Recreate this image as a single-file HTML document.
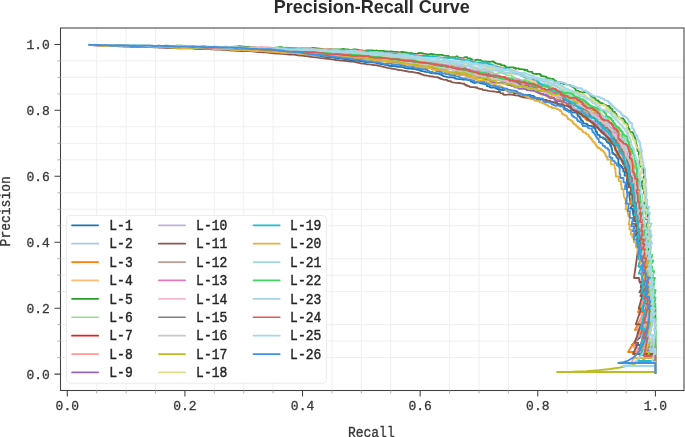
<!DOCTYPE html>
<html><head><meta charset="utf-8"><style>
html,body{margin:0;padding:0;background:#fff;width:685px;height:437px;overflow:hidden}
svg{display:block;will-change:transform}
.tl{font-family:"Liberation Mono",monospace;font-size:13px;fill:#383838;stroke:#383838;stroke-width:0.3px}
.lg{font-family:"Liberation Mono",monospace;font-size:13px;fill:#262626;stroke:#262626;stroke-width:0.38px}
.title{font-family:"Liberation Sans",sans-serif;font-size:18px;font-weight:bold;fill:#2a2a2a}
</style></head><body>
<svg width="685" height="437" viewBox="0 0 685 437">
<path d="M96.70 28.0V390.5M60.5 357.62H684.0M126.11 28.0V390.5M60.5 341.13H684.0M155.52 28.0V390.5M60.5 324.65H684.0M214.32 28.0V390.5M60.5 291.68H684.0M243.73 28.0V390.5M60.5 275.19H684.0M273.14 28.0V390.5M60.5 258.71H684.0M331.95 28.0V390.5M60.5 225.74H684.0M361.35 28.0V390.5M60.5 209.25H684.0M390.76 28.0V390.5M60.5 192.77H684.0M449.57 28.0V390.5M60.5 159.80H684.0M478.97 28.0V390.5M60.5 143.31H684.0M508.38 28.0V390.5M60.5 126.83H684.0M567.19 28.0V390.5M60.5 93.86H684.0M596.59 28.0V390.5M60.5 77.37H684.0M626.00 28.0V390.5M60.5 60.88H684.0" stroke="#efefef" stroke-width="1" fill="none"/>
<g fill="none" stroke-width="1.8" stroke-linejoin="round">
<path d="M88.6 44.9 91.2 44.9 93.8 45.0 96.4 45.1 98.9 45.1 101.5 45.2 104.1 45.3 106.5 45.3 108.9 45.4 111.3 45.4 113.9 45.5 116.3 45.6 118.8 45.8 121.1 45.8 123.5 45.9 126.0 46.1 128.0 45.9 130.2 45.9 132.8 45.8 135.2 46.0 137.6 46.1 139.9 45.8 142.3 46.0 144.5 46.1 146.7 46.2 149.4 46.3 151.8 46.2 154.1 46.3 156.7 46.4 159.3 46.5 161.4 46.6 163.6 46.8 165.9 46.7 168.1 46.9 170.5 46.9 172.9 46.9 175.0 47.1 177.3 47.1 179.7 47.1 182.1 47.2 184.5 47.3 186.7 47.2 188.8 47.5 190.8 47.4 193.1 47.4 195.3 47.4 197.8 47.2 200.4 47.2 202.8 47.0 205.4 47.1 207.3 47.4 209.9 47.4 212.1 47.6 214.5 47.9 216.6 48.0 218.8 48.1 221.2 48.1 223.3 48.3 225.8 48.4 228.1 48.4 230.4 48.3 232.5 48.5 234.8 48.5 237.1 48.5 239.3 48.8 241.3 49.0 243.7 49.2 245.9 49.3 248.2 49.4 250.2 49.6 252.2 49.9 254.8 49.9 257.0 50.0 259.4 50.0 261.9 50.0 264.1 50.2 266.4 50.1 268.6 50.2 271.1 50.4 273.2 50.6 275.1 51.0 277.4 51.4 279.5 51.6 281.9 51.7 284.4 52.1 286.8 52.3 288.8 52.5 291.0 52.5 292.8 52.9 294.9 53.1 297.1 53.3 299.2 53.1 301.2 53.5 303.4 53.6 305.2 54.0 307.4 54.3 309.6 54.5 311.9 54.8 313.9 55.3 316.0 55.4 318.1 55.5 320.0 55.9 321.9 56.3 323.8 56.7 325.9 57.0 328.1 57.3 330.3 57.4 332.5 57.4 334.4 57.9 336.9 58.0 339.0 57.9 340.8 58.4 342.7 58.8 344.5 58.8 344.5 59.5 347.0 59.7 349.0 60.0 351.3 60.0 353.4 60.6 355.7 60.7 358.1 60.9 360.4 61.0 362.6 61.3 364.3 61.8 366.3 62.0 368.6 62.1 370.8 61.9 372.9 62.3 374.9 62.6 376.8 63.1 378.9 63.5 381.0 63.5 381.0 64.2 383.2 64.4 385.2 64.9 387.2 65.2 389.3 65.8 391.4 66.0 393.8 66.0 396.0 66.4 397.7 66.9 400.0 66.9 402.3 67.1 404.1 67.1 404.1 67.8 406.0 68.2 407.9 68.5 410.1 68.6 412.4 68.8 414.5 69.0 416.3 69.5 418.1 69.9 419.8 69.9 419.8 70.7 422.1 71.0 423.9 71.5 425.9 71.9 428.1 72.2 429.7 72.2 429.7 72.8 431.9 73.0 433.9 73.3 435.6 73.7 438.0 73.6 439.5 73.6 439.5 74.4 441.3 74.4 441.3 75.1 442.8 75.1 442.8 75.9 444.8 76.3 446.7 76.8 448.6 77.3 450.9 77.2 453.0 77.5 454.7 77.5 454.7 78.3 456.8 78.9 458.9 79.1 461.0 79.2 463.1 79.6 465.3 79.4 467.4 79.9 469.3 80.4 470.9 80.4 470.9 81.5 472.5 81.5 472.5 82.5 474.3 83.0 476.4 82.7 478.3 82.3 479.8 82.3 479.8 83.1 482.1 83.6 484.1 83.8 485.9 84.4 486.8 84.4 486.8 86.0 488.6 86.4 489.9 86.4 489.9 87.4 491.9 87.7 494.2 87.5 495.7 87.5 495.7 88.4 497.2 88.4 497.2 89.1 498.7 89.1 498.7 89.8 501.0 89.8 503.2 90.0 505.1 89.6 506.8 89.6 506.8 90.6 508.2 90.6 508.2 91.7 510.5 91.9 512.8 91.6 513.7 91.6 513.7 93.1 516.0 93.2 518.0 93.5 519.6 93.5 519.6 94.3 521.6 94.6 522.8 94.6 522.8 95.8 525.0 96.0 526.7 95.3 528.5 94.8 530.4 94.8 530.4 95.6 532.4 95.9 533.8 95.9 533.8 96.9 534.9 96.9 534.9 98.2 536.5 98.2 536.5 99.0 538.5 98.8 540.1 98.8 540.1 100.0 541.4 99.1 543.1 99.1 543.1 99.9 545.2 100.1 546.6 100.1 546.6 100.9 548.0 100.9 548.0 101.7 550.0 102.3 552.1 102.1 553.8 102.7 556.0 102.6 557.1 102.6 557.1 104.2 558.4 104.2 558.4 105.3 560.6 105.5 562.3 105.5 562.3 106.1 563.8 106.1 563.8 106.9 564.5 106.9 564.5 108.6 565.9 108.6 565.9 109.5 567.6 109.5 567.6 110.1 569.7 110.6 570.8 110.6 570.8 111.9 572.6 112.4 574.8 112.7 577.0 112.9 577.3 112.9 577.3 114.9 578.1 114.9 578.1 116.4 579.6 116.4 579.6 117.4 580.3 117.4 580.3 119.0 581.1 119.0 581.1 120.5 582.3 120.5 582.3 121.5 583.2 121.5 583.2 123.2 585.0 123.7 586.6 123.7 586.6 124.5 587.8 124.5 587.8 125.6 590.1 125.8 591.8 125.8 591.8 126.4 593.2 126.4 593.2 127.3 594.3 127.3 594.3 128.6 595.4 128.6 595.4 129.8 595.8 129.8 595.8 131.7 596.9 131.7 596.9 132.9 597.3 132.9 597.3 134.7 599.2 135.2 599.8 135.2 599.8 137.0 601.7 137.4 603.1 137.4 603.1 138.5 604.8 138.5 604.8 139.2 606.0 139.2 606.0 140.6 606.9 140.6 606.9 142.0 608.1 142.0 608.1 143.1 609.6 143.1 609.6 144.0 610.2 144.0 610.2 145.8 611.2 145.8 611.2 147.1 611.6 147.1 611.6 149.1 612.2 149.1 612.2 150.7 612.2 150.7 612.2 152.9 613.2 152.9 613.2 154.1 614.8 154.1 614.8 154.9 615.9 154.9 615.9 156.0 616.5 156.0 616.5 157.7 617.8 157.7 617.8 158.8 618.4 158.8 618.4 160.4 618.3 160.4 618.3 162.8 618.7 162.8 618.7 164.8 620.1 164.8 620.1 165.8 621.4 165.8 621.4 167.0 622.4 167.0 622.4 168.4 623.3 168.4 623.3 171.4 624.6 171.4 624.6 175.7 626.9 175.7 626.9 180.5 627.1 180.5 627.1 184.3 626.9 184.3 626.9 187.8 627.1 187.8 627.1 192.4 629.3 192.4 629.3 195.5 630.6 204.1 633.2 204.1 630.2 208.6 632.3 208.6 633.3 215.0 634.4 215.0 632.0 223.8 635.2 223.8 633.8 228.3 636.1 228.3 635.2 233.8 636.7 233.8 637.6 239.2 638.8 239.2 636.2 246.7 638.1 246.7 638.0 254.2 641.0 254.2 641.0 261.0 642.9 261.0 640.9 265.7 643.5 265.7 642.7 273.1 645.6 273.1 643.4 277.8 644.5 277.8 641.3 286.2 643.8 286.2 644.1 290.7 646.8 290.7 643.9 294.9 646.5 294.9 644.5 300.0 647.2 300.0 640.9 312.0 647.2 312.0 637.6 333.4 644.1 333.4 632.0 345.0 655.4 345.0 655.4 374.1" stroke="#1f77b4"/>
<path d="M88.6 44.9 91.2 44.9 93.8 45.0 96.3 45.0 98.9 45.1 101.4 45.1 104.0 45.2 106.5 45.3 108.8 45.3 111.2 45.3 113.6 45.4 115.9 45.3 118.4 45.4 120.8 45.5 123.1 45.6 125.5 45.7 127.7 45.7 129.9 45.7 132.4 45.9 134.7 46.0 137.1 46.2 139.4 46.3 141.5 46.3 144.0 46.1 146.6 46.1 148.8 46.2 151.0 46.3 153.2 46.5 155.8 46.5 158.3 46.6 160.5 46.7 162.6 46.8 165.1 46.9 167.5 46.9 169.9 46.8 172.2 46.8 174.5 46.6 176.9 46.7 179.3 46.7 181.7 46.8 184.0 46.8 186.0 47.0 188.3 47.1 190.4 46.9 192.4 47.2 194.7 47.2 197.1 47.4 199.5 47.7 202.0 47.6 204.3 47.7 206.8 47.7 209.2 47.6 211.4 47.2 214.0 47.3 216.1 47.4 218.4 47.7 220.6 47.9 223.1 48.0 225.3 47.8 227.8 47.9 229.9 48.1 232.2 48.1 234.2 48.3 236.7 48.5 238.8 48.7 240.9 49.0 243.0 48.8 245.1 49.1 247.4 49.2 249.4 49.0 251.7 49.2 254.3 49.3 256.3 49.0 258.2 48.7 260.1 49.0 262.6 49.0 265.0 49.0 267.3 49.3 269.4 49.4 271.6 49.6 273.7 49.8 276.1 49.9 278.5 50.0 280.8 50.4 282.9 50.3 285.2 50.3 287.4 50.8 289.7 50.8 291.8 50.7 294.1 50.8 296.3 50.8 298.5 50.9 300.6 50.8 302.8 50.9 305.1 51.2 307.1 51.6 309.3 51.7 311.6 51.6 313.8 51.8 316.0 51.6 318.1 51.7 320.5 51.8 322.6 52.0 324.5 52.3 326.6 52.5 329.0 52.8 331.2 52.8 333.1 53.2 335.2 53.0 337.3 52.9 339.4 53.2 341.5 52.9 343.7 53.1 345.7 53.4 347.7 53.7 350.1 53.6 352.1 54.1 354.5 54.1 356.7 54.5 358.9 54.8 360.9 55.2 363.2 55.2 365.5 55.2 367.6 55.4 369.7 55.6 371.8 55.8 374.0 55.7 376.0 55.9 377.9 56.2 380.1 56.1 381.9 56.6 384.1 56.5 386.0 57.0 387.8 57.5 389.9 57.4 392.1 57.4 394.3 57.7 395.9 57.7 395.9 58.5 398.0 58.3 400.1 58.0 401.9 58.0 401.9 58.6 403.8 59.0 405.9 58.8 408.2 58.6 409.9 59.1 411.6 59.6 414.0 59.9 416.1 60.1 418.0 60.6 420.2 61.0 421.8 61.0 421.8 61.7 423.9 62.0 426.2 62.3 428.5 62.2 430.7 62.4 433.0 62.4 435.2 62.4 437.1 62.9 439.3 62.9 440.9 62.9 440.9 63.5 442.7 64.0 444.7 64.3 446.7 64.8 448.3 64.8 448.3 65.6 450.5 65.4 452.3 65.9 454.5 65.7 456.6 65.9 457.8 65.9 457.8 67.1 459.7 67.3 461.5 67.3 461.5 68.1 463.6 68.1 465.8 68.2 467.7 68.6 469.5 68.6 469.5 69.2 471.8 69.2 473.1 69.2 473.1 70.3 475.2 70.4 476.9 70.4 476.9 71.1 478.6 71.1 478.6 71.9 480.6 71.5 482.9 71.5 484.8 72.1 486.5 72.1 486.5 72.7 488.2 73.3 489.8 73.3 489.8 73.9 491.7 74.3 493.3 74.3 493.3 75.1 495.4 75.3 497.6 75.4 499.0 75.4 499.0 76.3 500.8 76.7 502.7 77.1 504.3 77.1 504.3 77.8 505.9 77.8 505.9 78.5 508.3 78.6 510.0 77.8 511.3 77.8 511.3 78.8 512.6 78.8 512.6 79.9 514.2 79.9 514.2 80.5 515.8 80.5 515.8 81.2 517.9 81.2 519.5 81.2 519.5 81.9 520.7 81.9 520.7 83.0 522.2 83.0 522.2 84.0 523.7 84.0 523.7 84.9 525.8 85.4 527.3 84.6 529.5 84.7 531.8 84.4 533.6 85.0 534.8 85.0 534.8 86.0 536.1 86.0 536.1 87.1 537.6 86.4 539.8 86.4 541.3 86.4 541.3 87.3 542.1 87.3 542.1 89.0 544.4 88.9 545.6 88.9 545.6 89.9 547.7 90.3 549.9 90.3 551.4 90.3 551.4 91.3 553.5 91.1 555.0 91.1 555.0 92.0 556.4 92.0 556.4 92.9 558.4 93.2 560.3 93.7 562.6 93.6 563.7 93.6 563.7 95.0 565.3 95.0 565.3 95.6 566.6 95.6 566.6 96.7 567.7 96.7 567.7 97.8 570.1 97.9 571.2 97.9 571.2 98.9 573.4 99.3 575.0 99.3 575.0 99.9 576.5 99.9 576.5 100.7 577.3 100.7 577.3 102.4 578.6 102.4 578.6 103.5 581.1 103.5 582.5 103.5 582.5 104.5 584.1 104.5 584.1 105.1 585.6 105.1 585.6 105.9 587.4 105.9 587.4 106.6 588.3 106.6 588.3 108.0 589.6 108.0 589.6 109.1 591.3 109.7 593.3 110.0 595.0 110.5 595.8 110.5 595.8 112.0 596.5 112.0 596.5 113.7 597.5 113.7 597.5 114.9 598.3 114.9 598.3 116.4 599.7 116.4 599.7 117.3 600.9 117.3 600.9 118.6 602.9 119.0 604.4 119.0 604.4 119.9 606.0 119.9 606.0 120.5 607.6 120.5 607.6 121.2 608.6 121.2 608.6 122.7 610.2 122.7 610.2 123.4 611.6 123.4 611.6 124.3 612.4 124.3 612.4 125.8 613.5 125.8 613.5 127.1 613.9 127.1 613.9 129.0 614.8 129.0 614.8 130.6 616.2 130.6 616.2 131.5 617.0 131.5 617.0 133.2 618.4 133.2 618.4 134.1 620.2 134.6 621.4 134.6 621.4 135.8 622.5 135.8 622.5 137.0 623.6 137.0 623.6 138.4 623.9 138.4 623.9 140.6 624.5 140.6 624.5 142.4 625.4 142.4 625.4 143.9 626.0 143.9 626.0 145.7 626.4 145.7 626.4 147.6 627.1 147.6 627.1 149.3 628.3 149.3 628.3 150.5 628.4 150.5 628.4 152.7 629.6 152.7 629.6 153.8 630.9 153.8 630.9 154.8 631.6 154.8 631.6 156.4 631.4 156.4 631.4 158.9 631.9 158.9 631.9 160.6 632.3 160.6 632.3 162.5 632.8 162.5 632.8 164.2 633.2 164.2 633.2 166.0 634.2 166.0 634.2 167.2 633.9 167.2 633.9 170.0 633.9 170.0 633.9 172.3 634.3 172.3 634.3 174.3 635.6 174.3 635.6 175.3 636.0 175.3 636.0 177.2 635.9 177.2 635.9 179.4 636.0 179.4 636.0 182.9 635.8 182.9 635.8 185.5 640.0 185.5 640.0 190.4 639.7 190.4 639.7 193.5 639.8 193.5 639.8 196.9 638.5 201.2 641.2 201.2 637.8 205.2 640.8 205.2 639.9 209.2 642.8 209.2 639.9 215.0 641.7 215.0 642.0 221.4 643.5 221.4 642.0 226.4 644.7 226.4 643.2 235.0 644.6 235.0 642.7 240.4 646.1 240.4 644.4 247.8 647.6 247.8 644.8 253.7 647.6 253.7 644.4 261.3 647.1 261.3 648.3 267.7 650.1 267.7 646.6 273.5 648.0 273.5 645.5 277.9 647.4 277.9 648.2 286.2 650.0 286.2 646.0 293.0 649.0 293.0 649.3 297.5 651.2 297.5 648.5 303.3 651.2 303.3 648.2 310.0 649.2 310.0 646.0 327.0 648.0 327.0 645.0 340.0 655.4 340.0 655.4 374.1" stroke="#aec7e8"/>
<path d="M88.7 45.0 91.4 45.1 94.0 45.1 96.6 45.2 99.2 45.3 101.7 45.4 104.2 45.4 106.7 45.5 109.2 45.6 111.7 45.7 114.2 45.8 116.5 45.8 119.0 45.9 121.2 45.9 123.6 46.0 125.7 45.9 128.1 46.0 130.3 46.0 132.7 46.1 135.5 46.2 137.7 46.3 140.6 46.4 142.7 46.4 144.9 46.5 147.1 46.6 149.4 46.8 151.8 46.7 154.1 46.8 156.2 46.9 158.3 47.0 160.6 46.8 163.2 46.9 165.5 46.8 168.0 46.9 170.2 47.1 172.5 47.0 174.7 46.8 177.2 47.0 179.7 47.1 181.7 47.3 184.2 47.5 186.3 47.8 188.8 48.0 191.0 48.0 193.3 48.1 195.4 48.4 197.9 48.3 200.3 48.6 202.9 48.5 205.1 48.6 207.6 48.6 210.1 48.5 212.6 48.5 215.0 48.5 217.5 48.6 219.8 48.8 221.9 49.0 224.2 48.9 226.5 48.8 228.6 49.0 231.0 49.0 233.5 49.3 235.6 49.4 237.7 49.3 239.9 49.2 242.0 49.4 244.1 49.7 246.2 50.1 248.5 50.2 250.9 50.1 253.2 50.2 255.2 50.5 257.6 50.4 260.0 50.3 262.3 50.6 264.4 50.7 266.6 50.8 268.7 50.9 271.1 50.9 273.3 51.2 275.4 51.3 277.5 51.5 279.8 51.5 282.1 51.6 284.4 51.6 286.5 51.8 288.7 51.9 290.8 52.1 293.1 52.2 295.2 52.2 297.3 51.9 299.5 52.0 301.5 52.3 303.6 52.8 305.8 52.9 308.0 53.1 309.9 53.4 311.9 53.7 314.1 53.5 316.3 53.3 318.4 52.9 320.8 53.1 323.0 53.3 324.9 53.7 327.0 53.9 329.0 54.1 331.1 54.4 333.0 54.9 335.2 54.9 337.4 54.8 339.5 54.7 341.8 55.0 343.9 54.9 346.2 55.1 348.4 55.3 350.4 55.6 352.4 55.4 354.3 55.7 356.3 56.1 358.4 56.2 360.6 56.5 362.9 56.6 364.8 57.0 366.9 57.2 369.2 57.2 371.4 57.1 373.5 57.2 375.5 57.4 377.7 57.2 379.5 57.7 381.7 57.6 383.8 58.0 386.0 58.1 387.9 58.1 387.9 58.7 389.7 58.7 389.7 59.3 391.7 59.8 393.6 59.8 393.6 60.5 395.7 60.6 397.8 60.5 400.0 60.8 402.1 60.6 404.0 61.0 406.4 61.2 408.7 61.3 410.6 61.6 412.4 61.6 412.4 62.3 414.6 62.1 416.5 62.7 418.8 62.7 420.7 63.1 422.3 63.7 424.2 64.2 425.9 64.8 427.9 65.1 429.9 65.3 431.6 65.9 433.6 66.3 435.6 66.8 437.6 67.1 439.6 67.4 441.4 67.4 441.4 68.2 443.6 68.3 445.8 68.0 448.0 68.2 450.2 68.4 451.7 68.4 451.7 69.2 453.5 69.6 455.6 69.6 457.1 69.6 457.1 70.4 459.3 70.6 461.2 71.0 462.7 71.0 462.7 72.0 464.6 72.3 466.3 72.3 466.3 73.0 468.2 73.5 469.9 73.5 469.9 74.1 471.6 73.6 473.8 73.9 475.4 73.9 475.4 75.0 476.8 75.0 476.8 75.9 478.6 75.4 480.7 75.7 482.5 75.7 482.5 76.3 483.9 76.3 483.9 77.1 485.8 77.6 487.6 77.6 487.6 78.3 489.7 78.7 491.5 79.0 493.1 79.0 493.1 80.2 495.1 79.7 497.4 79.6 499.2 80.1 501.1 80.6 502.9 80.6 502.9 81.2 504.5 81.2 504.5 81.8 505.8 81.8 505.8 82.7 507.9 82.9 508.9 82.9 508.9 84.3 510.9 83.7 513.0 83.8 514.8 83.8 514.8 84.6 516.9 84.7 518.9 84.7 518.9 85.4 520.6 85.4 520.6 86.3 522.1 86.3 522.1 87.0 523.6 87.0 523.6 88.0 525.4 88.5 527.1 88.5 527.1 89.2 529.0 89.6 530.3 89.6 530.3 90.8 532.2 90.4 534.2 90.9 536.2 90.6 537.4 90.6 537.4 91.7 538.5 91.7 538.5 93.1 540.0 93.1 540.0 93.9 541.5 93.9 541.5 94.6 543.6 94.7 545.1 94.7 545.1 95.5 546.9 95.5 546.9 96.1 548.6 96.7 551.0 96.4 552.1 96.4 552.1 97.6 553.5 97.6 553.5 98.5 555.5 99.0 557.4 99.3 559.2 99.3 559.2 100.0 560.7 100.0 560.7 100.7 561.8 100.7 561.8 102.2 563.7 102.5 565.9 102.8 566.7 102.8 566.7 104.5 567.5 104.5 567.5 106.1 568.9 106.1 568.9 107.1 571.2 107.0 572.2 107.0 572.2 108.4 573.3 108.4 573.3 109.7 574.8 109.7 574.8 110.5 576.7 110.8 578.0 110.8 578.0 111.9 579.2 111.9 579.2 113.0 580.1 113.0 580.1 114.4 581.4 114.4 581.4 115.4 582.5 115.4 582.5 116.8 584.1 116.8 584.1 117.7 585.3 117.7 585.3 118.9 586.4 118.9 586.4 120.2 588.2 120.2 588.2 120.8 590.2 121.0 591.7 121.0 591.7 121.8 592.1 121.8 592.1 123.7 594.1 124.1 594.9 124.1 594.9 125.7 596.4 125.7 596.4 126.5 597.5 126.5 597.5 127.7 598.6 127.7 598.6 129.0 599.9 129.0 599.9 129.9 600.9 129.9 600.9 131.4 602.7 132.0 604.2 132.0 604.2 132.9 604.7 132.9 604.7 134.7 606.0 134.7 606.0 135.7 606.7 135.7 606.7 137.5 608.1 137.5 608.1 138.5 608.2 138.5 608.2 140.7 609.8 140.7 609.8 141.6 611.9 141.9 612.0 141.9 612.0 144.0 613.3 144.0 613.3 144.8 614.6 144.8 614.6 145.8 615.9 145.8 615.9 146.7 615.7 146.7 615.7 148.8 616.2 148.8 616.2 150.6 616.5 150.6 616.5 152.7 617.0 152.7 617.0 154.5 618.0 154.5 618.0 155.7 618.9 155.7 618.9 157.0 620.0 157.0 620.0 158.2 621.1 158.2 621.1 159.3 621.5 159.3 621.5 161.1 622.2 161.1 622.2 162.6 623.0 162.6 623.0 164.2 623.9 164.2 623.9 165.9 625.2 165.9 625.2 167.0 624.9 167.0 624.9 168.9 625.6 168.9 625.6 170.6 626.1 170.6 626.1 172.5 627.0 172.5 627.0 174.0 627.4 174.0 627.4 175.9 627.0 175.9 627.0 178.3 628.7 178.3 628.7 182.3 629.9 182.3 629.9 186.2 631.1 186.2 631.1 190.4 630.6 190.4 630.6 193.2 631.8 193.2 631.8 196.8 630.4 204.3 633.7 204.3 636.1 210.9 637.6 210.9 634.8 218.3 636.9 218.3 634.7 226.6 637.5 226.6 635.6 232.4 638.6 232.4 636.7 239.0 639.3 239.0 636.5 243.3 638.2 243.3 639.1 251.6 640.2 251.6 638.5 259.1 641.7 259.1 640.1 267.3 641.5 267.3 641.8 271.9 643.7 271.9 641.8 276.2 644.3 276.2 640.2 283.5 642.8 283.5 644.6 291.6 646.4 291.6 642.4 295.7 643.9 295.7 642.2 300.0 643.6 300.0 637.9 312.2 644.3 312.2 634.8 329.9 642.1 329.9 628.0 352.0 655.4 352.0 655.4 374.1" stroke="#ff7f0e"/>
<path d="M88.6 44.9 91.2 45.0 93.8 45.0 96.4 45.1 98.9 45.1 101.5 45.2 104.0 45.3 106.5 45.3 108.9 45.4 111.4 45.4 113.7 45.4 116.1 45.4 118.6 45.6 120.9 45.6 123.2 45.6 125.5 45.7 127.8 45.7 130.0 45.7 132.0 46.0 134.7 46.0 137.2 45.8 139.9 45.8 142.1 45.8 144.3 46.0 146.6 46.1 148.8 46.3 151.0 46.3 153.5 46.3 156.0 46.3 158.7 46.4 160.8 46.5 163.5 46.7 165.6 46.9 167.9 46.7 170.4 46.8 172.5 47.0 174.8 46.9 177.1 46.9 179.5 47.0 181.9 47.1 184.2 47.0 186.6 47.1 188.8 47.1 191.2 47.3 193.3 47.2 195.4 47.5 197.6 47.5 200.2 47.5 202.6 47.3 205.1 47.2 207.4 47.4 209.9 47.4 212.1 47.5 214.3 47.6 216.5 47.9 219.1 48.0 221.2 48.2 223.6 48.6 225.8 48.9 228.1 48.9 230.3 48.6 232.4 48.4 235.0 48.7 237.2 48.6 239.4 48.6 241.7 48.6 243.8 48.9 246.1 49.1 248.2 49.3 250.3 49.2 252.6 49.4 254.8 49.4 257.1 49.2 259.3 49.3 261.6 49.5 263.7 49.6 266.1 49.7 268.3 49.8 270.5 50.0 272.8 50.0 275.3 50.2 277.5 50.5 279.8 50.4 282.1 50.5 284.4 50.5 286.7 50.7 289.0 50.7 291.1 50.6 293.4 50.6 295.2 51.1 297.3 50.9 299.7 50.9 301.9 51.4 304.1 51.6 306.4 51.4 308.7 51.7 310.9 51.9 312.8 52.1 315.1 52.1 317.2 52.2 319.4 52.4 321.6 52.2 323.7 52.4 325.9 52.2 328.2 52.4 330.4 52.2 332.0 52.7 334.3 52.9 336.4 53.2 338.6 53.3 340.9 53.4 343.1 53.6 345.1 53.8 347.1 53.6 349.2 54.0 351.4 54.2 353.1 54.7 355.1 54.4 357.6 54.6 359.9 54.7 361.9 55.2 364.1 55.5 366.3 55.3 368.4 55.5 370.6 55.4 372.3 56.0 374.6 55.9 376.8 56.0 378.9 56.2 380.7 56.6 382.9 56.5 384.9 56.8 386.9 57.1 388.9 57.3 391.1 57.4 392.9 57.9 395.1 58.0 397.2 58.0 397.2 58.6 399.3 58.7 401.3 59.1 403.3 59.6 405.6 59.8 407.8 59.9 409.8 59.7 411.5 60.2 413.2 60.7 415.1 61.2 417.3 61.5 419.3 61.7 421.6 61.7 423.7 61.9 425.7 61.4 427.3 62.0 429.0 62.0 429.0 62.8 431.1 63.3 432.7 63.3 432.7 64.0 434.9 64.0 436.7 64.5 439.0 64.5 441.0 64.8 442.8 64.8 442.8 65.5 445.0 65.7 446.8 65.7 446.8 66.5 448.6 67.0 450.8 67.2 453.0 67.4 455.1 67.7 457.3 68.0 459.5 67.8 461.0 67.8 461.0 68.7 462.3 68.7 462.3 69.6 464.3 70.0 466.6 70.0 468.8 70.0 470.7 69.7 472.9 69.7 472.9 70.3 475.0 70.2 476.9 70.2 476.9 71.0 478.1 71.0 478.1 72.2 480.0 72.7 481.5 72.7 481.5 73.7 483.1 74.2 485.3 74.4 487.1 74.4 487.1 75.0 488.9 74.5 490.8 75.0 492.3 75.0 492.3 76.0 494.2 76.5 496.0 75.9 498.1 76.3 499.4 76.3 499.4 77.6 501.3 76.7 502.6 76.7 502.6 77.6 504.5 77.6 504.5 78.2 505.8 78.2 505.8 79.2 507.9 79.5 510.1 79.3 512.1 79.1 514.3 79.0 515.3 79.0 515.3 80.3 517.1 80.8 518.4 80.8 518.4 82.0 520.5 82.2 522.0 82.2 522.0 83.1 523.3 83.1 523.3 84.2 525.3 84.0 527.4 84.2 529.2 84.2 529.2 84.8 530.7 84.8 530.7 85.6 532.9 85.8 535.1 85.9 537.0 86.3 538.5 86.3 538.5 86.9 539.8 86.9 539.8 87.9 541.5 87.9 541.5 88.6 543.3 88.6 543.3 89.4 544.5 89.4 544.5 90.5 545.8 90.5 545.8 91.7 547.2 91.7 547.2 92.8 549.0 93.3 551.1 93.1 553.3 93.3 554.7 93.3 554.7 94.4 556.6 93.7 558.4 93.7 558.4 94.3 559.7 94.3 559.7 95.4 560.8 95.4 560.8 96.8 563.0 97.0 564.9 97.4 566.5 97.4 566.5 98.4 567.9 98.4 567.9 99.5 568.9 99.5 568.9 100.7 570.8 101.3 571.9 101.3 571.9 102.8 573.8 103.3 575.2 103.3 575.2 104.3 577.6 104.2 578.8 104.2 578.8 105.6 579.6 105.6 579.6 107.1 580.9 107.1 580.9 108.2 581.9 108.2 581.9 109.5 583.3 109.5 583.3 110.4 585.2 110.9 587.0 110.9 587.0 111.5 588.3 111.5 588.3 112.5 589.6 112.5 589.6 113.7 591.7 113.9 593.5 113.9 593.5 114.6 594.2 114.6 594.2 116.2 595.7 116.2 595.7 117.0 596.5 117.0 596.5 118.4 597.2 118.4 597.2 120.0 598.3 120.0 598.3 121.4 598.8 121.4 598.8 123.3 600.8 123.6 602.8 124.1 604.5 124.1 604.5 124.9 605.4 124.9 605.4 126.5 606.5 126.5 606.5 127.7 607.7 127.7 607.7 129.0 608.1 129.0 608.1 131.1 609.1 131.1 609.1 132.6 610.2 132.6 610.2 133.8 611.3 133.8 611.3 135.1 612.8 135.1 612.8 135.9 613.8 135.9 613.8 137.2 615.7 137.8 616.5 137.8 616.5 139.4 617.3 139.4 617.3 140.9 618.4 140.9 618.4 142.2 619.6 142.2 619.6 143.4 620.3 143.4 620.3 145.0 620.9 145.0 620.9 146.8 621.4 146.8 621.4 148.7 621.9 148.7 621.9 150.5 622.6 150.5 622.6 152.1 623.5 152.1 623.5 153.5 624.9 153.5 624.9 154.3 625.4 154.3 625.4 156.2 626.3 156.2 626.3 157.5 626.7 157.5 626.7 159.3 626.7 159.3 626.7 161.6 627.3 161.6 627.3 163.3 627.2 163.3 627.2 165.5 628.0 165.5 628.0 167.2 629.4 167.2 629.4 168.1 630.3 168.1 630.3 169.5 631.2 169.5 631.2 171.1 632.2 171.1 632.2 172.6 632.3 172.6 632.3 174.8 632.4 174.8 632.4 177.1 632.7 177.1 632.7 179.1 631.7 179.1 631.7 182.9 632.8 182.9 632.8 187.3 633.0 187.3 633.0 190.7 634.4 190.7 634.4 193.6 635.2 193.6 635.2 198.0 635.3 206.9 638.7 206.9 635.9 211.3 639.1 211.3 636.5 219.8 637.8 219.8 640.1 227.6 641.9 227.6 639.8 232.9 642.0 232.9 638.8 237.3 641.7 237.3 639.4 246.1 641.1 246.1 641.1 255.0 644.4 255.0 642.3 261.2 644.4 261.2 643.5 268.4 644.7 268.4 644.0 273.5 646.4 273.5 645.1 279.3 647.4 279.3 644.1 284.2 647.4 284.2 644.7 290.3 646.3 290.3 646.2 294.5 648.6 294.5 645.1 300.6 647.7 300.6 648.2 305.0 649.4 305.0 645.6 317.1 649.5 317.1 644.1 332.9 647.8 332.9 640.0 352.0 655.4 352.0 655.4 374.1" stroke="#ffbb78"/>
<path d="M88.4 44.7 91.0 44.8 93.6 44.8 96.1 44.9 98.6 44.9 101.2 45.0 103.6 45.0 106.0 45.0 108.4 44.9 110.9 45.0 113.3 45.1 115.5 45.0 118.0 45.1 120.3 45.1 122.5 45.1 124.9 45.1 127.3 45.3 129.5 45.2 131.7 45.3 133.9 45.3 136.3 45.5 138.8 45.8 141.4 45.7 144.1 45.7 146.2 45.8 148.4 45.9 151.1 45.9 153.7 46.0 156.1 45.9 158.3 45.6 160.6 45.8 163.1 45.9 165.4 45.7 167.8 45.7 169.9 45.9 172.4 45.9 174.6 45.8 176.7 45.6 179.1 45.6 181.5 45.7 184.0 45.9 186.0 46.1 188.3 46.1 190.6 46.2 192.9 46.2 195.3 46.4 197.7 46.6 200.2 46.6 202.6 46.3 204.8 46.4 207.1 46.7 209.5 46.9 212.0 46.9 214.4 46.8 216.8 46.8 219.3 46.9 221.6 47.1 223.8 46.9 226.2 47.0 228.7 47.1 231.1 47.2 233.1 46.9 235.3 46.7 237.5 46.5 239.5 46.2 241.9 46.5 244.3 46.7 246.3 46.9 248.6 47.0 251.0 47.3 253.0 47.5 255.2 47.5 257.5 47.8 259.8 48.0 262.0 48.2 264.5 48.2 266.6 47.9 269.1 47.9 271.4 47.9 273.8 47.9 276.0 47.6 278.1 47.4 280.3 47.1 282.4 47.4 284.3 47.8 286.4 47.6 288.8 47.8 291.1 47.8 293.1 48.1 295.4 48.2 297.4 48.4 299.4 48.7 301.4 48.4 303.9 48.5 306.4 48.5 308.7 48.5 311.0 48.3 313.0 48.0 315.1 48.1 317.3 48.3 319.5 48.6 321.6 48.9 323.8 49.2 326.2 49.4 328.3 49.5 330.1 49.1 332.2 49.5 334.4 49.5 336.6 49.3 338.9 49.5 341.0 49.3 343.0 48.9 345.1 49.2 347.1 49.4 349.1 49.7 351.5 49.8 353.8 49.4 355.9 49.5 357.9 49.9 359.9 50.3 362.0 50.4 364.2 50.8 366.2 50.5 368.5 50.4 370.8 50.3 372.9 50.5 374.8 50.9 376.7 50.5 378.6 51.0 380.8 50.8 383.0 50.8 384.9 51.2 387.1 51.3 389.0 51.7 390.8 51.4 393.1 51.7 395.1 51.9 397.3 52.0 399.3 52.3 401.4 51.9 403.6 52.0 405.4 52.5 406.9 52.5 406.9 53.1 409.1 53.2 411.4 53.0 413.2 53.6 415.3 53.8 417.4 53.6 418.9 52.9 421.1 53.2 422.8 53.2 422.8 53.8 425.2 53.8 426.8 54.4 429.0 54.5 430.7 53.9 432.2 53.9 432.2 54.7 434.3 54.4 436.1 54.8 438.4 54.8 440.7 54.8 442.6 54.8 442.6 55.4 444.7 55.6 446.7 55.9 448.6 55.9 448.6 56.6 450.4 57.1 452.7 56.9 455.0 57.4 456.3 56.4 457.7 56.4 457.7 57.3 459.5 57.7 461.5 58.1 463.5 57.8 465.4 57.2 467.2 57.2 467.2 57.9 468.9 58.5 470.5 58.5 470.5 59.2 472.0 59.2 472.0 60.0 473.8 60.6 475.6 60.0 477.5 59.6 479.2 60.1 481.0 60.1 481.0 60.8 482.7 61.4 485.0 61.4 486.5 61.4 486.5 62.1 488.3 61.7 490.3 61.9 492.4 61.4 493.6 61.4 493.6 62.4 495.1 62.4 495.1 63.2 497.1 63.6 499.0 64.1 500.7 64.1 500.7 64.9 502.7 65.4 504.4 65.4 504.4 66.0 505.5 66.0 505.5 67.2 507.7 67.4 510.0 67.3 512.2 67.3 513.9 67.3 513.9 68.0 515.6 68.0 515.6 68.8 517.3 68.3 518.9 68.3 518.9 69.0 521.2 69.1 523.2 69.3 524.5 69.3 524.5 70.4 526.3 69.9 527.3 69.9 527.3 71.1 529.0 71.6 531.3 71.8 532.3 71.8 532.3 73.3 534.2 73.7 536.2 74.0 538.6 73.8 540.1 73.8 540.1 74.8 541.1 74.8 541.1 76.0 543.4 76.1 545.1 76.6 546.3 76.6 546.3 77.9 547.9 77.9 547.9 78.8 550.1 78.5 552.1 79.0 553.5 79.0 553.5 80.2 554.8 80.2 554.8 81.2 556.4 81.2 556.4 82.0 558.4 82.2 560.0 82.2 560.0 83.0 562.1 82.6 563.2 82.6 563.2 84.0 565.3 84.1 567.0 84.6 569.1 84.8 570.3 84.8 570.3 86.0 571.9 86.0 571.9 86.6 573.4 86.6 573.4 87.7 574.9 87.7 574.9 88.8 575.6 88.8 575.6 90.3 577.3 90.8 578.5 90.8 578.5 91.8 580.7 92.0 582.6 92.6 584.7 91.9 586.5 92.4 588.1 92.4 588.1 93.2 589.3 93.2 589.3 94.2 590.4 94.2 590.4 95.4 591.4 95.4 591.4 96.9 593.0 96.9 593.0 97.7 594.5 97.7 594.5 98.6 595.5 98.6 595.5 100.0 597.3 100.5 598.3 100.5 598.3 101.7 599.7 101.7 599.7 102.9 601.6 103.2 602.6 103.2 602.6 104.4 604.5 104.4 604.5 105.2 606.2 105.2 606.2 105.9 608.5 106.0 609.4 106.0 609.4 107.4 610.4 107.4 610.4 108.7 611.9 108.7 611.9 109.7 612.5 109.7 612.5 111.5 614.5 111.9 614.9 111.9 614.9 113.9 616.3 113.9 616.3 115.0 616.8 115.0 616.8 116.9 618.4 116.9 618.4 117.7 619.9 117.7 619.9 118.6 622.0 118.5 623.3 118.5 623.3 119.6 624.2 119.6 624.2 121.0 625.1 121.0 625.1 122.3 626.0 122.3 626.0 123.7 627.4 123.7 627.4 124.7 627.8 124.7 627.8 126.7 628.2 126.7 628.2 128.6 629.4 128.6 629.4 129.8 629.6 129.8 629.6 132.0 631.8 132.1 632.8 132.1 632.8 133.6 633.5 133.6 633.5 135.4 634.3 135.4 634.3 137.1 635.0 137.1 635.0 138.8 635.7 138.8 635.7 140.6 635.8 140.6 635.8 143.1 636.2 143.1 636.2 145.1 636.9 145.1 636.9 146.8 637.1 146.8 637.1 149.0 637.5 149.0 637.5 151.0 638.8 151.0 638.8 152.0 638.7 152.0 638.7 154.2 639.9 154.2 639.9 155.4 639.4 155.4 639.4 157.8 639.7 157.8 639.7 159.9 639.6 159.9 639.6 162.2 640.2 162.2 640.2 163.9 640.0 163.9 640.0 166.0 641.2 166.0 641.2 167.1 642.1 167.1 642.1 168.4 643.3 168.4 643.3 169.6 644.0 169.6 644.0 171.1 643.5 171.1 643.5 172.9 644.4 172.9 644.4 174.2 644.5 174.2 644.5 176.4 643.8 176.4 643.8 178.3 643.1 178.3 643.1 179.9 642.6 179.9 642.6 181.6 641.9 181.6 641.9 183.4 641.6 183.4 641.6 185.6 642.4 185.6 642.4 187.2 642.9 187.2 642.9 189.0 644.0 189.0 644.0 193.6 645.3 193.6 645.3 196.6 644.5 203.9 646.7 203.9 645.4 208.5 647.1 208.5 645.7 214.5 648.5 214.5 646.0 219.3 649.0 219.3 645.7 226.3 648.6 226.3 646.1 230.3 649.3 230.3 647.6 235.2 650.5 235.2 648.3 241.3 650.9 241.3 647.5 249.6 650.0 249.6 647.0 258.6 650.0 258.6 646.6 262.0 649.6 262.0 645.1 273.3 649.9 273.3 643.5 294.8 649.4 294.8 646.0 306.0 655.4 306.0 655.4 374.1" stroke="#2ca02c"/>
<path d="M88.5 44.8 91.1 44.9 93.7 45.0 96.3 45.0 98.8 45.0 101.2 45.0 103.7 45.0 106.1 45.1 108.5 45.0 110.8 45.0 113.3 45.1 115.6 45.1 118.2 45.2 120.4 45.2 122.4 45.5 124.7 45.5 127.1 45.6 129.3 45.6 131.8 45.8 134.2 46.0 136.9 46.0 139.5 45.9 141.7 46.0 144.3 46.0 146.7 46.3 149.3 46.2 151.9 46.3 154.1 46.4 156.3 46.6 158.8 46.5 161.3 46.6 163.5 46.7 166.0 46.8 168.5 46.8 170.5 46.5 172.7 46.2 175.0 46.2 177.3 46.2 179.9 46.4 182.2 46.4 184.5 46.4 186.9 46.6 188.9 46.8 191.2 46.8 193.5 46.9 195.6 47.2 197.8 47.3 199.8 47.5 202.5 47.6 204.8 47.8 207.1 47.6 209.4 47.7 211.8 47.6 214.2 47.6 216.4 47.8 219.0 48.0 221.3 47.8 223.6 47.7 225.9 47.6 228.3 47.6 230.4 47.8 232.6 47.6 234.9 47.7 237.0 47.8 239.1 47.7 241.4 47.7 243.6 48.1 245.8 48.2 248.0 48.1 250.3 48.3 252.9 48.3 254.9 48.7 257.4 48.6 259.6 48.7 261.5 49.0 264.1 49.1 266.5 49.2 268.8 49.1 271.2 49.1 273.4 49.3 275.5 49.4 277.7 49.3 279.6 49.7 281.5 50.1 283.8 50.1 285.8 49.7 288.0 49.6 290.1 49.8 292.2 49.7 294.5 49.9 297.1 50.0 299.3 50.1 301.6 50.4 304.0 50.4 306.3 50.6 308.7 50.6 310.9 50.8 313.0 50.9 315.4 50.9 317.7 50.9 319.7 51.3 321.8 51.5 323.8 52.0 326.0 52.0 328.3 52.0 330.5 51.8 332.6 51.6 334.8 51.5 337.1 51.6 339.1 51.8 341.3 52.0 343.4 52.3 345.6 52.5 347.6 52.9 349.8 53.0 351.8 53.4 354.2 53.3 356.5 53.3 358.7 53.4 360.8 53.6 363.2 53.7 365.3 54.0 367.1 54.0 367.1 54.7 369.2 54.8 371.1 55.2 373.3 55.1 375.5 54.9 377.7 54.8 379.6 55.2 381.6 55.5 383.9 55.8 386.0 55.5 388.2 55.5 390.3 55.9 392.3 56.1 394.4 56.2 396.5 56.0 398.7 56.1 400.1 56.1 400.1 57.0 402.1 57.4 404.2 57.5 406.2 58.0 408.4 58.2 410.1 58.2 410.1 58.8 412.3 59.1 414.5 58.8 416.3 58.4 418.6 58.5 420.5 58.8 422.8 59.0 424.9 59.3 426.8 59.8 428.5 59.8 428.5 60.4 430.6 60.7 432.2 60.7 432.2 61.3 434.5 61.4 436.7 61.3 438.9 61.2 441.2 61.0 443.0 61.5 444.6 61.5 444.6 62.2 446.4 62.2 446.4 62.8 448.6 62.8 450.2 62.8 450.2 63.5 452.4 64.0 454.4 64.3 456.6 64.3 458.6 64.9 460.6 65.4 461.9 65.4 461.9 66.5 463.9 66.2 465.8 66.5 467.4 65.8 469.3 66.3 471.1 66.9 473.0 66.9 473.0 67.5 475.0 67.9 476.4 67.9 476.4 68.9 478.1 68.9 478.1 69.5 480.0 69.9 482.0 69.5 483.6 68.5 485.6 68.9 486.8 68.9 486.8 70.2 488.7 70.6 489.8 70.6 489.8 71.9 491.5 71.9 491.5 72.7 493.3 72.7 493.3 73.3 495.3 73.6 497.2 73.3 499.1 72.9 501.3 72.6 502.9 72.6 502.9 73.6 504.9 73.6 504.9 74.2 506.3 74.2 506.3 75.1 508.0 75.7 510.2 75.4 511.6 75.4 511.6 76.3 512.9 76.3 512.9 77.2 514.2 77.2 514.2 78.2 515.8 78.2 515.8 78.9 517.9 79.4 519.7 79.4 519.7 80.1 521.5 80.1 521.5 80.7 523.3 80.0 525.2 79.3 526.2 79.3 526.2 80.6 528.0 80.6 528.0 81.4 529.5 81.4 529.5 82.2 531.8 82.1 533.3 82.1 533.3 83.1 534.8 83.1 534.8 83.8 536.4 83.8 536.4 84.4 538.5 84.9 540.1 84.9 540.1 85.7 541.3 85.7 541.3 86.8 543.4 87.0 545.7 87.1 547.5 87.7 549.3 87.2 551.5 87.5 553.2 87.5 553.2 88.4 554.7 88.4 554.7 89.3 555.4 89.3 555.4 91.0 557.4 90.7 558.6 90.7 558.6 91.7 560.1 91.7 560.1 92.3 561.7 92.3 561.7 92.9 563.4 93.5 565.2 93.0 566.8 93.0 566.8 93.6 567.6 93.6 567.6 95.1 569.6 94.9 570.6 94.9 570.6 96.2 572.6 96.5 574.5 97.0 576.1 96.3 577.1 96.3 577.1 97.6 578.5 97.6 578.5 98.7 580.3 98.7 580.3 99.5 581.5 99.5 581.5 100.8 582.5 100.8 582.5 102.2 583.8 102.2 583.8 103.4 585.4 103.4 585.4 104.1 587.0 104.1 587.0 104.7 588.6 104.7 588.6 105.3 590.0 105.3 590.0 106.4 592.0 106.8 593.9 106.8 593.9 107.4 594.9 107.4 594.9 108.6 596.1 108.6 596.1 109.9 597.5 109.9 597.5 110.9 599.2 111.4 599.9 111.4 599.9 113.1 600.7 113.1 600.7 114.7 602.2 114.7 602.2 115.5 603.8 116.1 605.8 116.7 607.2 116.7 607.2 117.7 608.6 117.7 608.6 118.7 610.3 119.2 611.6 119.2 611.6 120.4 612.8 120.4 612.8 121.6 613.4 121.6 613.4 123.3 614.4 123.3 614.4 124.8 614.6 124.8 614.6 127.1 616.3 127.6 617.8 127.6 617.8 128.5 619.1 128.5 619.1 129.5 620.5 129.5 620.5 130.5 621.4 130.5 621.4 132.1 622.2 132.1 622.2 133.8 623.9 134.3 623.8 134.3 623.8 136.4 624.9 136.4 624.9 137.8 625.4 137.8 625.4 139.7 626.1 139.7 626.1 141.5 627.6 141.5 627.6 142.3 628.4 142.3 628.4 144.0 629.6 144.0 629.6 145.1 630.4 145.1 630.4 146.7 630.6 146.7 630.6 148.9 630.0 148.9 630.0 151.3 630.9 151.3 630.9 152.7 631.0 152.7 631.0 155.0 631.3 155.0 631.3 156.9 632.4 156.9 632.4 158.2 632.8 158.2 632.8 160.0 634.2 160.0 634.2 161.0 634.7 161.0 634.7 162.7 634.7 162.7 634.7 164.9 635.0 164.9 635.0 166.8 635.4 166.8 635.4 168.9 636.2 168.9 636.2 170.3 636.5 170.3 636.5 172.3 637.5 172.3 637.5 173.8 637.0 173.8 637.0 176.1 637.7 176.1 637.7 177.8 638.0 177.8 638.0 179.8 639.2 179.8 639.2 183.2 639.8 183.2 639.8 188.1 639.5 188.1 639.5 191.6 639.3 191.6 639.3 194.3 638.7 194.3 638.7 197.6 640.9 204.3 643.0 204.3 641.9 208.8 643.3 208.8 641.3 217.3 643.5 217.3 643.1 222.4 644.7 222.4 643.5 229.7 646.3 229.7 644.8 234.0 646.0 234.0 644.3 239.8 646.4 239.8 644.8 245.5 647.8 245.5 644.7 249.9 646.8 249.9 646.2 257.6 647.3 257.6 646.9 264.6 649.3 264.6 647.7 269.5 650.2 269.5 649.0 274.6 652.0 274.6 648.4 282.4 650.0 282.4 648.7 290.1 651.8 290.1 648.2 294.7 650.9 294.7 649.1 301.0 652.2 301.0 648.8 308.9 651.8 308.9 647.9 321.5 650.7 321.5 647.0 344.0 655.4 344.0 655.4 374.1" stroke="#98df8a"/>
<path d="M88.6 44.9 91.2 45.0 93.8 45.0 96.4 45.1 98.9 45.1 101.5 45.2 103.9 45.2 106.4 45.2 108.8 45.2 111.1 45.2 113.6 45.3 116.0 45.4 118.4 45.5 120.9 45.6 123.1 45.5 125.0 45.8 127.3 45.8 129.7 45.9 131.9 45.9 134.4 46.2 136.7 46.3 139.2 46.6 141.7 46.4 143.9 46.6 146.1 46.6 148.7 46.6 151.2 46.6 153.7 46.5 156.0 46.7 158.5 46.7 160.7 46.9 163.2 47.0 165.6 46.9 167.8 46.7 170.4 46.8 173.0 47.0 175.5 47.1 177.7 47.0 180.1 47.1 182.4 47.1 184.7 47.0 187.1 47.2 189.3 47.2 191.8 47.4 194.1 47.5 196.3 47.5 198.9 47.5 200.9 47.8 203.1 47.9 205.4 48.0 207.9 48.0 210.4 48.0 213.0 48.1 215.2 48.2 217.5 48.1 220.0 48.1 222.5 48.2 225.0 48.4 227.2 48.6 229.6 48.7 231.7 48.9 234.0 48.9 236.2 48.8 238.6 48.9 241.0 49.1 243.3 49.3 245.7 49.5 248.0 49.6 250.2 49.5 252.5 49.7 254.7 49.8 257.0 50.1 258.9 49.7 261.4 49.7 263.8 49.8 266.1 50.1 268.4 50.0 270.6 50.2 272.8 50.0 275.3 50.2 277.6 50.1 279.8 50.0 282.0 50.3 283.9 50.8 285.9 51.0 288.3 51.2 290.7 51.5 292.9 51.4 295.1 51.4 297.2 51.3 299.3 51.6 301.6 51.9 303.8 52.1 305.8 52.4 307.7 52.7 309.9 52.8 312.3 52.9 314.5 53.1 316.8 53.1 319.2 53.2 321.3 53.4 323.4 53.6 325.3 54.0 327.1 53.5 329.3 53.5 331.2 53.9 333.3 54.2 335.1 54.7 337.3 54.5 339.4 54.5 341.7 54.6 343.9 54.8 346.1 55.0 348.2 54.8 350.0 55.4 352.0 55.7 354.1 55.8 356.2 56.4 358.4 56.2 360.5 56.3 362.7 56.7 365.0 56.6 367.1 56.9 369.0 57.3 371.3 57.4 373.2 57.8 375.1 58.4 377.1 58.6 379.1 58.8 381.2 59.2 383.5 59.4 385.6 59.3 387.6 59.6 389.8 59.7 391.9 59.5 393.9 59.9 396.1 60.1 398.0 60.4 400.0 60.7 402.4 60.9 404.5 61.1 406.5 61.5 408.7 61.4 410.8 61.5 412.8 62.1 414.9 62.6 416.8 63.1 418.5 63.6 420.2 63.6 420.2 64.3 421.9 63.8 424.2 63.8 426.0 64.3 428.2 64.1 430.1 64.5 432.1 64.7 434.3 64.7 435.9 64.7 435.9 65.4 438.0 65.9 440.2 65.7 441.5 65.7 441.5 66.5 442.9 66.5 442.9 67.4 444.9 67.0 446.2 67.0 446.2 67.9 448.2 67.5 450.3 67.4 452.1 67.4 452.1 68.1 454.1 67.9 456.0 68.3 457.6 68.3 457.6 69.1 459.5 69.5 461.2 68.9 463.2 69.4 464.9 69.4 464.9 70.1 466.6 70.1 466.6 70.8 468.5 71.2 470.7 71.1 472.2 71.1 472.2 71.8 473.8 71.8 473.8 72.6 476.0 72.5 478.1 72.7 480.0 73.3 482.1 73.4 484.0 73.7 486.2 73.6 488.3 73.9 489.9 73.9 489.9 74.7 491.1 74.7 491.1 75.7 493.3 75.6 494.9 75.6 494.9 76.4 496.5 76.4 496.5 77.0 498.1 77.0 498.1 77.9 500.2 78.1 502.3 78.0 503.6 76.9 505.0 76.9 505.0 77.7 506.8 78.3 507.8 78.3 507.8 79.8 509.7 80.3 511.0 80.3 511.0 81.2 512.8 81.8 514.9 82.1 517.0 82.5 519.0 82.1 520.8 82.7 523.0 82.8 524.5 82.8 524.5 83.6 525.8 83.6 525.8 84.6 527.3 84.6 527.3 85.4 528.5 85.4 528.5 86.7 530.5 86.3 532.4 86.7 534.3 87.1 536.1 87.7 537.9 88.2 540.1 88.3 541.7 88.3 541.7 89.4 542.5 89.4 542.5 90.9 544.5 90.5 546.3 91.0 548.2 91.4 550.3 91.7 552.2 92.2 554.0 92.2 554.0 92.8 555.7 92.8 555.7 93.7 557.1 93.7 557.1 94.6 557.8 94.6 557.8 96.3 559.9 96.2 561.2 96.2 561.2 97.5 563.1 97.9 565.1 97.4 566.6 97.4 566.6 98.2 568.1 98.2 568.1 99.0 569.5 99.0 569.5 100.0 570.8 100.0 570.8 101.1 572.7 101.6 574.4 101.6 574.4 102.6 576.2 102.2 577.7 102.2 577.7 103.0 579.1 103.0 579.1 104.1 580.1 104.1 580.1 105.3 581.9 105.3 581.9 105.9 582.9 105.9 582.9 107.3 583.7 107.3 583.7 108.8 585.5 108.2 587.0 108.2 587.0 109.0 588.5 109.0 588.5 109.7 589.6 109.7 589.6 111.2 590.9 111.2 590.9 112.4 591.8 112.4 591.8 113.8 592.7 113.8 592.7 115.0 594.6 114.7 595.9 114.7 595.9 115.8 597.8 115.8 597.8 116.5 599.1 116.5 599.1 117.5 599.8 117.5 599.8 119.2 600.3 119.2 600.3 121.1 601.8 121.1 601.8 121.8 603.2 121.8 603.2 122.7 604.6 122.7 604.6 123.6 605.1 123.6 605.1 125.4 606.7 125.4 606.7 126.1 607.9 126.1 607.9 127.3 608.8 127.3 608.8 128.8 609.2 128.8 609.2 130.7 611.0 130.7 611.0 131.4 611.9 131.4 611.9 132.9 613.3 132.9 613.3 133.9 615.4 134.2 616.0 134.2 616.0 136.1 618.2 136.4 619.6 136.4 619.6 137.2 618.9 137.2 618.9 139.3 619.1 139.3 619.1 141.4 619.8 141.4 619.8 143.1 621.4 143.1 621.4 143.7 621.7 143.7 621.7 145.9 622.4 145.9 622.4 147.5 623.1 147.5 623.1 149.2 624.2 149.2 624.2 150.4 624.7 150.4 624.7 152.2 625.5 152.2 625.5 153.7 627.2 154.3 627.1 154.3 627.1 156.7 629.0 157.0 629.6 157.0 629.6 158.6 629.1 158.6 629.1 160.6 628.9 160.6 628.9 162.8 629.1 162.8 629.1 164.8 629.1 164.8 629.1 167.2 630.0 167.2 630.0 168.7 630.9 168.7 630.9 170.3 631.7 170.3 631.7 172.0 632.5 172.0 632.5 173.6 633.3 173.6 633.3 175.3 633.7 175.3 633.7 177.2 633.8 177.2 633.8 179.4 635.1 179.4 635.1 182.1 635.3 182.1 635.3 184.7 635.7 184.7 635.7 189.1 634.8 189.1 634.8 192.0 635.2 192.0 635.2 195.2 636.1 202.3 637.3 202.3 636.7 207.7 639.8 207.7 639.0 212.8 641.0 212.8 638.9 219.0 642.2 219.0 639.9 226.6 642.9 226.6 638.1 231.5 640.4 231.5 639.8 236.5 641.9 236.5 640.2 245.2 642.0 245.2 641.9 252.2 644.6 252.2 642.6 258.8 643.7 258.8 641.8 265.3 644.3 265.3 641.1 269.5 643.2 269.5 643.4 278.3 646.6 278.3 645.0 285.2 646.9 285.2 642.0 293.8 643.1 293.8 646.2 300.0 648.8 300.0 643.2 314.3 648.9 314.3 641.2 334.8 646.9 334.8 642.0 355.0 655.4 355.0 655.4 374.1" stroke="#d62728"/>
<path d="M88.4 44.8 91.0 44.8 93.6 44.8 96.1 44.9 98.7 44.9 101.1 44.9 103.7 45.0 106.1 45.0 108.6 45.1 111.0 45.2 113.5 45.2 115.8 45.2 118.1 45.2 120.6 45.3 123.0 45.5 125.3 45.5 127.6 45.6 129.8 45.6 132.2 45.7 134.9 45.7 137.6 45.6 140.1 45.5 142.4 45.7 144.9 45.5 147.3 45.8 149.8 45.7 152.3 45.7 154.5 45.8 157.1 45.8 159.4 45.7 162.0 45.8 164.4 45.8 166.9 45.8 169.3 45.8 171.4 45.9 173.7 45.8 175.7 46.0 178.1 46.0 180.2 46.3 182.6 46.3 185.1 46.5 187.4 46.6 189.8 46.7 192.0 46.7 194.3 46.8 196.5 46.8 199.0 46.6 201.2 46.7 203.7 46.6 206.0 46.7 208.4 46.7 211.0 46.8 213.5 46.8 216.0 46.8 218.1 46.9 220.6 47.0 222.9 46.8 225.1 46.6 227.5 46.7 229.9 46.8 232.2 46.7 234.6 46.7 236.9 46.8 239.0 47.1 241.3 47.2 243.4 47.4 245.7 47.5 248.0 47.6 250.1 47.5 252.6 47.5 255.1 47.4 257.5 47.3 259.9 47.2 262.4 47.2 264.6 47.4 267.0 47.4 269.5 47.5 271.7 47.8 274.1 47.8 276.4 47.9 278.8 47.9 280.9 48.1 283.2 48.1 285.2 48.2 287.3 48.5 289.5 48.3 291.7 48.4 294.0 48.4 296.1 48.4 298.2 48.3 300.4 48.3 302.9 48.3 304.9 48.6 306.9 48.9 309.2 48.8 311.4 49.0 313.6 49.3 316.0 49.3 318.1 49.4 320.5 49.4 322.8 49.5 325.0 49.3 327.2 49.0 329.3 49.3 331.6 49.3 333.7 49.6 335.8 50.0 338.0 50.0 340.1 50.4 342.3 50.3 344.5 50.4 346.7 50.4 348.9 50.6 351.0 50.4 353.4 50.4 355.8 50.5 358.0 50.8 360.3 50.8 362.3 51.2 364.4 51.4 366.4 51.7 368.5 52.0 370.6 52.2 373.0 52.4 375.2 52.4 377.4 52.3 379.5 52.4 381.5 52.6 383.8 52.8 385.9 53.1 388.1 53.0 390.3 53.1 392.5 53.2 394.5 53.4 396.7 53.3 398.9 53.4 400.8 53.7 402.8 54.1 405.0 54.4 407.2 54.5 409.1 54.8 411.5 54.7 413.4 55.1 415.8 55.0 417.8 54.9 419.8 55.3 421.9 55.5 424.2 55.4 426.1 55.8 428.2 56.0 430.3 56.3 432.6 56.4 434.9 56.3 437.0 56.9 438.9 57.3 440.9 57.5 443.0 57.8 445.0 58.0 447.1 57.7 449.3 57.8 451.3 57.5 452.9 57.5 452.9 58.3 455.0 58.7 457.2 58.5 459.0 58.5 459.0 59.2 461.1 59.0 463.1 59.3 464.6 59.3 464.6 60.1 466.7 59.9 468.4 60.4 470.2 60.4 470.2 61.2 472.2 60.9 473.7 60.9 473.7 61.6 475.7 61.9 477.7 62.4 479.9 62.5 482.2 62.7 484.4 62.7 486.1 62.7 486.1 63.5 487.8 64.0 489.8 64.0 489.8 64.6 492.0 64.9 493.7 65.4 495.6 65.4 495.6 66.1 497.3 66.1 497.3 66.9 499.5 66.9 500.9 66.9 500.9 67.8 502.8 67.8 502.8 68.5 504.5 68.5 504.5 69.2 506.2 69.2 506.2 69.9 508.1 70.2 509.8 70.7 512.1 70.5 513.7 70.5 513.7 71.2 515.6 71.2 515.6 71.9 517.0 71.9 517.0 72.7 518.3 72.7 518.3 73.8 520.1 73.8 520.1 74.8 521.7 74.8 521.7 75.4 523.3 75.4 523.3 76.1 524.9 76.1 524.9 77.0 526.2 77.0 526.2 78.0 527.8 78.0 527.8 78.7 529.4 78.7 529.4 79.4 531.6 79.6 533.2 79.6 533.2 80.4 534.4 80.4 534.4 81.5 536.3 81.9 537.6 81.9 537.6 82.9 539.0 82.9 539.0 83.9 540.9 84.4 542.5 85.0 544.4 85.4 545.9 85.4 545.9 86.3 547.9 86.6 549.8 87.0 551.3 87.0 551.3 87.9 552.4 87.9 552.4 89.3 554.3 89.7 555.6 89.7 555.6 90.9 557.1 90.9 557.1 91.9 558.9 92.4 560.5 92.4 560.5 93.0 561.9 93.0 561.9 94.1 564.1 94.4 565.5 94.4 565.5 95.6 567.0 95.6 567.0 96.3 568.5 96.3 568.5 97.3 569.8 97.3 569.8 98.5 571.7 99.0 573.0 99.0 573.0 100.2 574.4 100.2 574.4 101.0 575.8 101.0 575.8 102.2 577.3 102.2 577.3 102.9 578.8 102.9 578.8 103.7 579.8 103.7 579.8 105.0 581.8 105.2 583.2 105.2 583.2 106.3 584.4 106.3 584.4 107.5 585.9 107.5 585.9 108.3 587.3 108.3 587.3 109.4 588.5 109.4 588.5 110.6 590.1 110.6 590.1 111.2 591.3 111.2 591.3 112.4 592.8 112.4 592.8 113.3 594.3 113.3 594.3 114.0 595.7 114.0 595.7 114.9 597.0 114.9 597.0 116.1 598.3 116.1 598.3 117.3 599.5 117.3 599.5 118.5 600.8 118.5 600.8 119.5 602.3 119.5 602.3 120.2 603.1 120.2 603.1 121.7 603.9 121.7 603.9 123.5 605.2 123.5 605.2 124.6 606.5 124.6 606.5 125.6 608.1 125.6 608.1 126.3 609.4 126.3 609.4 127.4 610.6 127.4 610.6 128.4 612.0 128.4 612.0 129.5 613.1 129.5 613.1 130.7 614.4 130.7 614.4 131.7 615.2 131.7 615.2 133.4 616.0 133.4 616.0 135.1 617.0 135.1 617.0 136.6 617.9 136.6 617.9 138.0 619.1 138.0 619.1 139.2 620.1 139.2 620.1 140.5 621.0 140.5 621.0 142.1 621.7 142.1 621.7 143.7 622.7 143.7 622.7 145.0 623.0 145.0 623.0 147.2 623.7 147.2 623.7 148.8 624.5 148.8 624.5 150.3 625.3 150.3 625.3 151.9 626.0 151.9 626.0 153.5 626.8 153.5 626.8 155.0 626.9 155.0 626.9 157.1 628.0 157.1 628.0 158.3 628.7 158.3 628.7 159.9 629.6 159.9 629.6 161.3 630.6 161.3 630.6 162.4 630.9 162.4 630.9 164.4 631.7 164.4 631.7 165.8 631.9 165.8 631.9 168.1 631.7 168.1 631.7 170.1 631.8 170.1 631.8 172.4 631.9 172.4 631.9 174.6 632.3 174.6 632.3 176.7 632.7 176.7 632.7 178.6 634.2 178.6 634.2 182.2 635.1 182.2 635.1 186.3 635.2 186.3 635.2 189.4 635.5 189.4 635.5 192.7 635.5 192.7 635.5 196.0 636.9 202.1 638.0 202.1 637.3 208.9 639.1 208.9 637.3 217.8 639.8 217.8 640.7 224.1 641.9 224.1 640.3 228.4 643.1 228.4 639.5 235.0 642.2 235.0 641.2 240.6 642.4 240.6 639.4 247.1 642.0 247.1 640.4 252.1 641.5 252.1 639.9 258.4 642.2 258.4 640.5 265.7 643.5 265.7 640.9 274.2 642.5 274.2 640.6 282.5 642.2 282.5 641.7 288.8 642.8 288.8 641.2 292.9 643.3 292.9 642.4 297.7 644.5 297.7 642.6 300.0 643.7 300.0 638.9 314.5 643.1 314.5 637.1 328.9 640.6 328.9 633.5 347.7 638.5 347.7 630.0 366.0 655.4 366.0 655.4 374.1" stroke="#ff9896"/>
<path d="M88.8 45.0 91.4 45.1 94.0 45.2 96.6 45.3 99.2 45.3 101.7 45.4 104.3 45.5 106.8 45.6 109.3 45.7 111.8 45.8 114.3 45.9 116.8 46.0 119.2 46.1 121.5 46.1 123.8 46.1 126.2 46.2 128.4 46.2 130.7 46.3 132.9 46.3 135.7 46.3 137.9 46.4 140.1 46.4 142.3 46.5 144.6 46.7 146.9 46.9 149.6 47.0 152.3 47.1 154.5 47.2 156.8 47.1 159.0 47.2 161.6 47.3 164.2 47.4 166.6 47.4 168.7 47.5 170.9 47.8 173.3 47.8 175.4 47.5 177.8 47.6 180.3 47.7 182.6 47.7 184.9 47.8 187.1 47.7 189.5 47.8 191.9 48.0 194.3 48.2 196.5 48.2 198.8 48.3 201.1 48.5 203.4 48.6 205.6 48.7 208.1 48.7 210.3 48.8 212.7 48.7 214.9 48.9 217.4 48.9 219.8 48.9 222.4 49.1 224.5 49.3 226.9 49.3 229.4 49.5 231.9 49.6 234.1 50.0 236.4 50.0 238.5 49.8 241.0 50.0 243.3 50.1 245.5 50.1 247.5 50.4 250.1 50.4 252.6 50.4 254.9 50.5 256.8 50.8 259.1 51.0 261.3 51.2 263.7 51.0 265.8 51.1 268.0 51.3 270.1 51.4 272.3 51.7 274.4 51.9 276.8 52.0 279.2 52.0 281.4 52.0 283.7 52.0 286.0 52.1 288.2 52.5 290.4 52.5 292.4 52.7 294.5 52.5 296.7 52.6 299.0 52.8 301.5 52.8 304.0 52.9 306.2 53.2 308.2 53.5 310.6 53.6 312.8 53.9 315.0 54.1 317.2 54.5 319.4 54.8 321.5 54.9 323.8 55.0 326.1 54.9 328.2 54.7 330.3 55.0 332.5 55.0 334.6 55.3 336.9 55.5 339.2 55.7 341.2 56.1 343.4 56.3 345.3 56.9 347.3 57.2 349.7 57.2 351.8 57.3 353.8 57.6 356.1 57.6 358.2 57.8 360.4 58.1 362.5 58.4 364.7 58.6 367.0 58.8 369.1 59.1 371.2 59.4 373.4 59.5 375.3 59.9 377.0 59.9 377.0 60.6 379.2 60.6 381.4 60.6 383.4 60.9 385.4 61.2 387.2 61.6 389.6 61.7 391.8 62.0 393.8 62.4 396.2 62.5 398.1 62.8 400.1 63.2 402.0 63.5 404.1 63.8 406.1 64.1 408.0 64.5 409.7 64.5 409.7 65.2 412.0 65.3 414.1 65.6 416.2 66.0 418.2 66.1 420.1 66.1 420.1 66.8 422.0 66.8 422.0 67.4 424.2 67.6 426.1 68.0 428.2 67.8 430.3 68.1 432.3 68.4 434.3 68.7 436.1 68.7 436.1 69.4 437.7 69.4 437.7 70.2 439.7 70.5 441.8 70.6 443.4 70.6 443.4 71.3 445.1 71.7 447.3 72.1 449.3 72.6 451.2 72.3 452.9 72.3 452.9 72.9 455.2 72.8 457.0 72.8 457.0 73.5 458.9 73.8 460.6 73.8 460.6 74.5 462.5 75.0 464.6 74.9 466.3 74.9 466.3 75.5 467.7 75.5 467.7 76.6 469.6 76.6 469.6 77.3 471.7 77.5 473.6 77.8 475.2 77.8 475.2 78.5 477.3 78.3 479.2 77.8 481.3 78.1 483.4 78.3 484.8 78.3 484.8 79.3 486.8 79.5 488.7 79.9 490.0 79.9 490.0 81.1 491.6 81.1 491.6 82.0 493.6 82.3 495.7 82.5 497.8 82.7 499.8 83.1 501.8 82.7 504.0 83.0 505.8 83.6 507.1 83.6 507.1 84.9 509.1 85.2 510.9 85.2 510.9 85.8 513.2 86.0 514.4 86.0 514.4 87.3 516.0 86.7 517.2 86.7 517.2 87.8 518.7 87.8 518.7 88.7 520.8 88.8 523.1 88.9 525.2 89.2 526.6 89.2 526.6 90.2 528.8 90.2 531.2 90.1 533.0 90.7 534.7 90.7 534.7 91.3 536.2 91.3 536.2 92.1 538.0 92.1 538.0 92.8 539.8 93.1 541.6 93.6 543.1 93.6 543.1 94.5 545.1 94.8 546.6 94.8 546.6 95.6 548.0 95.6 548.0 96.6 549.1 96.6 549.1 97.8 551.2 98.1 553.3 97.9 554.3 97.9 554.3 99.4 555.2 99.4 555.2 100.9 556.9 100.9 556.9 101.6 558.9 101.2 561.0 101.4 563.2 101.7 565.0 102.1 566.5 102.1 566.5 103.0 567.9 103.0 567.9 103.9 569.1 103.9 569.1 105.1 570.8 105.1 570.8 106.0 572.5 106.0 572.5 106.7 573.4 106.7 573.4 108.2 574.3 108.2 574.3 109.5 576.4 109.9 577.4 109.9 577.4 111.3 579.3 111.7 581.5 111.8 583.4 112.4 584.5 112.4 584.5 113.8 585.7 113.8 585.7 114.9 587.1 114.9 587.1 115.9 587.9 115.9 587.9 117.4 588.8 117.4 588.8 118.7 589.8 118.7 589.8 120.1 591.5 120.1 591.5 120.9 592.9 120.9 592.9 121.7 593.5 121.7 593.5 123.5 595.2 123.5 595.2 124.2 597.2 124.6 597.9 124.6 597.9 126.1 599.1 126.1 599.1 127.2 600.1 127.2 600.1 128.7 601.1 128.7 601.1 130.1 602.4 130.1 602.4 131.0 603.9 131.0 603.9 131.7 605.3 131.7 605.3 132.5 606.4 132.5 606.4 133.7 607.5 133.7 607.5 135.0 608.6 135.0 608.6 136.3 609.5 136.3 609.5 137.8 610.2 137.8 610.2 139.4 611.1 139.4 611.1 140.9 612.6 140.9 612.6 141.6 614.4 141.6 614.4 142.3 615.5 142.3 615.5 143.5 616.4 143.5 616.4 144.9 617.3 144.9 617.3 146.3 618.2 146.3 618.2 147.7 619.1 147.7 619.1 149.2 619.9 149.2 619.9 150.7 619.6 150.7 619.6 152.7 621.4 152.7 621.4 153.4 621.8 153.4 621.8 155.4 623.1 155.4 623.1 156.3 623.2 156.3 623.2 158.4 623.5 158.4 623.5 160.4 623.7 160.4 623.7 162.5 625.4 162.5 625.4 163.3 626.1 163.3 626.1 164.7 625.8 164.7 625.8 166.9 626.0 166.9 626.0 169.2 626.8 169.2 626.8 170.7 627.8 170.7 627.8 172.2 628.9 172.2 628.9 173.5 629.0 173.5 629.0 175.7 630.2 175.7 630.2 177.0 629.6 177.0 629.6 178.8 630.5 178.8 630.5 182.1 631.4 182.1 631.4 184.7 633.3 184.7 633.3 187.8 633.0 187.8 633.0 190.6 633.6 190.6 633.6 193.5 633.5 193.5 633.5 198.3 635.0 206.7 636.8 206.7 633.8 211.0 636.0 211.0 636.5 219.7 639.1 219.7 635.1 227.1 638.0 227.1 636.3 231.4 638.0 231.4 639.3 236.4 640.3 236.4 637.4 243.0 640.0 243.0 640.4 247.8 641.8 247.8 640.1 253.5 642.6 253.5 639.6 259.8 642.0 259.8 642.3 266.1 644.2 266.1 642.4 272.6 645.4 272.6 644.1 280.9 645.3 280.9 643.5 285.9 646.3 285.9 644.1 294.6 647.3 294.6 644.6 298.8 646.2 298.8 646.2 305.6 647.6 305.6 644.0 310.0 647.1 310.0 641.7 329.3 645.6 329.3 639.0 350.0 655.4 350.0 655.4 374.1" stroke="#9467bd"/>
<path d="M88.7 45.0 91.3 45.0 93.9 45.1 96.5 45.2 99.1 45.2 101.6 45.3 104.2 45.4 106.7 45.5 109.1 45.5 111.5 45.5 113.8 45.5 116.3 45.6 118.8 45.8 120.9 45.6 123.1 45.6 125.5 45.6 127.6 45.6 130.0 45.7 132.3 45.8 134.6 45.9 137.0 46.1 139.8 46.2 142.5 46.2 144.8 46.4 146.9 46.4 149.1 46.5 151.6 46.4 154.2 46.5 156.6 46.8 159.2 46.9 161.7 46.9 163.9 47.1 166.2 47.0 168.5 47.3 170.9 47.4 173.3 47.4 175.7 47.4 178.4 47.7 180.5 47.5 182.7 47.4 185.0 47.4 187.4 47.5 189.7 47.5 192.0 47.6 194.4 47.8 196.7 47.9 199.4 48.0 201.9 47.9 203.9 48.2 206.5 48.3 209.0 48.3 211.2 48.4 213.7 48.4 216.3 48.5 218.6 48.4 220.9 48.7 223.4 48.9 225.6 49.1 227.9 49.0 230.1 48.9 232.2 49.1 234.3 49.3 236.5 49.2 238.7 49.1 240.6 49.5 242.9 49.6 245.1 49.7 247.3 49.6 249.5 49.6 252.0 49.6 254.3 49.7 256.8 49.8 259.1 50.0 261.3 50.1 263.5 50.4 265.7 50.6 268.0 50.8 270.1 51.0 272.4 50.9 274.7 50.9 277.1 50.8 279.5 51.0 281.9 51.2 283.7 51.6 285.9 51.8 288.0 51.7 290.3 51.8 292.1 52.2 294.7 52.3 296.9 52.4 298.9 52.0 300.8 52.3 302.9 52.1 305.1 52.2 307.4 52.1 309.8 52.1 312.2 52.2 314.2 52.5 316.1 52.9 318.3 53.1 320.5 53.0 322.9 53.2 325.2 53.3 327.5 53.2 329.6 52.9 331.4 53.3 333.6 53.1 335.7 53.4 337.9 53.4 339.7 54.0 342.0 54.2 344.0 54.5 345.8 55.0 348.3 55.1 350.5 55.2 352.6 55.3 355.0 55.3 356.9 55.0 359.1 55.1 361.2 55.3 363.5 55.2 365.6 55.5 367.7 55.8 370.0 55.9 372.1 56.0 374.0 56.5 376.3 56.8 378.4 57.2 380.7 57.3 382.8 57.1 385.0 57.2 387.3 57.4 389.3 57.8 391.5 57.8 393.5 58.3 395.7 58.4 397.9 58.6 399.6 59.2 401.8 59.3 403.8 59.9 406.1 59.8 408.0 60.1 410.4 60.2 412.1 59.7 414.2 59.8 415.9 59.8 415.9 60.5 417.8 60.9 419.8 61.4 421.7 60.9 423.2 60.9 423.2 61.6 425.3 61.9 427.3 62.3 429.4 62.6 431.1 62.6 431.1 63.2 432.9 63.6 434.6 63.1 436.2 63.1 436.2 63.7 438.3 64.2 440.1 64.6 442.1 65.0 444.1 64.7 446.1 65.1 448.3 65.1 450.3 65.3 451.6 65.3 451.6 66.5 453.6 66.2 455.8 66.4 457.8 66.8 459.9 66.8 461.5 66.8 461.5 67.7 463.0 67.7 463.0 68.5 464.5 68.5 464.5 69.2 466.6 69.1 468.4 69.1 468.4 69.7 470.1 69.7 470.1 70.4 472.2 69.8 474.0 70.4 475.6 71.0 477.6 71.3 479.9 71.6 482.1 71.3 484.5 71.5 485.6 70.4 487.1 70.4 487.1 71.2 488.5 71.2 488.5 72.1 489.9 72.1 489.9 73.4 491.3 73.4 491.3 74.2 493.2 74.6 495.0 75.1 496.7 75.7 498.2 75.7 498.2 76.9 500.3 77.2 502.5 77.4 504.1 77.4 504.1 78.1 505.9 78.4 508.1 78.2 510.2 78.6 511.9 78.1 513.2 78.1 513.2 79.1 515.0 78.7 516.9 79.1 518.5 79.1 518.5 79.8 519.2 79.8 519.2 81.2 520.1 81.2 520.1 82.8 521.7 82.8 521.7 83.7 523.7 83.4 525.6 83.7 527.6 83.5 528.8 83.5 528.8 84.7 529.7 84.7 529.7 86.2 531.3 86.2 531.3 86.9 533.0 86.2 534.2 86.2 534.2 87.3 535.7 87.3 535.7 88.2 537.2 88.2 537.2 89.1 539.0 88.3 540.1 88.3 540.1 89.5 541.9 88.9 542.8 88.9 542.8 90.2 544.6 90.2 544.6 90.8 545.6 90.8 545.6 92.2 547.4 92.2 547.4 92.9 549.3 92.5 550.8 92.5 550.8 93.3 551.9 93.3 551.9 94.7 554.1 94.7 555.3 94.7 555.3 95.8 556.4 95.8 556.4 96.9 558.3 97.3 560.0 97.3 560.0 98.0 561.8 98.0 561.8 98.6 563.5 98.6 563.5 99.6 564.8 99.6 564.8 100.6 566.3 100.6 566.3 101.4 567.7 101.4 567.7 102.3 569.7 102.6 570.3 102.6 570.3 104.2 571.8 104.2 571.8 104.9 572.8 104.9 572.8 106.2 573.2 106.2 573.2 108.1 575.3 108.6 577.1 109.2 578.8 109.2 578.8 110.0 580.6 110.5 582.6 110.9 584.5 111.3 585.8 111.3 585.8 112.3 586.7 112.3 586.7 113.6 587.4 113.6 587.4 115.3 588.3 115.3 588.3 117.0 589.5 117.0 589.5 118.3 590.6 118.3 590.6 119.6 591.4 119.6 591.4 121.0 593.6 120.7 595.1 120.7 595.1 121.8 596.4 121.8 596.4 122.8 598.0 122.8 598.0 123.7 598.5 123.7 598.5 125.5 599.6 125.5 599.6 126.8 600.4 126.8 600.4 128.5 602.5 128.7 603.5 128.7 603.5 130.1 604.9 130.1 604.9 131.0 605.7 131.0 605.7 132.7 606.6 132.7 606.6 134.2 608.0 134.2 608.0 135.0 609.0 135.0 609.0 136.4 611.0 136.8 612.1 136.8 612.1 138.0 613.1 138.0 613.1 139.4 614.0 139.4 614.0 140.9 615.1 140.9 615.1 142.1 616.4 142.1 616.4 143.0 617.2 143.0 617.2 144.6 617.5 144.6 617.5 146.8 618.1 146.8 618.1 148.4 618.5 148.4 618.5 150.4 619.5 150.4 619.5 151.7 620.6 151.7 620.6 152.9 621.2 152.9 621.2 154.5 622.1 154.5 622.1 155.9 622.6 155.9 622.6 157.7 623.2 157.7 623.2 159.4 624.6 159.4 624.6 160.1 625.5 160.1 625.5 161.4 625.8 161.4 625.8 163.4 626.8 163.4 626.8 164.6 627.1 164.6 627.1 166.7 628.1 166.7 628.1 168.2 628.7 168.2 628.7 170.0 628.7 170.0 628.7 172.4 628.2 172.4 628.2 174.7 629.2 174.7 629.2 176.1 629.6 176.1 629.6 178.0 630.3 178.0 630.3 182.0 631.7 182.0 631.7 186.6 631.9 186.6 631.9 191.3 632.9 191.3 632.9 193.9 633.8 193.9 633.8 198.4 633.5 206.2 636.6 206.2 635.4 211.4 637.4 211.4 635.0 218.4 637.0 218.4 635.8 222.5 638.9 222.5 632.0 237.0 638.0 237.0 638.6 242.2 640.7 242.2 638.2 249.0 640.3 249.0 642.8 257.5 645.7 257.5 641.6 264.2 643.2 264.2 643.0 268.7 646.3 268.7 644.1 272.8 647.0 272.8 644.0 279.8 646.9 279.8 644.2 286.8 645.8 286.8 645.2 290.8 647.7 290.8 646.2 297.0 648.5 297.0 644.9 305.0 646.5 305.0 643.0 316.7 646.5 316.7 641.3 337.9 644.8 337.9 643.0 343.0 655.4 343.0 655.4 374.1" stroke="#c5b0d5"/>
<path d="M88.9 45.1 91.6 45.2 94.2 45.3 96.8 45.4 99.4 45.5 101.9 45.6 104.5 45.7 107.0 45.8 109.5 45.9 112.0 46.0 114.5 46.1 116.9 46.2 119.4 46.3 121.8 46.3 124.2 46.5 126.5 46.5 128.7 46.5 131.1 46.6 133.3 46.7 135.9 46.6 138.1 46.6 140.4 46.7 142.7 46.9 144.9 47.0 147.5 46.9 149.7 47.0 151.9 47.2 154.0 47.3 156.7 47.4 158.9 47.5 161.4 47.6 163.5 47.7 165.6 47.9 168.1 47.9 170.5 47.9 172.6 48.0 175.1 48.2 177.5 48.3 180.0 48.4 182.3 48.4 184.5 48.3 186.8 48.3 189.1 48.4 191.4 48.4 193.4 48.7 195.7 48.8 198.0 48.8 200.2 48.9 202.4 48.9 204.6 49.0 206.8 49.2 209.4 49.2 211.6 49.3 213.8 49.4 216.0 49.7 218.4 49.6 220.5 49.7 222.6 49.9 225.0 49.9 227.3 50.2 229.8 50.4 232.2 50.5 234.3 50.7 236.7 50.8 238.9 50.8 241.3 51.0 243.3 51.2 245.5 51.1 247.8 51.2 250.0 51.2 252.3 51.4 254.5 51.5 256.5 51.8 258.8 52.0 261.0 52.2 263.2 52.3 265.3 52.4 267.5 52.6 269.7 52.8 271.9 53.0 274.1 53.4 276.2 53.6 278.6 53.7 280.7 53.9 283.0 53.9 285.1 54.2 287.4 54.3 289.7 54.5 292.0 54.5 294.3 54.7 296.3 55.0 298.3 55.3 300.5 55.5 302.5 55.7 304.8 56.0 306.9 56.1 308.9 56.5 310.9 56.8 313.1 57.1 315.2 57.3 317.3 57.4 319.2 57.8 321.4 58.1 323.7 58.3 325.6 58.6 327.9 58.8 330.0 59.1 332.1 59.4 334.1 59.6 335.9 60.0 338.2 60.2 340.2 60.5 342.4 60.7 344.6 60.8 346.8 61.1 349.0 61.3 351.1 61.5 353.3 61.7 355.2 62.0 356.9 62.5 359.1 62.9 361.1 63.3 363.2 63.6 365.3 63.9 367.1 64.3 369.4 64.4 371.4 64.6 373.5 65.0 375.8 65.2 377.8 65.5 379.6 65.9 381.4 66.4 383.4 66.8 385.5 67.3 387.5 67.8 389.5 68.2 391.4 68.5 393.3 68.8 395.5 69.2 397.2 69.7 399.1 70.0 401.4 70.1 403.1 70.7 405.2 71.0 407.3 71.4 409.2 71.9 411.4 71.8 413.2 72.2 415.3 72.5 417.1 73.0 419.0 73.0 419.0 73.6 420.8 73.6 420.8 74.2 422.6 74.7 424.4 75.3 426.6 75.5 428.6 76.0 430.4 76.4 432.7 76.5 434.4 76.9 436.4 77.2 438.1 77.2 438.1 77.8 439.9 77.8 439.9 78.6 441.8 79.0 443.5 79.6 445.6 79.9 447.1 79.9 447.1 80.6 449.0 81.1 450.9 81.1 450.9 81.8 452.7 82.3 454.8 82.7 456.9 82.9 459.1 83.0 461.2 83.3 463.0 83.7 464.4 83.7 464.4 84.7 466.0 84.7 466.0 85.5 467.6 85.5 467.6 86.1 469.4 86.1 469.4 86.8 471.4 87.2 473.7 87.1 475.7 87.5 477.2 87.5 477.2 88.2 479.0 88.6 481.0 89.2 482.5 89.2 482.5 89.8 484.5 90.1 486.5 90.4 488.4 90.8 490.4 91.1 492.4 91.3 494.6 91.5 496.6 92.0 498.8 92.0 500.2 92.0 500.2 93.0 502.0 93.5 503.2 93.5 503.2 94.5 505.2 94.8 507.4 94.7 509.7 94.3 511.9 94.6 513.9 95.0 515.9 95.4 518.1 95.6 519.7 95.6 519.7 96.4 521.7 96.8 523.4 97.3 525.4 97.7 527.6 97.9 529.9 98.0 532.1 98.2 534.5 98.2 536.8 98.1 538.5 98.1 538.5 98.8 540.6 99.1 542.6 99.5 544.4 100.0 546.4 100.4 548.2 100.9 550.1 100.9 550.1 101.5 552.2 101.8 554.2 102.3 555.6 102.3 555.6 103.0 557.4 103.6 559.2 104.0 561.4 104.2 562.8 104.2 562.8 105.0 564.7 105.4 566.5 105.8 568.0 105.8 568.0 106.6 569.6 106.6 569.6 107.5 570.8 107.5 570.8 108.8 572.0 108.8 572.0 110.0 573.7 110.0 573.7 110.8 575.4 110.8 575.4 111.4 576.8 111.4 576.8 112.4 578.5 112.4 578.5 113.1 579.9 113.1 579.9 113.9 581.6 113.9 581.6 114.7 582.8 114.7 582.8 115.8 584.2 115.8 584.2 116.7 585.8 116.7 585.8 117.6 586.9 117.6 586.9 119.0 588.1 119.0 588.1 120.2 589.9 120.7 590.7 120.7 590.7 122.2 592.3 122.2 592.3 123.0 593.6 123.0 593.6 124.1 594.1 124.1 594.1 125.8 595.4 125.8 595.4 126.8 596.9 126.8 596.9 127.6 598.1 127.6 598.1 128.6 599.1 128.6 599.1 130.1 600.4 130.1 600.4 131.0 601.3 131.0 601.3 132.5 602.7 132.5 602.7 133.4 603.9 133.4 603.9 134.4 605.1 134.4 605.1 135.5 606.2 135.5 606.2 136.8 607.6 136.8 607.6 137.6 608.4 137.6 608.4 139.2 609.5 139.2 609.5 140.3 610.4 140.3 610.4 141.8 611.3 141.8 611.3 143.2 612.5 143.2 612.5 144.3 613.7 144.3 613.7 145.3 614.4 145.3 614.4 147.0 614.9 147.0 614.9 148.9 615.4 148.9 615.4 150.6 616.7 150.6 616.7 151.9 617.6 151.9 617.6 153.3 618.3 153.3 618.3 154.9 619.1 154.9 619.1 156.3 619.8 156.3 619.8 157.8 620.5 157.8 620.5 159.3 621.7 159.3 621.7 160.6 622.6 160.6 622.6 161.9 623.1 161.9 623.1 163.6 624.3 163.6 624.3 164.8 624.9 164.8 624.9 166.7 625.2 166.7 625.2 168.8 625.8 168.8 625.8 170.6 626.0 170.6 626.0 172.8 627.1 172.8 627.1 174.2 627.4 174.2 627.4 176.2 627.5 176.2 627.5 178.3 628.2 178.3 628.2 182.7 628.9 182.7 628.9 187.3 630.9 187.3 630.9 191.3 630.6 191.3 630.6 194.5 632.8 194.5 632.8 197.8 633.1 206.4 634.6 206.4 633.4 212.0 636.5 212.0 634.1 221.0 637.2 221.0 635.3 226.2 637.6 226.2 635.7 231.4 638.3 231.4 635.8 235.5 639.1 235.5 636.6 240.1 639.9 240.1 637.2 244.5 638.8 244.5 634.0 278.0 639.0 278.0 639.4 282.0 642.0 282.0 640.7 287.1 642.1 287.1 639.4 292.3 642.8 292.3 640.3 296.0 642.2 296.0 638.7 308.6 641.2 308.6 635.8 324.3 641.0 324.3 634.7 342.9 638.3 342.9 633.0 354.0 655.4 354.0 655.4 374.1" stroke="#8c564b"/>
<path d="M88.7 45.0 91.3 45.0 93.9 45.1 96.5 45.2 99.1 45.3 101.6 45.3 104.1 45.3 106.5 45.3 109.0 45.4 111.4 45.4 113.7 45.4 116.2 45.5 118.8 45.8 121.0 45.7 123.3 45.7 125.3 46.0 127.5 45.9 129.9 46.1 132.1 46.1 134.7 45.9 137.1 46.2 139.5 46.0 142.2 45.9 144.4 46.1 146.7 46.2 149.1 46.5 151.6 46.5 154.0 46.8 156.3 47.0 158.7 46.9 161.2 47.0 163.3 47.1 165.8 47.1 168.1 47.0 170.5 46.9 172.9 47.0 175.5 47.2 178.0 47.3 180.2 47.2 182.7 47.4 185.0 47.4 187.3 47.4 189.5 47.4 191.8 47.4 193.8 47.2 196.2 47.4 198.8 47.4 201.3 47.3 203.7 47.5 205.6 47.8 207.8 47.9 210.4 48.0 212.8 48.3 215.1 48.6 217.3 48.8 219.6 48.6 221.9 48.5 224.2 48.3 226.2 48.0 228.7 48.1 230.9 48.4 233.2 48.4 235.5 48.9 237.6 49.1 240.0 49.3 242.2 49.2 244.4 49.1 246.5 49.0 248.5 48.8 250.3 49.3 252.9 49.3 255.3 49.2 257.8 49.2 260.0 49.3 262.4 49.3 264.4 49.6 266.5 49.7 268.8 50.0 270.7 50.4 273.1 50.4 275.4 50.3 277.6 50.2 279.7 50.4 281.6 50.7 283.8 50.7 286.2 50.8 288.4 50.9 290.5 51.1 292.6 51.4 294.7 51.3 297.1 51.2 299.1 50.8 301.3 50.9 303.8 51.0 306.1 50.7 308.1 51.2 310.5 51.2 312.5 51.7 314.7 51.9 316.5 52.4 318.7 52.3 320.6 52.6 323.0 52.7 325.3 52.8 327.6 52.9 329.9 53.0 332.2 53.1 334.5 53.2 336.5 53.5 338.7 53.5 340.9 53.6 343.1 53.6 345.4 53.9 347.6 54.0 349.5 54.2 351.5 54.6 353.7 54.9 355.5 55.5 357.7 55.7 359.8 55.9 361.9 56.0 364.2 55.9 366.5 55.8 368.6 56.0 370.5 56.5 372.4 57.0 374.5 57.3 376.5 57.5 378.7 57.4 380.8 57.7 382.8 57.9 384.4 57.9 384.4 58.5 386.6 58.4 388.8 58.6 390.4 58.6 390.4 59.3 392.6 59.5 394.6 59.8 396.4 60.3 398.5 60.4 400.5 60.9 402.7 61.1 404.4 61.6 406.2 61.2 408.3 61.7 410.1 61.7 410.1 62.5 412.0 63.0 413.7 63.6 415.6 64.0 417.9 64.1 420.0 64.5 422.2 64.4 424.2 64.2 426.1 64.6 428.3 64.8 430.4 65.2 432.4 65.6 434.0 65.6 434.0 66.3 435.9 66.9 437.5 66.9 437.5 67.8 439.3 67.8 439.3 68.5 440.9 68.5 440.9 69.2 442.8 69.5 444.5 69.0 446.5 69.3 448.5 69.7 450.2 69.2 452.2 69.2 452.2 69.9 453.9 70.3 455.6 70.9 457.6 71.2 459.5 71.7 461.2 71.7 461.2 72.4 463.6 72.2 465.5 72.2 465.5 72.8 467.6 72.7 469.5 72.7 469.5 73.5 471.4 74.0 473.1 74.0 473.1 74.9 474.7 74.9 474.7 75.8 476.8 75.7 478.5 76.2 480.4 76.0 482.4 75.5 484.1 74.9 485.5 74.9 485.5 75.8 486.7 75.8 486.7 76.9 488.9 76.6 490.4 76.6 490.4 77.7 492.5 77.9 494.4 78.3 496.2 78.9 498.1 79.4 499.4 79.4 499.4 80.3 501.5 80.6 503.0 80.6 503.0 81.7 505.2 81.3 507.0 81.3 507.0 82.1 508.6 82.1 508.6 82.7 510.7 82.8 512.2 82.8 512.2 83.6 514.3 84.0 516.1 84.6 517.3 84.6 517.3 85.6 519.4 85.2 521.1 85.2 521.1 85.8 523.3 85.7 524.8 85.7 524.8 86.5 527.0 86.6 528.8 87.2 530.8 87.5 533.1 87.3 535.0 86.9 536.2 86.9 536.2 88.0 537.7 88.0 537.7 88.7 539.0 88.7 539.0 90.1 540.8 89.5 542.2 89.5 542.2 90.5 543.6 90.5 543.6 91.6 545.1 91.6 545.1 92.4 547.3 92.7 548.4 92.7 548.4 93.7 550.6 93.9 552.8 94.0 554.0 94.0 554.0 95.1 555.8 95.6 557.3 95.6 557.3 96.5 559.3 95.9 560.9 95.9 560.9 96.6 562.6 96.6 562.6 97.4 564.5 97.8 565.0 97.8 565.0 99.8 566.5 99.8 566.5 100.5 567.8 100.5 567.8 101.6 569.4 101.6 569.4 102.3 570.6 102.3 570.6 103.6 572.1 103.6 572.1 104.3 573.8 103.7 575.3 103.7 575.3 104.4 577.2 104.9 579.0 104.9 579.0 105.6 579.5 105.6 579.5 107.3 580.9 107.3 580.9 108.3 582.6 108.3 582.6 109.0 583.6 109.0 583.6 110.3 583.8 110.3 583.8 112.4 586.3 112.3 587.8 112.3 587.8 113.1 589.8 112.9 590.3 112.9 590.3 115.0 592.3 115.3 593.8 115.3 593.8 116.0 594.7 116.0 594.7 117.3 596.2 117.3 596.2 118.1 597.0 118.1 597.0 119.6 598.0 119.6 598.0 121.1 599.8 120.3 601.4 120.9 602.3 120.9 602.3 122.5 603.2 122.5 603.2 124.1 603.8 124.1 603.8 125.8 604.8 125.8 604.8 127.3 605.9 127.3 605.9 128.6 607.1 128.6 607.1 129.7 608.9 129.7 608.9 130.5 610.4 130.5 610.4 131.2 612.0 131.2 612.0 131.8 613.5 131.8 613.5 132.6 614.6 132.6 614.6 133.9 614.8 133.9 614.8 135.9 615.6 135.9 615.6 137.6 616.1 137.6 616.1 139.6 616.5 139.6 616.5 141.6 617.1 141.6 617.1 143.5 618.2 143.5 618.2 144.7 619.7 144.7 619.7 145.4 621.3 145.4 621.3 146.0 621.8 146.0 621.8 147.9 623.5 148.4 623.9 148.4 623.9 150.4 624.6 150.4 624.6 152.1 625.4 152.1 625.4 153.5 627.1 154.1 626.7 154.1 626.7 156.2 626.8 156.2 626.8 158.4 626.8 158.4 626.8 160.7 627.0 160.7 627.0 162.8 628.1 162.8 628.1 163.9 629.8 164.4 630.2 164.4 630.2 166.2 630.9 166.2 630.9 167.9 630.9 167.9 630.9 170.4 631.7 170.4 631.7 172.0 631.6 172.0 631.6 174.2 631.9 174.2 631.9 176.2 632.0 176.2 632.0 178.4 632.9 178.4 632.9 181.7 632.9 181.7 632.9 185.0 633.0 185.0 633.0 189.6 633.8 189.6 633.8 192.6 635.5 192.6 635.5 196.2 636.1 204.9 638.0 204.9 637.0 210.0 638.3 210.0 636.5 217.7 639.4 217.7 639.7 225.5 642.4 225.5 638.7 232.0 641.9 232.0 638.5 238.0 641.8 238.0 642.3 246.1 644.3 246.1 641.8 254.3 644.4 254.3 642.3 261.3 644.1 261.3 645.1 266.7 646.4 266.7 644.8 272.0 647.2 272.0 644.9 280.9 646.6 280.9 644.5 288.9 647.2 288.9 645.6 296.7 648.4 296.7 647.1 301.7 648.8 301.7 646.4 309.6 649.2 309.6 647.2 312.0 648.8 312.0 644.6 327.5 648.3 327.5 642.0 349.0 655.4 349.0 655.4 374.1" stroke="#c49c94"/>
<path d="M88.7 44.9 91.3 45.0 93.9 45.1 96.5 45.1 99.0 45.2 101.5 45.3 104.0 45.3 106.5 45.3 108.9 45.3 111.3 45.4 113.8 45.5 116.4 45.7 118.9 45.8 121.0 45.7 123.0 45.9 125.3 46.0 127.5 46.0 129.8 46.0 132.2 46.2 134.8 46.1 137.0 46.1 139.3 46.2 141.9 46.2 144.2 46.3 146.8 46.3 149.0 46.4 151.2 46.6 153.5 46.8 156.0 46.7 158.3 47.0 160.8 47.0 163.5 47.2 165.9 47.1 168.2 47.1 170.5 46.9 172.8 46.9 175.2 46.8 177.6 46.9 180.0 47.0 182.1 47.2 184.2 47.0 186.3 47.3 188.6 47.4 191.0 47.5 193.2 47.5 195.5 47.6 198.2 47.6 200.8 47.6 203.1 47.8 205.6 47.7 207.8 47.8 209.9 47.9 212.2 48.1 214.6 48.1 216.8 48.2 218.9 48.3 221.1 48.5 223.3 48.8 225.8 48.8 228.1 48.8 230.3 48.7 232.6 48.6 234.8 48.9 237.1 48.9 239.2 48.8 241.3 48.5 243.1 49.0 245.2 49.2 247.5 49.4 249.7 49.4 251.8 49.8 254.2 49.6 256.5 49.9 259.0 49.9 261.4 49.7 263.7 49.6 265.8 49.7 268.3 49.8 270.8 49.9 272.9 50.1 275.1 50.4 277.1 50.9 279.3 50.7 281.4 50.9 283.7 51.0 285.8 51.2 288.0 51.1 290.2 51.1 292.3 50.9 294.5 51.0 296.6 51.3 299.1 51.4 301.3 51.5 303.4 52.0 305.6 52.1 308.0 52.0 310.3 51.9 312.7 52.0 314.9 52.2 316.9 52.6 318.8 52.9 320.9 53.1 322.9 53.3 325.0 53.4 327.3 53.4 329.5 53.3 331.7 53.3 334.0 53.4 335.8 53.8 338.0 53.8 340.1 54.2 341.9 54.6 344.0 55.0 346.1 54.9 348.4 54.7 350.4 55.2 352.4 54.9 354.6 55.1 356.7 55.2 358.7 55.6 360.6 55.9 362.8 56.2 364.5 56.7 366.4 56.3 368.3 56.6 370.4 57.0 372.7 57.0 374.7 57.3 376.8 57.7 379.1 57.8 381.1 58.1 383.2 57.8 385.3 58.0 387.1 58.5 389.5 58.4 391.5 58.8 393.5 59.1 395.6 58.9 397.8 59.1 399.3 59.1 399.3 59.9 401.1 60.3 403.5 60.5 405.6 60.7 407.8 61.1 409.7 61.4 411.6 61.9 413.7 62.1 415.8 62.3 417.9 62.6 420.1 62.5 422.1 62.2 424.3 62.2 424.3 62.9 425.9 62.9 425.9 63.6 428.2 63.6 429.8 64.2 432.0 63.9 434.1 64.3 436.3 64.6 438.5 64.4 439.9 64.4 439.9 65.4 441.7 65.4 441.7 66.0 443.9 65.8 445.7 66.3 447.5 66.3 447.5 67.1 449.7 67.0 451.0 67.0 451.0 68.0 453.0 68.6 454.9 68.0 457.1 68.1 458.9 68.1 458.9 68.7 460.6 69.2 462.7 69.4 464.2 69.4 464.2 70.1 466.0 70.1 466.0 70.9 467.9 70.5 469.8 70.8 472.0 70.8 472.0 71.4 474.1 71.7 476.2 72.0 478.2 71.6 479.4 71.6 479.4 72.7 481.1 72.7 481.1 73.3 483.0 73.8 485.1 74.1 486.7 74.1 486.7 74.9 488.3 74.9 488.3 75.5 490.5 75.4 492.5 75.1 494.1 75.7 495.7 75.7 495.7 76.5 497.7 76.1 499.3 76.7 501.5 76.9 503.3 76.9 503.3 77.7 504.1 77.7 504.1 79.3 505.6 79.3 505.6 80.2 506.6 80.2 506.6 81.5 508.6 81.2 510.5 81.7 512.5 81.3 514.7 81.0 516.6 80.5 518.8 80.4 520.1 80.4 520.1 81.3 521.6 81.3 521.6 82.1 523.2 82.1 523.2 83.0 524.4 83.0 524.4 84.0 526.2 84.0 526.2 84.8 528.0 85.3 530.1 85.5 532.3 85.7 534.1 86.3 535.8 86.3 535.8 87.0 537.4 87.0 537.4 87.7 538.9 87.7 538.9 88.7 541.0 88.8 542.2 88.8 542.2 89.9 544.4 89.9 546.1 89.9 546.1 90.8 547.9 90.8 547.9 91.5 549.8 92.0 552.1 91.9 554.0 91.6 556.0 91.9 556.7 91.9 556.7 93.3 558.2 93.3 558.2 94.2 559.6 94.2 559.6 95.2 561.5 95.7 562.9 95.7 562.9 96.6 564.8 97.1 566.7 97.5 568.1 96.6 569.1 96.6 569.1 98.0 570.1 98.0 570.1 99.3 571.4 99.3 571.4 100.6 572.3 100.6 572.3 102.0 573.8 102.0 573.8 102.9 575.7 103.2 577.8 103.3 579.8 103.6 581.3 103.6 581.3 104.4 582.7 104.4 582.7 105.4 584.6 105.9 585.5 105.9 585.5 107.3 586.6 107.3 586.6 108.4 587.7 108.4 587.7 109.9 588.5 109.9 588.5 111.4 589.8 111.4 589.8 112.6 591.3 112.6 591.3 113.2 592.7 113.2 592.7 114.3 594.6 114.7 596.1 114.7 596.1 115.5 597.3 115.5 597.3 116.8 598.7 116.8 598.7 117.8 599.4 117.8 599.4 119.3 600.6 119.3 600.6 120.5 602.5 120.5 602.5 121.2 603.6 121.2 603.6 122.4 604.9 122.4 604.9 123.5 606.9 124.0 607.6 124.0 607.6 125.6 608.7 125.6 608.7 126.8 610.1 126.8 610.1 127.8 611.3 127.8 611.3 129.0 612.0 129.0 612.0 130.8 613.2 130.8 613.2 132.0 613.9 132.0 613.9 133.8 615.4 133.8 615.4 134.5 616.4 134.5 616.4 135.9 617.9 135.9 617.9 136.7 618.0 136.7 618.0 138.8 619.0 138.8 619.0 140.3 619.9 140.3 619.9 141.7 621.1 141.7 621.1 142.8 621.9 142.8 621.9 144.4 622.9 144.4 622.9 145.7 623.8 145.7 623.8 147.2 624.4 147.2 624.4 149.0 624.8 149.0 624.8 150.9 625.1 150.9 625.1 152.9 626.5 152.9 626.5 153.9 627.2 153.9 627.2 155.5 627.3 155.5 627.3 157.6 627.7 157.6 627.7 159.5 628.7 159.5 628.7 160.7 629.5 160.7 629.5 162.2 630.0 162.2 630.0 163.9 629.7 163.9 629.7 165.8 630.3 165.8 630.3 167.7 631.0 167.7 631.0 169.4 631.8 169.4 631.8 171.1 632.2 171.1 632.2 173.1 632.7 173.1 632.7 175.0 633.2 175.0 633.2 176.9 633.7 176.9 633.7 178.7 634.6 178.7 634.6 181.2 635.4 181.2 635.4 185.5 634.9 185.5 634.9 188.6 635.3 188.6 635.3 192.6 635.0 192.6 635.0 196.1 635.9 201.1 638.4 201.1 635.2 209.6 638.6 209.6 639.2 218.2 641.4 218.2 640.4 223.4 641.6 223.4 640.3 229.3 641.5 229.3 640.3 235.2 643.2 235.2 641.2 242.3 642.5 242.3 641.3 247.4 642.6 247.4 642.5 255.9 645.1 255.9 645.5 260.2 646.8 260.2 643.6 269.0 646.6 269.0 645.0 276.0 646.2 276.0 645.0 280.7 647.4 280.7 646.2 286.8 648.5 286.8 646.4 293.2 648.7 293.2 648.0 297.5 649.9 297.5 647.9 303.1 650.2 303.1 646.4 318.5 649.2 318.5 643.9 335.3 649.0 335.3 645.0 346.0 655.4 346.0 655.4 374.1" stroke="#e377c2"/>
<path d="M88.6 44.9 91.2 45.0 93.8 45.0 96.4 45.1 99.0 45.1 101.5 45.3 104.1 45.4 106.6 45.4 109.2 45.6 111.7 45.7 113.9 45.6 116.2 45.6 118.6 45.6 120.8 45.5 123.2 45.6 125.6 45.8 128.0 45.9 130.4 46.0 132.7 46.1 135.0 46.2 137.6 46.1 140.2 46.1 142.6 46.3 145.1 46.2 147.8 46.2 150.0 46.4 152.2 46.5 154.4 46.6 156.7 46.5 158.8 46.5 161.5 46.7 164.0 46.8 166.4 46.7 168.7 46.6 171.1 46.6 173.6 46.7 176.1 46.8 178.6 47.0 181.1 47.2 183.5 47.2 185.7 47.2 188.2 47.4 190.5 47.5 192.8 47.5 194.9 47.4 196.9 47.2 199.2 47.3 201.4 47.4 203.5 47.8 205.7 47.9 208.2 47.9 210.5 48.1 212.7 48.2 214.6 48.5 216.9 48.3 219.0 48.4 221.2 48.2 223.6 48.1 225.8 47.9 228.2 48.0 230.3 48.2 232.5 48.5 234.7 48.9 236.9 49.1 239.0 49.0 241.2 48.9 243.2 49.1 245.5 49.2 247.7 49.1 250.2 49.1 252.4 49.6 254.6 49.8 256.6 50.0 259.1 50.1 261.5 50.0 263.8 50.3 266.1 50.1 268.4 50.0 270.8 49.9 272.9 50.2 275.3 50.2 277.7 50.3 279.8 50.5 281.9 50.7 284.0 51.0 286.2 51.3 288.5 51.4 290.5 51.0 292.6 50.9 294.6 51.1 296.6 50.8 298.7 51.2 300.7 51.5 302.8 51.3 304.8 51.7 306.7 52.0 308.9 52.1 311.0 52.6 313.3 52.6 315.6 52.4 317.8 52.7 320.0 53.1 322.2 52.9 324.3 53.1 326.0 53.7 328.2 53.6 330.5 53.6 332.7 53.6 334.9 53.6 337.2 53.8 339.3 54.3 341.6 54.5 343.8 54.7 346.1 55.0 348.5 55.1 350.9 55.0 353.3 55.1 355.5 55.4 357.4 55.7 359.6 55.9 361.5 56.3 363.3 56.8 365.5 56.8 367.8 56.9 370.1 56.8 372.0 56.4 373.8 56.8 375.9 57.0 378.2 57.3 379.9 57.3 379.9 57.9 381.9 58.1 384.1 58.4 386.4 58.5 388.6 58.7 390.6 59.0 392.8 59.2 394.8 59.8 397.0 59.8 399.4 60.0 401.3 60.4 403.5 60.5 405.6 60.7 407.9 60.7 410.0 60.9 411.8 61.4 413.5 61.4 413.5 62.1 415.2 62.1 415.2 62.7 416.9 62.7 416.9 63.4 418.6 62.9 420.8 62.6 422.7 62.9 424.8 63.3 426.4 63.3 426.4 63.9 428.3 64.5 430.6 64.8 432.4 65.3 434.4 65.0 436.3 64.8 438.4 65.3 440.0 65.3 440.0 66.0 441.8 66.4 443.6 67.0 445.1 67.0 445.1 67.9 447.1 68.4 449.3 68.3 451.5 68.2 453.2 68.2 453.2 68.9 455.2 68.5 456.7 68.5 456.7 69.4 458.6 69.7 460.2 69.7 460.2 70.4 461.9 69.9 464.0 69.7 465.5 69.7 465.5 70.5 466.8 70.5 466.8 71.4 468.7 71.7 470.6 71.7 470.6 72.5 472.3 72.5 472.3 73.2 474.5 72.9 475.9 72.9 475.9 73.8 478.3 73.7 480.4 73.5 482.6 73.2 484.0 73.2 484.0 74.1 486.1 74.5 488.2 74.8 489.9 74.8 489.9 75.4 491.2 75.4 491.2 76.9 492.8 76.9 492.8 77.5 494.4 77.5 494.4 78.4 496.4 78.0 498.6 77.6 500.7 77.7 502.9 77.6 504.2 77.6 504.2 78.5 505.5 78.5 505.5 79.6 506.6 79.6 506.6 80.9 508.3 80.9 508.3 81.7 510.7 81.8 512.9 81.5 514.5 81.5 514.5 82.1 516.0 82.1 516.0 83.0 517.5 83.0 517.5 83.8 519.3 83.8 519.3 84.4 521.4 84.7 523.5 84.9 525.3 85.5 527.1 86.0 528.9 86.0 528.9 86.8 530.1 86.8 530.1 87.9 531.9 88.3 534.2 88.1 536.0 88.6 538.1 88.8 540.3 89.0 542.6 88.9 544.4 89.3 545.5 89.3 545.5 90.7 546.8 90.7 546.8 92.0 548.6 92.6 550.1 92.6 550.1 93.5 551.9 93.5 551.9 94.2 552.8 94.2 552.8 95.8 554.7 96.1 557.1 95.8 558.9 95.2 560.1 95.2 560.1 96.2 561.5 96.2 561.5 97.3 563.3 96.8 564.8 96.8 564.8 97.7 567.0 98.0 568.9 98.3 570.8 98.8 571.8 98.8 571.8 100.2 573.7 100.7 575.1 100.7 575.1 101.6 576.9 101.6 576.9 102.3 578.4 102.3 578.4 103.0 579.0 103.0 579.0 104.7 580.1 104.7 580.1 106.3 581.5 106.3 581.5 107.2 582.8 107.2 582.8 108.4 584.8 108.6 586.3 108.6 586.3 109.4 587.6 109.4 587.6 110.4 588.6 110.4 588.6 111.8 590.4 112.3 591.3 112.3 591.3 113.7 592.6 113.7 592.6 114.8 594.0 114.8 594.0 115.8 595.4 115.8 595.4 116.7 596.8 116.7 596.8 117.5 598.7 118.1 600.1 118.1 600.1 119.0 600.7 119.0 600.7 120.8 601.6 120.8 601.6 122.5 603.1 122.5 603.1 123.3 605.1 123.7 606.4 123.7 606.4 124.7 607.3 124.7 607.3 126.3 608.6 126.3 608.6 127.4 609.2 127.4 609.2 129.0 610.7 129.0 610.7 129.8 611.9 129.8 611.9 131.0 612.2 131.0 612.2 132.9 613.4 132.9 613.4 134.1 615.0 134.1 615.0 134.7 615.7 134.7 615.7 136.4 616.6 136.4 616.6 138.0 617.5 138.0 617.5 139.4 618.5 139.4 618.5 140.9 619.8 140.9 619.8 141.8 620.4 141.8 620.4 143.7 621.4 143.7 621.4 145.0 622.3 145.0 622.3 146.4 623.2 146.4 623.2 147.9 624.0 147.9 624.0 149.4 623.9 149.4 623.9 151.6 625.4 151.6 625.4 152.4 626.2 152.4 626.2 153.9 626.2 153.9 626.2 156.2 627.8 156.2 627.8 156.8 627.5 156.8 627.5 159.5 628.1 159.5 628.1 161.1 628.8 161.1 628.8 162.6 629.2 162.6 629.2 164.4 629.5 164.4 629.5 166.5 630.7 166.5 630.7 167.5 630.5 167.5 630.5 169.6 631.5 169.6 631.5 171.1 631.9 171.1 631.9 173.1 632.2 173.1 632.2 175.2 632.9 175.2 632.9 176.8 634.3 176.8 634.3 177.9 634.4 177.9 634.4 182.4 635.3 182.4 635.3 187.0 636.0 187.0 636.0 190.6 635.9 190.6 635.9 193.4 637.0 193.4 637.0 197.7 636.4 201.8 638.5 201.8 638.0 209.0 639.1 209.0 638.1 213.6 640.6 213.6 639.3 220.9 640.9 220.9 640.0 228.0 642.9 228.0 639.5 233.3 642.4 233.3 640.9 240.3 642.5 240.3 641.2 248.8 643.2 248.8 644.3 256.5 645.6 256.5 641.1 264.5 643.4 264.5 642.0 269.0 643.7 269.0 643.8 276.3 645.1 276.3 643.4 282.1 646.7 282.1 645.3 289.6 646.6 289.6 646.9 293.9 648.4 293.9 645.5 302.7 648.5 302.7 644.6 308.3 646.0 308.3 646.3 313.3 647.7 313.3 643.5 327.8 647.6 327.8 642.1 349.1 644.7 349.1 639.0 358.0 655.4 358.0 655.4 374.1" stroke="#f7b6d2"/>
<path d="M88.7 45.0 91.3 45.0 93.9 45.1 96.5 45.2 99.1 45.2 101.6 45.3 104.0 45.3 106.5 45.4 109.1 45.5 111.6 45.6 113.9 45.6 116.4 45.7 118.8 45.8 121.3 46.0 123.8 46.1 126.1 46.2 128.5 46.3 130.9 46.5 133.1 46.5 135.7 46.4 138.3 46.3 140.2 46.6 142.8 46.4 145.0 46.5 147.4 46.4 149.8 46.7 152.4 46.7 154.8 46.5 156.9 46.6 159.3 46.5 161.4 46.7 163.7 47.0 166.4 47.1 168.8 47.2 171.0 46.9 173.4 47.0 175.9 47.1 178.4 47.3 180.6 47.6 182.7 47.4 185.0 47.4 187.3 47.4 189.5 47.3 191.5 47.6 193.8 47.6 196.2 47.9 198.5 48.0 200.5 48.3 202.7 48.3 204.9 48.4 207.1 48.0 209.0 48.3 211.4 48.2 213.7 48.4 215.8 48.0 218.0 48.2 220.3 48.5 222.5 48.7 224.4 49.1 226.7 49.1 229.1 49.1 231.4 49.0 233.7 49.0 235.9 48.9 238.2 48.9 240.3 48.7 242.4 49.0 244.4 48.7 246.8 49.0 248.8 49.2 251.2 49.5 253.1 49.1 255.2 49.5 257.4 49.6 259.4 50.0 261.8 49.9 264.3 50.0 266.5 50.2 268.7 50.4 271.1 50.5 273.5 51.0 275.6 51.1 277.9 51.0 280.2 51.2 282.5 51.2 284.8 51.1 286.9 50.9 288.9 50.6 291.3 50.8 293.7 51.2 295.8 51.5 298.0 51.6 300.2 51.7 302.7 51.8 305.1 51.7 307.5 51.7 309.8 51.6 311.8 51.9 314.0 52.2 316.2 52.5 318.5 52.4 320.7 52.8 323.1 53.0 325.2 53.2 327.2 53.7 329.2 53.4 331.4 53.3 333.7 53.4 335.8 53.7 337.9 53.6 339.6 54.2 341.8 54.2 343.7 54.5 346.0 54.7 348.4 54.6 350.5 54.7 352.7 55.0 355.1 55.1 356.9 55.6 358.9 55.3 360.9 55.8 362.8 56.3 365.1 56.3 367.4 56.2 369.5 56.4 371.4 56.9 373.2 56.5 375.3 56.8 377.5 56.6 379.6 56.9 381.8 56.9 383.6 57.4 385.5 57.4 385.5 58.0 387.1 58.0 387.1 58.7 389.4 59.0 391.8 59.2 394.0 59.3 396.1 59.2 398.3 59.4 400.4 59.5 402.4 60.0 404.4 60.6 406.7 60.5 408.3 60.5 408.3 61.4 410.4 61.6 412.5 62.0 414.6 62.1 416.1 61.3 417.8 61.9 419.5 62.4 421.3 62.9 423.4 63.3 425.3 63.8 426.8 63.1 429.0 63.1 430.9 63.7 433.0 63.7 433.0 64.3 435.0 64.3 435.0 64.9 436.8 64.9 436.8 65.5 438.2 65.5 438.2 66.5 440.5 66.6 442.4 66.2 444.4 66.7 446.4 66.3 447.9 66.3 447.9 67.1 449.9 67.3 452.1 67.7 454.1 67.7 454.1 68.4 456.5 68.5 458.2 69.0 460.4 69.1 462.8 69.2 464.3 68.4 465.8 68.4 465.8 69.1 466.6 69.1 466.6 70.5 468.6 70.0 469.8 70.0 469.8 71.2 471.3 71.2 471.3 72.4 472.9 72.4 472.9 73.1 475.1 72.8 476.5 72.8 476.5 73.9 478.7 73.5 480.6 73.5 480.6 74.1 482.7 74.4 485.0 74.5 486.6 74.5 486.6 75.5 489.0 75.6 490.6 75.6 490.6 76.2 492.6 75.9 493.7 75.9 493.7 77.1 495.9 77.0 498.0 77.1 499.1 77.1 499.1 78.2 500.7 78.2 500.7 78.9 502.9 78.5 505.0 78.9 506.9 79.3 508.5 78.7 510.3 79.2 511.6 79.2 511.6 80.2 513.2 80.2 513.2 81.0 515.1 81.4 516.3 81.4 516.3 82.4 518.2 82.9 519.2 82.9 519.2 84.2 520.7 84.2 520.7 85.1 522.5 85.5 524.6 85.6 526.8 85.7 528.4 85.7 528.4 86.9 530.2 87.4 532.3 87.1 534.1 87.6 535.6 87.6 535.6 88.4 536.9 88.4 536.9 89.8 539.0 90.1 540.2 90.1 540.2 91.3 542.1 90.9 544.2 90.7 545.8 90.7 545.8 91.6 547.3 91.6 547.3 92.6 548.8 92.6 548.8 93.3 550.7 93.6 552.2 93.6 552.2 94.4 554.1 94.7 555.9 94.2 557.8 94.6 558.9 94.6 558.9 95.8 560.1 95.8 560.1 96.8 562.0 97.1 562.9 97.1 562.9 98.8 563.6 98.8 563.6 100.3 565.4 99.8 567.0 99.8 567.0 100.5 568.4 100.5 568.4 101.4 569.0 101.4 569.0 103.0 570.7 103.0 570.7 103.7 573.0 103.5 573.9 103.5 573.9 105.0 575.6 105.0 575.6 105.7 577.5 106.1 579.4 106.6 580.8 106.6 580.8 107.5 582.3 107.5 582.3 108.8 584.3 109.1 585.7 109.1 585.7 110.0 587.2 110.0 587.2 110.7 588.7 110.7 588.7 111.5 589.2 111.5 589.2 113.6 589.8 113.6 589.8 115.4 590.6 115.4 590.6 116.9 592.5 117.3 594.0 117.3 594.0 118.2 595.1 118.2 595.1 119.5 595.7 119.5 595.7 121.2 597.8 121.3 599.0 121.3 599.0 122.6 600.5 122.6 600.5 123.4 601.2 123.4 601.2 124.9 602.5 124.9 602.5 125.8 603.4 125.8 603.4 127.5 605.3 128.0 607.2 127.5 608.3 127.5 608.3 128.8 608.9 128.8 608.9 130.8 610.1 130.8 610.1 132.0 611.7 132.5 613.2 132.5 613.2 133.3 613.2 133.3 613.2 135.7 613.7 135.7 613.7 137.7 614.1 137.7 614.1 139.8 615.6 139.8 615.6 140.5 616.5 140.5 616.5 141.9 615.9 141.9 615.9 143.6 617.6 143.6 617.6 144.5 618.5 144.5 618.5 145.9 619.5 145.9 619.5 147.1 619.7 147.1 619.7 149.4 620.9 149.4 620.9 150.5 622.1 150.5 622.1 151.5 623.8 152.0 623.8 152.0 623.8 154.4 624.2 154.4 624.2 156.3 625.5 156.3 625.5 157.2 626.5 157.2 626.5 158.4 626.9 158.4 626.9 160.3 627.6 160.3 627.6 161.8 628.0 161.8 628.0 163.6 628.3 163.6 628.3 165.6 629.4 165.6 629.4 166.9 629.8 166.9 629.8 169.0 629.6 169.0 629.6 171.0 630.5 171.0 630.5 172.5 630.3 172.5 630.3 174.6 630.8 174.6 630.8 176.4 631.6 176.4 631.6 178.0 632.0 178.0 632.0 181.1 634.2 181.1 634.2 184.9 633.6 184.9 633.6 189.6 632.9 189.6 632.9 192.9 633.4 192.9 633.4 195.7 634.7 202.9 636.3 202.9 636.2 211.1 637.7 211.1 637.5 216.8 639.9 216.8 638.7 222.3 640.1 222.3 637.5 229.4 640.3 229.4 638.7 236.8 640.1 236.8 640.9 245.5 642.4 245.5 641.4 254.4 642.6 254.4 642.8 260.3 644.3 260.3 641.5 266.9 643.9 266.9 643.9 271.3 645.6 271.3 642.5 277.2 644.1 277.2 644.5 285.5 647.7 285.5 643.5 290.2 646.3 290.2 645.0 295.8 648.3 295.8 644.0 303.3 647.1 303.3 645.6 310.0 648.5 310.0 642.9 331.4 647.0 331.4 640.0 347.0 655.4 347.0 655.4 374.1" stroke="#7f7f7f"/>
<path d="M88.7 44.9 91.3 45.0 93.9 45.1 96.5 45.1 99.0 45.2 101.6 45.3 104.1 45.4 106.6 45.5 109.1 45.5 111.6 45.6 113.8 45.5 116.2 45.6 118.8 45.8 121.1 45.8 123.3 45.8 125.6 45.8 127.8 45.7 130.0 45.7 132.4 45.9 134.6 45.9 137.0 46.1 139.2 46.2 141.5 46.3 144.1 46.2 146.3 46.4 148.5 46.5 150.7 46.5 153.3 46.6 155.8 46.6 158.4 46.6 160.9 46.6 163.3 46.6 165.8 46.6 167.9 46.8 170.1 47.0 172.3 47.3 174.7 47.3 176.9 47.2 179.3 47.2 181.6 47.2 184.0 47.3 186.2 47.2 188.6 47.3 190.9 47.4 193.2 47.5 195.4 47.5 197.8 47.7 200.1 47.8 202.4 48.1 204.7 48.2 207.1 48.1 209.3 48.1 211.7 48.0 213.8 48.1 216.2 48.5 218.4 48.7 220.8 48.7 223.2 48.6 225.5 48.5 227.7 48.3 229.9 48.7 232.2 48.6 234.5 48.6 236.8 48.6 239.0 48.9 241.0 49.1 243.3 49.3 245.7 49.4 247.7 49.7 249.9 49.7 252.4 49.6 254.6 49.6 256.9 49.9 259.2 50.1 261.2 50.4 263.4 50.7 265.5 50.3 267.8 50.1 269.9 50.2 272.1 50.5 274.5 50.5 276.7 50.8 279.1 50.9 281.4 51.0 283.6 51.3 285.9 51.4 288.0 51.7 290.2 51.7 292.4 51.6 294.5 51.5 296.7 51.6 299.0 51.7 301.2 51.9 303.3 52.3 305.3 52.7 307.9 52.9 310.0 53.1 312.2 53.2 314.4 53.0 316.7 53.0 319.1 53.1 321.0 53.5 323.1 53.6 325.2 53.8 327.5 53.9 329.7 53.7 331.8 54.1 333.9 54.4 335.9 54.6 338.2 54.8 340.4 54.8 342.2 55.3 344.2 55.6 346.2 55.9 348.6 55.8 350.7 55.9 352.7 56.2 354.8 56.4 356.8 56.7 358.8 56.5 361.1 56.5 363.2 56.8 365.1 57.1 367.4 57.0 369.3 57.4 371.2 57.8 373.2 58.0 375.1 58.5 377.2 58.9 379.5 59.1 381.5 59.5 383.7 59.5 386.0 59.8 388.0 60.0 390.0 59.7 391.8 60.1 393.8 60.6 396.0 60.9 398.0 61.1 399.7 61.7 401.7 62.0 404.0 62.0 406.1 62.3 408.1 62.6 410.4 62.7 412.3 63.2 414.2 63.6 416.5 63.6 418.5 63.8 420.6 64.0 422.9 64.1 424.7 64.6 426.6 65.0 428.4 65.5 430.3 66.1 432.1 66.7 434.3 66.7 436.5 66.9 438.5 67.2 440.3 67.7 442.5 67.9 444.7 68.0 446.5 68.5 448.4 68.8 450.6 69.1 452.4 69.1 452.4 69.7 454.3 70.0 455.6 70.0 455.6 70.9 457.6 71.4 459.7 71.5 461.4 71.5 461.4 72.2 463.6 72.3 465.7 72.5 467.8 72.7 469.7 73.1 471.7 73.5 473.6 73.8 475.2 73.8 475.2 74.6 476.9 74.6 476.9 75.2 478.8 75.7 480.9 75.8 482.7 76.3 484.4 76.3 484.4 76.9 486.0 76.9 486.0 77.7 488.1 78.1 489.9 78.6 492.0 79.0 494.1 79.1 496.4 79.2 498.5 79.5 500.3 80.0 502.4 80.3 504.0 80.3 504.0 81.0 505.8 81.3 506.9 81.3 506.9 82.5 508.9 82.9 510.7 82.9 510.7 83.7 512.5 83.7 512.5 84.4 514.8 84.4 516.4 84.4 516.4 85.2 518.4 85.6 520.2 86.1 522.3 86.3 523.9 86.3 523.9 87.0 525.9 87.3 527.4 87.3 527.4 88.4 529.1 88.9 530.9 88.3 532.4 88.3 532.4 88.9 534.5 89.1 535.7 89.1 535.7 90.3 537.3 89.3 539.1 89.8 540.9 89.8 540.9 90.7 543.0 90.7 544.7 90.7 544.7 91.7 546.5 91.7 546.5 92.3 548.0 92.3 548.0 93.2 549.8 93.7 551.5 93.7 551.5 94.4 553.2 94.4 553.2 95.2 555.3 95.7 557.6 95.8 559.3 95.8 559.3 96.4 561.2 96.9 563.6 96.7 565.1 96.7 565.1 97.6 566.6 97.6 566.6 98.3 568.4 98.8 569.8 98.8 569.8 100.0 570.7 100.0 570.7 101.5 571.8 101.5 571.8 102.6 573.2 102.6 573.2 103.6 574.6 103.6 574.6 104.5 576.6 104.7 578.6 105.1 580.0 105.1 580.0 105.8 581.6 105.8 581.6 106.5 583.2 106.5 583.2 107.2 584.7 107.2 584.7 107.9 586.1 107.9 586.1 108.9 587.6 108.9 587.6 109.7 588.9 109.7 588.9 110.7 590.1 110.7 590.1 112.0 591.0 112.0 591.0 113.3 592.0 113.3 592.0 114.6 593.6 114.6 593.6 115.2 595.1 115.2 595.1 116.0 595.9 116.0 595.9 117.4 596.6 117.4 596.6 119.1 597.9 119.1 597.9 120.2 599.7 120.8 601.3 120.8 601.3 121.4 602.8 121.4 602.8 122.2 604.1 122.2 604.1 123.2 605.4 123.2 605.4 124.4 606.4 124.4 606.4 125.7 608.2 125.7 608.2 126.5 609.1 126.5 609.1 128.1 610.6 128.1 610.6 128.8 612.0 128.8 612.0 129.8 612.5 129.8 612.5 131.5 613.0 131.5 613.0 133.2 613.5 133.2 613.5 135.0 614.5 135.0 614.5 136.3 615.8 136.3 615.8 137.3 617.2 137.3 617.2 138.2 618.5 138.2 618.5 139.2 619.6 139.2 619.6 140.5 621.1 140.5 621.1 141.2 621.6 141.2 621.6 143.2 622.8 143.2 622.8 144.3 623.4 144.3 623.4 146.1 623.6 146.1 623.6 148.3 624.6 148.3 624.6 149.7 625.2 149.7 625.2 151.4 625.3 151.4 625.3 153.6 625.5 153.6 625.5 155.8 626.6 155.8 626.6 156.9 627.5 156.9 627.5 158.3 628.4 158.3 628.4 159.6 629.1 159.6 629.1 161.1 630.2 161.1 630.2 162.3 630.9 162.3 630.9 163.9 631.2 163.9 631.2 166.0 631.5 166.0 631.5 168.1 631.4 168.1 631.4 170.4 631.5 170.4 631.5 172.7 631.8 172.7 631.8 174.8 632.9 174.8 632.9 176.1 634.2 176.1 634.2 177.3 634.4 177.3 634.4 179.4 633.9 179.4 633.9 182.4 635.2 182.4 635.2 185.4 635.5 185.4 635.5 189.7 635.8 189.7 635.8 192.3 636.6 192.3 636.6 196.4 636.6 200.7 637.9 200.7 637.8 207.5 639.0 207.5 637.5 215.6 640.4 215.6 639.3 219.6 640.7 219.6 639.5 226.5 642.3 226.5 639.7 232.4 642.2 232.4 642.3 240.9 643.3 240.9 642.4 245.7 644.0 245.7 642.2 254.4 645.6 254.4 643.6 262.4 645.2 262.4 646.7 269.6 647.8 269.6 643.8 277.4 646.7 277.4 647.8 284.1 649.1 284.1 647.1 290.0 649.0 290.0 647.1 298.7 649.3 298.7 647.4 306.4 650.1 306.4 647.1 312.0 648.7 312.0 643.7 330.2 649.2 330.2 643.0 352.0 655.4 352.0 655.4 374.1" stroke="#c7c7c7"/>
<path d="M88.7 45.0 91.4 45.1 94.0 45.1 96.6 45.2 99.2 45.3 101.8 45.4 104.3 45.5 106.8 45.6 109.2 45.6 111.6 45.6 114.0 45.7 116.4 45.7 118.8 45.8 121.1 45.8 123.5 45.9 125.5 46.2 127.5 45.9 129.7 45.9 132.1 46.1 134.8 46.1 137.5 46.1 140.0 46.4 142.4 46.2 145.2 46.3 147.5 46.5 149.9 46.8 152.3 46.6 154.4 46.7 157.0 46.7 159.6 46.8 162.1 46.9 164.4 47.1 166.8 47.1 169.4 47.3 171.5 47.4 174.1 47.6 176.2 47.9 178.4 47.7 180.9 47.9 183.3 47.9 185.4 47.8 187.7 47.8 189.9 47.8 191.9 48.0 193.9 47.7 196.3 47.9 198.1 47.6 200.3 47.6 202.3 47.9 204.5 47.9 207.0 47.9 209.2 48.1 211.4 48.1 213.6 48.3 215.7 48.4 218.0 48.6 220.2 48.8 222.5 48.8 224.9 48.8 227.0 48.9 229.5 49.0 231.6 49.3 233.9 49.3 236.1 49.6 238.3 49.5 240.4 49.3 242.7 49.4 245.1 49.6 247.2 49.9 249.4 50.0 251.4 49.8 253.4 50.0 255.9 50.0 258.2 50.2 260.4 50.3 262.9 50.4 265.2 50.7 267.1 51.1 269.6 51.2 271.7 51.4 273.9 51.1 276.1 51.4 278.4 51.4 280.7 51.4 282.9 51.8 285.2 51.8 287.3 51.6 289.5 52.0 291.6 52.3 293.6 52.1 295.9 52.2 298.1 52.3 300.3 52.4 302.4 52.8 304.3 52.5 306.3 52.9 308.7 52.9 311.2 53.0 313.4 53.4 315.2 53.9 317.4 53.6 319.7 53.7 321.6 54.0 323.6 54.6 325.7 54.3 328.0 54.2 330.2 54.7 332.2 55.0 334.6 55.3 336.8 55.2 338.9 55.1 340.9 55.3 342.9 55.6 345.1 55.7 347.6 55.9 349.5 56.3 351.3 56.7 353.7 56.7 355.8 56.9 357.9 57.0 360.2 57.0 362.6 57.1 364.3 57.1 364.3 57.7 366.2 58.1 368.2 58.6 370.0 58.9 372.2 58.8 374.5 58.9 376.8 59.1 378.6 59.6 380.9 59.8 382.7 60.3 384.8 60.7 387.0 60.9 389.0 61.3 391.1 61.1 393.3 61.2 395.7 61.5 397.7 61.8 399.8 62.1 401.8 62.5 403.6 62.5 403.6 63.2 405.7 63.4 407.8 63.6 409.5 64.2 411.8 64.5 414.1 64.5 416.2 64.7 417.9 64.7 417.9 65.4 419.8 65.9 421.9 65.6 424.0 66.1 426.3 66.5 428.5 66.4 430.5 66.6 432.4 66.6 432.4 67.4 434.2 67.4 434.2 68.0 436.0 68.5 437.6 68.5 437.6 69.4 440.0 69.7 441.8 70.1 443.7 69.8 445.5 69.8 445.5 70.5 446.8 70.5 446.8 71.4 449.0 71.6 450.7 72.1 452.7 72.6 454.6 72.2 456.5 71.7 458.2 72.3 460.4 72.8 462.1 73.3 463.8 72.8 465.5 72.8 465.5 73.6 467.2 74.1 468.8 74.1 468.8 74.9 470.5 74.9 470.5 75.5 471.9 75.5 471.9 76.4 473.1 76.4 473.1 77.5 475.0 77.5 475.0 78.2 476.9 77.8 478.8 78.4 481.1 78.6 482.9 78.6 482.9 79.2 484.8 78.5 486.8 78.1 487.9 78.1 487.9 79.1 489.5 79.1 489.5 79.9 491.1 79.9 491.1 80.5 493.0 81.1 495.3 81.2 496.1 81.2 496.1 82.6 497.9 83.2 500.0 83.4 502.3 83.5 504.4 83.6 505.9 83.6 505.9 84.3 507.5 83.7 509.8 83.9 511.3 83.9 511.3 84.8 512.9 84.8 512.9 85.5 514.4 85.5 514.4 86.4 515.6 86.4 515.6 87.5 516.9 86.5 518.4 86.5 518.4 87.2 520.3 86.6 522.4 86.6 524.2 86.6 524.2 87.3 525.9 86.6 527.1 86.6 527.1 87.7 528.9 88.2 531.1 88.1 532.6 88.1 532.6 89.2 534.7 89.2 536.2 89.2 536.2 90.0 538.1 90.3 539.6 90.3 539.6 91.1 541.7 90.8 543.9 90.9 546.1 91.0 547.5 91.0 547.5 92.0 549.6 92.5 550.7 92.5 550.7 93.6 552.6 93.9 554.5 94.3 556.7 94.6 558.7 94.1 560.7 93.7 563.0 93.9 564.5 93.9 564.5 94.6 565.5 94.6 565.5 96.0 567.5 96.2 568.6 96.2 568.6 97.6 570.0 97.6 570.0 98.5 572.0 98.7 573.1 98.7 573.1 99.9 573.9 99.9 573.9 101.7 575.8 102.0 577.8 102.3 579.6 101.6 581.0 101.6 581.0 102.8 583.0 102.6 584.6 102.6 584.6 103.3 586.1 103.3 586.1 104.1 587.7 104.1 587.7 104.8 588.7 104.8 588.7 106.4 589.7 106.4 589.7 107.7 590.9 107.7 590.9 109.1 592.3 109.1 592.3 110.0 593.9 110.0 593.9 110.7 594.5 110.7 594.5 112.5 596.7 112.7 598.0 112.7 598.0 113.8 599.4 113.8 599.4 114.8 600.1 114.8 600.1 116.4 601.1 116.4 601.1 117.9 602.8 118.5 604.3 118.5 604.3 119.3 605.7 119.3 605.7 120.2 607.4 120.2 607.4 121.2 608.5 121.2 608.5 122.5 610.2 123.0 611.4 123.0 611.4 124.3 613.0 124.3 613.0 125.0 613.6 125.0 613.6 126.6 615.2 126.6 615.2 127.3 615.7 127.3 615.7 129.1 616.9 129.1 616.9 130.3 617.7 130.3 617.7 132.0 618.5 132.0 618.5 133.7 619.4 133.7 619.4 135.2 620.6 135.2 620.6 136.4 621.8 136.4 621.8 137.6 622.4 137.6 622.4 139.5 623.5 139.5 623.5 140.7 623.8 140.7 623.8 142.9 625.2 142.9 625.2 143.8 626.0 143.8 626.0 145.4 626.9 145.4 626.9 146.8 628.4 146.8 628.4 147.6 629.3 147.6 629.3 149.0 630.1 149.0 630.1 150.6 630.8 150.6 630.8 152.3 631.0 152.3 631.0 154.4 630.9 154.4 630.9 156.8 630.8 156.8 630.8 159.2 631.3 159.2 631.3 160.9 632.1 160.9 632.1 162.4 632.6 162.4 632.6 164.2 633.2 164.2 633.2 165.7 634.3 165.7 634.3 166.9 634.0 166.9 634.0 169.3 633.8 169.3 633.8 171.7 633.9 171.7 633.9 173.9 635.5 173.9 635.5 174.6 635.2 174.6 635.2 176.9 636.5 176.9 636.5 178.1 636.7 178.1 636.7 182.4 638.4 182.4 638.4 185.8 638.0 185.8 638.0 189.0 638.7 189.0 638.7 193.1 637.5 193.1 637.5 196.3 638.8 201.9 640.6 201.9 640.0 208.8 642.4 208.8 640.5 215.4 642.4 215.4 639.8 223.1 643.1 223.1 641.6 227.5 644.0 227.5 643.3 236.2 644.4 236.2 642.6 240.7 645.0 240.7 643.6 245.7 645.7 245.7 644.6 250.8 646.5 250.8 643.5 255.2 645.4 255.2 646.0 261.9 648.6 261.9 645.2 267.4 647.3 267.4 647.4 273.6 649.7 273.6 647.8 279.9 648.9 279.9 645.8 283.9 648.3 283.9 648.4 289.3 650.1 289.3 646.7 296.1 649.8 296.1 649.0 302.9 651.5 302.9 647.8 310.7 650.1 310.7 648.5 317.6 650.9 317.6 649.1 320.0 651.8 320.0 646.3 340.5 650.6 340.5 645.1 352.2 649.4 352.2 648.0 355.5 645.2 358.5 641.0 361.2 635.4 363.6 628.4 365.7 620.0 367.5 610.2 369.0 599.0 370.2 586.4 371.1 572.4 371.7 557.0 372.0 655.4 372.0 655.4 374.1" stroke="#bcbd22"/>
<path d="M88.5 44.8 91.2 44.9 93.7 45.0 96.3 45.0 98.9 45.1 101.3 45.1 103.8 45.1 106.2 45.1 108.6 45.1 110.9 45.1 113.3 45.1 115.8 45.2 118.3 45.4 120.8 45.5 123.1 45.5 125.3 45.5 127.7 45.6 130.1 45.8 132.4 45.9 134.7 46.0 137.0 46.1 139.1 46.1 141.8 46.0 144.0 46.1 146.2 46.2 148.6 46.1 150.9 46.2 153.5 46.3 156.1 46.4 158.6 46.4 161.0 46.3 163.5 46.3 165.7 46.5 167.8 46.2 170.4 46.4 172.7 46.3 174.9 46.6 177.0 46.7 179.1 46.6 181.4 46.5 183.6 46.9 185.9 46.9 188.4 47.1 190.8 47.3 193.2 47.5 195.5 47.5 197.5 47.4 199.8 47.0 202.0 47.1 204.7 47.3 207.2 47.2 209.7 47.2 211.9 47.3 214.4 47.3 216.8 47.8 219.1 48.0 221.6 48.1 224.0 48.2 226.4 48.1 228.5 48.4 230.7 48.6 233.1 48.7 235.3 48.6 237.4 48.3 239.6 48.3 241.9 48.3 243.9 48.5 246.3 48.7 248.3 49.0 250.5 49.1 252.6 49.4 254.6 49.2 256.8 49.2 259.3 49.3 261.4 49.3 263.6 49.4 265.8 49.7 268.3 49.8 270.6 49.7 272.8 50.0 275.1 50.4 277.3 50.2 279.6 50.2 281.8 50.1 284.2 50.2 286.3 49.9 288.3 50.1 290.4 50.3 292.6 50.4 294.6 50.7 296.7 50.9 298.8 50.9 300.9 50.8 302.9 51.0 305.2 50.9 307.7 50.9 309.7 51.3 311.6 51.0 313.7 51.1 315.7 51.6 317.5 52.1 319.6 51.8 321.8 52.0 324.1 52.0 326.4 52.1 328.4 52.3 330.7 52.3 332.7 52.4 335.0 52.5 337.2 52.6 339.2 52.8 341.4 52.7 343.4 53.0 345.6 53.2 348.0 53.1 350.0 53.4 352.2 53.5 354.5 53.5 356.7 53.7 358.8 53.9 361.2 54.0 363.4 54.2 365.7 54.2 367.8 54.4 370.0 54.3 372.1 54.5 374.2 54.8 376.4 55.3 378.6 55.4 380.7 55.8 382.9 55.7 385.2 55.9 387.0 56.4 389.1 56.2 391.1 56.5 393.3 56.4 395.4 56.2 397.8 56.3 399.4 56.3 399.4 57.0 401.4 57.3 403.4 57.0 405.0 57.0 405.0 57.8 407.2 58.0 409.2 57.7 411.6 57.8 413.3 57.8 413.3 58.5 415.4 58.7 417.1 59.2 419.2 59.6 420.7 59.6 420.7 60.3 422.7 59.8 424.8 60.1 427.1 60.3 429.4 60.2 431.6 60.3 433.3 60.3 433.3 60.9 435.5 61.0 437.8 61.4 439.7 61.9 441.9 61.8 443.9 61.2 445.9 61.4 447.7 61.9 449.7 62.4 451.3 62.4 451.3 63.2 452.9 63.2 452.9 64.0 455.1 64.2 457.1 63.9 459.3 63.9 461.3 63.5 463.0 64.0 465.0 63.7 467.2 63.9 468.5 63.9 468.5 65.2 470.2 65.2 470.2 65.8 472.0 66.4 473.7 66.4 473.7 67.0 475.6 67.3 477.6 67.6 479.8 67.3 481.6 66.7 483.1 66.7 483.1 67.5 484.8 68.0 486.2 68.0 486.2 69.0 488.4 69.0 490.4 68.7 492.1 68.7 492.1 69.5 493.7 68.8 495.4 69.3 497.6 69.1 499.0 69.1 499.0 70.0 501.0 70.5 502.6 70.5 502.6 71.2 504.0 71.2 504.0 72.2 505.9 72.6 508.1 72.8 509.7 72.8 509.7 73.7 511.9 73.6 514.0 73.2 515.9 73.5 517.5 73.5 517.5 74.2 519.1 74.2 519.1 75.3 520.9 75.3 520.9 76.0 522.8 76.5 524.9 76.0 525.9 76.0 525.9 77.4 527.2 77.4 527.2 78.4 529.4 78.5 530.3 78.5 530.3 80.3 531.6 80.3 531.6 81.2 533.4 81.7 535.4 82.1 537.4 81.3 539.3 81.8 541.1 81.0 543.1 81.3 545.0 81.7 547.2 81.5 548.3 81.5 548.3 82.8 550.1 82.8 550.1 83.7 551.6 83.7 551.6 84.6 553.2 84.6 553.2 85.3 555.2 85.7 557.4 85.3 558.2 85.3 558.2 86.9 559.8 87.5 560.9 87.5 560.9 88.8 562.8 88.8 562.8 89.4 564.8 89.7 567.0 89.6 568.6 89.6 568.6 90.3 569.7 90.3 569.7 91.6 571.2 91.6 571.2 92.3 572.8 91.6 574.8 91.9 576.8 92.4 577.9 92.4 577.9 93.6 579.8 93.3 581.3 93.3 581.3 94.3 583.0 94.8 584.5 94.8 584.5 95.6 585.6 95.6 585.6 96.8 586.7 96.8 586.7 98.1 588.6 98.6 590.4 98.1 591.5 98.1 591.5 99.5 592.0 99.5 592.0 101.2 593.7 100.4 594.6 100.4 594.6 102.0 595.7 102.0 595.7 103.2 597.4 103.7 598.8 103.7 598.8 104.8 600.5 105.4 602.5 105.0 604.1 105.0 604.1 105.9 605.7 105.9 605.7 106.6 606.4 106.6 606.4 108.3 608.0 108.3 608.0 109.2 609.0 109.2 609.0 110.4 610.5 110.4 610.5 111.4 611.4 111.4 611.4 112.8 612.7 112.8 612.7 113.9 614.3 113.9 614.3 114.7 615.4 114.7 615.4 115.9 616.0 115.9 616.0 117.6 617.7 117.1 619.3 117.1 619.3 117.9 620.0 117.9 620.0 119.6 621.5 119.6 621.5 120.5 622.7 120.5 622.7 121.9 623.3 121.9 623.3 123.6 625.1 124.1 626.1 124.1 626.1 125.4 627.3 125.4 627.3 126.6 626.8 126.6 626.8 128.9 627.2 128.9 627.2 130.8 628.6 130.8 628.6 131.8 629.2 131.8 629.2 133.4 630.8 133.4 630.8 134.2 631.8 134.2 631.8 135.7 632.5 135.7 632.5 137.5 633.1 137.5 633.1 139.4 634.4 139.4 634.4 140.5 635.0 140.5 635.0 142.3 635.2 142.3 635.2 144.6 635.9 144.6 635.9 146.3 636.8 146.3 636.8 147.8 638.3 147.8 638.3 148.7 639.0 148.7 639.0 150.4 640.4 150.4 640.4 151.4 640.7 151.4 640.7 153.4 640.2 153.4 640.2 155.4 639.5 155.4 639.5 157.5 640.0 157.5 640.0 159.3 640.4 159.3 640.4 161.2 641.0 161.2 641.0 162.8 640.6 162.8 640.6 164.9 641.8 164.9 641.8 166.0 642.2 166.0 642.2 167.8 641.7 167.8 641.7 169.6 641.4 169.6 641.4 172.0 641.0 172.0 641.0 174.2 640.3 174.2 640.3 175.6 639.7 175.6 639.7 177.4 641.3 177.4 641.3 178.1 642.3 178.1 642.3 179.3 643.9 179.3 643.9 183.3 644.0 183.3 644.0 187.0 644.2 187.0 644.2 190.7 645.0 190.7 645.0 195.4 644.6 201.3 646.9 201.3 644.4 209.3 647.0 209.3 645.6 218.1 648.9 218.1 647.9 226.6 649.0 226.6 647.9 232.7 651.3 232.7 647.8 237.6 649.5 237.6 648.0 241.8 651.0 241.8 648.6 247.0 650.7 247.0 650.5 255.5 652.2 255.5 650.9 259.9 652.6 259.9 648.8 267.6 651.7 267.6 650.7 274.3 652.5 274.3 650.7 282.4 652.4 282.4 652.7 289.2 653.7 289.2 651.0 296.9 653.2 296.9 652.6 300.0 653.7 300.0 650.6 319.7 653.7 319.7 649.5 334.8 653.4 334.8 650.0 341.0 655.4 341.0 655.4 374.1" stroke="#dbdb8d"/>
<path d="M88.5 44.8 91.1 44.8 93.7 44.9 96.2 44.9 98.7 45.0 101.3 45.0 103.7 45.0 106.2 45.1 108.7 45.2 111.2 45.3 113.6 45.3 115.9 45.3 118.1 45.2 120.4 45.2 122.8 45.3 125.1 45.3 127.2 45.2 129.3 45.1 131.7 45.3 134.0 45.4 136.6 45.3 139.0 45.5 141.3 45.6 143.9 45.6 146.1 45.7 148.7 45.6 151.2 45.6 153.5 45.9 156.2 45.9 158.7 46.0 161.0 46.3 163.6 46.4 166.0 46.3 168.3 46.2 170.7 46.2 173.1 46.2 175.6 46.3 177.7 46.6 180.2 46.7 182.6 46.8 184.9 46.9 187.0 46.6 189.2 46.6 191.6 46.8 193.8 46.7 196.1 46.8 198.5 47.0 201.1 47.0 203.6 46.9 205.9 47.2 208.1 47.2 210.4 47.0 212.7 46.8 215.0 46.6 217.2 46.8 219.8 46.9 222.1 47.3 224.4 47.2 226.6 47.5 228.8 47.3 231.2 47.3 233.2 47.4 235.5 47.4 237.8 47.5 240.0 47.4 242.2 47.7 244.3 47.5 246.6 47.7 248.9 47.9 250.9 48.1 253.4 48.1 256.1 48.3 258.3 48.4 260.5 48.5 262.8 48.3 264.7 48.6 266.9 48.3 269.2 48.6 271.6 48.7 273.8 48.9 276.1 48.9 278.4 48.8 280.5 49.0 282.7 48.8 285.0 49.0 287.2 48.8 289.2 49.0 291.3 48.7 293.5 48.7 295.5 49.0 297.8 49.1 299.9 49.0 302.1 49.2 303.9 49.6 305.9 49.9 307.9 49.6 310.0 49.7 312.2 50.0 314.4 50.1 316.8 50.2 318.9 50.3 321.2 50.3 323.4 50.7 325.8 50.9 327.9 50.4 330.1 50.5 332.0 50.9 334.2 50.9 336.4 50.8 338.7 50.8 340.7 51.1 342.7 51.3 344.7 51.6 346.9 51.7 349.0 51.6 351.2 51.7 353.2 52.2 355.5 52.0 358.0 52.2 359.9 52.4 362.2 52.5 364.6 52.5 366.4 52.0 368.3 51.5 370.1 51.5 370.1 52.2 372.4 52.2 374.3 52.6 376.3 52.8 378.2 53.1 380.3 53.4 382.4 53.7 384.5 53.5 386.7 53.4 388.9 53.6 391.1 53.4 393.3 53.3 395.1 53.3 395.1 53.9 396.9 54.5 399.1 54.6 401.3 54.8 403.1 54.4 405.5 54.3 407.6 54.0 409.6 54.5 411.8 54.9 413.9 55.1 415.8 55.4 417.5 55.9 419.7 56.1 421.7 55.8 424.0 55.8 426.3 55.9 428.4 56.1 430.3 56.6 432.6 56.4 434.5 56.8 436.6 57.1 438.4 57.5 440.1 57.5 440.1 58.2 442.1 57.9 444.4 58.1 446.1 57.5 447.8 57.5 447.8 58.4 449.5 57.9 451.8 57.8 453.8 58.1 455.4 58.1 455.4 58.9 457.5 59.1 459.7 59.4 461.3 59.4 461.3 60.1 463.5 60.1 465.8 60.2 467.5 60.7 469.8 60.7 471.8 61.3 473.0 61.3 473.0 62.3 475.3 62.7 477.0 63.2 479.0 62.7 480.8 63.2 483.0 63.3 484.6 62.5 486.4 62.5 486.4 63.3 488.1 63.7 490.0 64.3 492.0 64.3 492.0 65.1 492.9 65.1 492.9 66.4 494.6 66.4 494.6 67.2 496.8 67.2 498.2 67.2 498.2 68.0 500.5 68.0 502.4 68.4 504.4 68.7 506.2 68.7 506.2 69.4 508.5 69.4 509.9 69.4 509.9 70.2 511.3 70.2 511.3 71.1 512.9 71.1 512.9 71.8 514.5 71.8 514.5 72.8 516.6 73.2 518.3 73.8 520.2 74.3 521.4 74.3 521.4 75.8 523.2 75.8 523.2 76.8 525.2 76.8 525.2 77.4 527.2 77.7 529.1 78.1 531.3 78.2 532.6 78.2 532.6 79.1 534.6 79.3 536.1 79.3 536.1 80.3 537.4 80.3 537.4 81.4 538.3 81.4 538.3 82.8 539.6 82.8 539.6 83.7 541.1 83.7 541.1 84.5 542.7 84.5 542.7 85.1 544.8 85.0 545.9 85.0 545.9 86.3 547.5 86.3 547.5 87.0 549.0 87.0 549.0 87.9 549.8 87.9 549.8 89.4 551.3 89.4 551.3 90.3 553.6 90.2 555.3 90.2 555.3 91.2 556.5 91.2 556.5 92.3 558.2 91.9 559.6 91.9 559.6 93.0 561.6 93.3 562.7 93.3 562.7 94.6 563.7 94.6 563.7 95.9 564.3 95.9 564.3 97.6 565.2 97.6 565.2 99.2 566.6 99.2 566.6 100.2 568.4 100.2 568.4 100.9 569.7 100.9 569.7 102.0 571.4 102.0 571.4 102.8 573.3 103.2 574.8 103.2 574.8 104.1 575.3 104.1 575.3 105.8 576.7 105.8 576.7 106.7 578.0 106.7 578.0 107.9 579.9 108.3 581.1 108.3 581.1 109.6 581.7 109.6 581.7 111.6 582.7 111.6 582.7 113.1 584.7 113.5 585.5 113.5 585.5 114.9 587.4 115.4 588.6 115.4 588.6 116.6 590.6 116.9 591.9 116.9 591.9 117.9 593.9 118.3 595.2 118.3 595.2 119.2 596.5 119.2 596.5 120.4 597.3 120.4 597.3 121.7 598.2 121.7 598.2 123.3 599.6 123.3 599.6 124.3 600.8 124.3 600.8 125.4 601.7 125.4 601.7 127.1 602.7 127.1 602.7 128.5 604.2 128.5 604.2 129.2 605.4 129.2 605.4 130.4 606.7 130.4 606.7 131.3 608.1 131.3 608.1 132.2 609.0 132.2 609.0 133.8 610.2 133.8 610.2 134.9 611.2 134.9 611.2 136.3 611.7 136.3 611.7 138.2 612.2 138.2 612.2 140.2 613.2 140.2 613.2 141.5 613.8 141.5 613.8 143.3 615.0 143.3 615.0 144.4 617.1 144.7 617.8 144.7 617.8 146.4 618.6 146.4 618.6 147.9 619.3 147.9 619.3 149.6 619.5 149.6 619.5 151.7 620.4 151.7 620.4 153.1 621.6 153.1 621.6 154.1 622.8 154.1 622.8 155.1 623.3 155.1 623.3 156.9 623.6 156.9 623.6 158.9 624.3 158.9 624.3 160.4 624.6 160.4 624.6 162.3 625.6 162.3 625.6 163.6 625.3 163.6 625.3 166.0 626.6 166.0 626.6 167.2 628.2 167.2 628.2 168.1 628.0 168.1 628.0 170.4 628.9 170.4 628.9 172.0 628.8 172.0 628.8 174.3 629.0 174.3 629.0 176.5 629.2 176.5 629.2 178.6 629.6 178.6 629.6 181.8 631.0 181.8 631.0 184.7 632.3 184.7 632.3 189.6 633.0 189.6 633.0 192.6 633.8 192.6 633.8 197.3 632.8 203.6 634.8 203.6 634.3 208.4 636.5 208.4 634.5 215.3 637.8 215.3 636.7 222.6 637.9 222.6 637.6 231.2 640.0 231.2 636.8 236.6 639.8 236.6 637.0 242.9 639.4 242.9 638.5 249.7 640.4 249.7 638.6 258.0 640.5 258.0 638.3 266.5 641.5 266.5 638.7 273.7 641.4 273.7 642.2 280.0 643.6 280.0 641.3 284.3 643.0 284.3 641.6 292.6 644.5 292.6 642.8 298.8 645.3 298.8 641.8 309.9 645.2 309.9 640.7 328.3 644.5 328.3 640.2 349.4 642.8 349.4 638.0 361.0 655.4 361.0 655.4 374.1" stroke="#17becf"/>
<path d="M88.8 45.0 91.4 45.1 94.0 45.2 96.6 45.2 99.2 45.3 101.8 45.4 104.3 45.5 106.8 45.6 109.2 45.6 111.7 45.7 114.0 45.6 116.4 45.7 118.8 45.8 121.2 45.9 123.7 46.1 125.9 46.0 128.0 45.9 130.3 45.9 132.5 46.0 135.0 46.2 137.2 46.2 139.1 46.6 141.9 46.7 144.1 46.8 146.3 46.8 148.5 46.9 150.6 47.0 153.2 47.0 155.8 47.0 158.3 47.0 160.9 47.1 163.3 47.1 165.9 47.2 168.3 47.2 170.9 47.4 173.4 47.4 175.9 47.6 178.4 47.7 180.9 47.9 183.3 48.0 185.7 48.1 187.9 48.1 190.1 48.0 192.3 48.0 194.5 48.0 196.8 48.0 199.0 48.1 201.3 48.2 203.6 48.4 205.9 48.5 208.4 48.6 210.7 48.7 213.0 49.1 215.2 49.2 217.7 49.2 219.8 49.4 222.2 49.3 224.6 49.3 226.9 49.3 229.5 49.5 231.6 49.8 233.7 50.0 236.1 50.0 238.1 50.2 240.4 50.2 242.6 50.2 244.9 50.4 247.2 50.4 249.5 50.6 251.8 50.8 254.1 51.0 256.5 50.8 258.7 51.0 260.9 51.1 263.3 51.0 265.6 51.3 267.8 51.6 270.0 51.8 272.4 51.9 274.5 52.0 276.7 52.3 279.1 52.4 281.3 52.8 283.5 52.8 285.8 52.7 288.1 52.8 290.4 52.9 292.6 53.0 294.7 52.9 296.8 53.3 299.2 53.6 301.1 53.8 303.4 54.1 305.4 54.4 307.8 54.4 310.2 54.4 312.1 54.8 314.5 54.8 316.6 55.0 318.9 54.9 321.1 55.2 323.4 55.3 325.5 55.5 327.6 55.9 329.9 56.0 332.2 56.0 334.1 56.6 336.1 56.8 338.1 57.0 340.4 57.2 342.8 57.2 344.8 57.6 347.2 57.7 349.6 57.7 351.6 58.1 353.8 58.3 355.9 58.5 358.0 58.6 360.2 58.9 362.5 59.1 364.6 59.3 366.5 59.7 368.6 59.9 370.7 60.1 372.8 60.4 374.9 60.3 377.0 60.6 378.9 60.6 378.9 61.2 381.1 61.4 383.3 61.3 385.3 61.7 387.3 62.0 389.7 62.1 391.3 62.1 391.3 62.8 393.3 63.1 395.5 63.3 397.5 63.3 397.5 63.9 399.6 64.1 401.9 64.2 404.0 64.4 406.1 64.5 408.3 64.8 410.0 65.3 411.8 65.8 413.7 66.1 415.4 66.1 415.4 66.8 417.5 67.0 419.7 67.0 421.7 67.3 423.8 67.8 426.0 67.8 428.3 68.0 430.1 68.0 430.1 68.7 431.7 68.7 431.7 69.5 433.7 69.8 435.5 70.2 437.7 70.4 439.9 70.5 441.6 71.0 443.6 71.4 445.2 71.4 445.2 72.1 446.9 72.6 448.6 72.6 448.6 73.3 450.6 73.8 452.7 74.0 454.6 74.3 457.0 74.4 458.7 74.4 458.7 75.2 461.0 75.1 463.3 75.1 465.0 75.1 465.0 75.8 466.5 75.8 466.5 76.6 468.6 76.5 470.4 77.0 472.1 77.5 473.5 77.5 473.5 78.4 475.2 78.4 475.2 79.1 476.8 79.1 476.8 80.0 478.8 80.5 480.7 80.9 482.8 80.6 484.8 80.9 486.4 80.9 486.4 81.9 488.2 82.3 490.0 82.3 490.0 83.1 491.8 83.6 493.8 84.0 495.1 84.0 495.1 85.0 497.2 85.3 499.0 85.8 500.4 85.8 500.4 86.9 502.4 86.9 502.4 87.6 503.9 87.6 503.9 88.4 505.6 88.4 505.6 89.4 507.1 89.4 507.1 90.3 508.8 90.3 508.8 91.0 510.8 91.4 513.0 91.6 515.3 91.7 516.7 91.7 516.7 92.6 518.7 93.0 519.9 93.0 519.9 94.2 521.6 94.7 523.3 94.7 523.3 95.3 525.1 95.8 526.4 95.8 526.4 96.9 528.2 97.4 529.3 97.4 529.3 98.7 530.9 98.7 530.9 99.4 533.3 99.3 534.4 99.3 534.4 100.5 536.1 100.5 536.1 101.1 538.1 100.8 539.3 100.8 539.3 102.0 541.0 102.6 542.7 102.6 542.7 103.4 544.4 103.4 544.4 104.0 545.8 104.0 545.8 104.9 547.2 104.9 547.2 105.7 548.5 105.7 548.5 106.6 550.5 106.9 551.8 106.9 551.8 108.0 553.8 107.8 555.6 108.3 556.9 108.3 556.9 109.2 558.6 109.2 558.6 109.8 559.9 109.8 559.9 110.9 561.3 110.9 561.3 111.8 561.7 111.8 561.7 113.7 563.0 113.7 563.0 114.6 564.7 114.6 564.7 115.3 566.2 115.3 566.2 116.1 567.0 116.1 567.0 117.6 567.8 117.6 567.8 119.1 569.5 119.1 569.5 119.8 570.7 119.8 570.7 120.8 572.3 120.8 572.3 121.6 572.9 121.6 572.9 123.3 574.3 123.3 574.3 124.4 575.7 124.4 575.7 125.6 576.8 125.6 576.8 126.7 578.0 126.7 578.0 127.8 579.1 127.8 579.1 129.0 580.8 129.0 580.8 129.6 582.0 129.6 582.0 130.6 582.8 130.6 582.8 132.1 584.9 132.5 585.9 132.5 585.9 133.8 587.8 134.4 588.5 134.4 588.5 136.2 589.4 136.2 589.4 137.5 590.7 137.5 590.7 138.8 591.9 138.8 591.9 140.1 592.6 140.1 592.6 141.7 594.0 141.7 594.0 142.7 595.0 142.7 595.0 143.9 595.8 143.9 595.8 145.4 596.7 145.4 596.7 146.8 597.9 146.8 597.9 148.0 599.6 148.0 599.6 148.7 600.8 148.7 600.8 149.9 602.2 149.9 602.2 150.9 603.4 150.9 603.4 152.1 604.6 152.1 604.6 153.3 605.3 153.3 605.3 154.9 605.8 154.9 605.8 156.5 607.1 156.5 607.1 157.6 607.3 157.6 607.3 159.7 610.9 159.7 610.9 164.4 614.6 164.4 614.6 168.4 615.5 168.4 615.5 173.4 615.8 173.4 615.8 176.5 618.7 176.5 618.7 181.1 621.0 181.1 621.0 184.9 621.5 184.9 621.5 189.2 623.5 189.2 623.5 193.1 623.7 193.1 623.7 195.7 625.7 200.6 627.3 200.6 625.4 209.4 627.1 209.4 628.5 216.0 630.0 216.0 628.8 224.7 630.0 224.7 629.3 229.5 631.3 229.5 630.7 234.7 633.1 234.7 633.8 242.2 635.5 242.2 636.3 247.7 637.6 247.7 637.3 254.3 639.8 254.3 640.4 261.8 642.6 261.8 643.0 267.2 644.3 267.2 643.9 271.8 645.4 271.8 644.4 279.4 645.7 279.4 646.0 284.7 647.4 284.7 646.5 293.0 648.0 293.0 647.1 299.4 649.0 299.4 646.9 308.3 648.4 308.3 648.1 315.0 649.9 315.0 645.9 327.9 649.0 327.9 643.5 342.3 648.0 342.3 633.0 358.0 655.4 358.0 655.4 374.1" stroke="#e6b03c"/>
<path d="M88.5 44.8 91.1 44.9 93.7 44.9 96.3 45.0 98.8 45.0 101.4 45.1 103.9 45.2 106.4 45.3 108.9 45.3 111.3 45.4 113.9 45.6 116.1 45.5 118.4 45.5 120.6 45.4 123.1 45.6 125.2 45.5 127.4 45.4 129.4 45.6 131.5 45.6 133.9 45.7 136.5 45.6 139.1 45.5 141.4 45.7 144.0 45.7 146.4 45.9 148.6 46.0 150.9 45.8 153.2 46.0 155.8 46.1 158.5 46.2 160.7 46.4 162.8 46.6 165.2 46.5 167.4 46.7 169.5 46.9 171.9 46.9 174.1 46.8 176.4 46.7 178.8 46.7 181.0 46.6 183.0 46.3 185.3 46.3 187.7 46.5 190.0 46.5 192.5 46.7 194.6 46.7 196.9 46.7 199.3 47.0 201.7 47.3 204.3 47.2 206.8 47.3 209.0 47.4 211.4 47.2 213.6 47.3 216.0 47.3 218.2 47.4 220.6 47.4 223.1 47.6 225.2 47.7 227.5 47.7 229.9 47.7 232.2 47.6 234.3 47.4 236.6 47.4 238.9 47.4 241.0 47.7 243.3 47.8 245.3 48.0 247.7 48.2 249.8 48.1 252.4 48.2 254.9 48.1 257.3 48.1 259.9 48.2 262.3 48.1 264.7 48.1 267.2 48.1 269.5 48.1 271.7 48.3 273.8 48.5 276.2 48.5 278.5 48.4 280.4 48.8 282.4 49.0 284.7 49.0 287.1 49.2 289.2 49.4 291.3 49.3 293.6 49.5 295.9 49.7 298.0 49.5 300.1 49.3 302.1 49.1 304.6 49.2 307.0 49.1 309.2 49.3 311.6 49.2 313.9 49.2 316.2 49.6 318.3 49.7 320.7 49.8 323.1 50.0 325.4 50.0 327.3 50.4 329.3 50.6 331.7 50.8 333.8 50.5 336.0 50.5 338.0 50.7 340.4 51.0 342.6 51.2 344.9 51.3 346.8 50.9 349.3 50.9 351.3 50.7 353.5 50.9 355.7 51.0 357.5 51.6 359.7 51.8 362.0 51.8 363.8 51.8 363.8 52.5 366.1 52.6 368.1 53.0 369.9 52.3 371.9 52.4 374.2 52.5 376.6 52.7 378.9 53.0 381.2 53.0 383.2 53.3 385.1 53.8 387.3 53.7 389.5 53.8 391.8 54.1 393.6 54.6 395.4 55.0 397.5 54.8 399.3 54.2 401.4 54.3 403.6 54.6 405.8 54.5 407.7 54.9 409.7 55.4 411.9 55.6 413.8 56.1 416.0 56.3 418.1 56.5 420.0 56.9 421.7 57.4 423.6 57.8 425.7 58.2 427.7 58.0 430.0 57.7 432.3 57.8 434.4 57.9 436.6 57.8 438.7 58.0 440.5 58.4 442.4 58.4 442.4 59.1 444.6 59.2 446.5 59.7 448.5 60.3 450.5 60.6 452.6 60.9 454.8 61.0 456.6 61.5 458.6 61.7 460.8 61.5 463.1 61.4 465.3 61.3 467.5 61.6 469.3 61.6 469.3 62.5 471.2 62.9 473.0 63.4 475.0 63.1 477.0 63.1 477.0 63.8 478.7 64.4 480.9 64.3 482.9 64.7 485.1 64.9 486.8 64.9 486.8 65.6 488.5 65.6 488.5 66.4 490.5 66.0 492.5 66.4 493.9 66.4 493.9 67.2 495.3 67.2 495.3 68.1 497.3 68.5 499.2 68.8 501.1 68.8 501.1 69.5 503.2 69.2 505.1 69.7 507.3 69.5 509.3 69.9 511.4 69.9 511.4 70.5 512.8 70.5 512.8 71.4 514.4 72.0 516.1 72.0 516.1 72.7 518.3 72.9 520.5 72.9 521.9 72.9 521.9 73.8 523.2 73.8 523.2 74.9 524.5 74.9 524.5 75.9 526.1 75.9 526.1 76.8 527.7 76.8 527.7 77.6 530.0 77.4 531.9 77.8 533.8 78.4 535.4 78.4 535.4 79.0 537.3 79.4 539.0 79.9 540.9 80.3 542.1 80.3 542.1 81.6 543.6 81.6 543.6 82.6 544.8 82.6 544.8 83.6 546.8 84.0 548.3 84.0 548.3 84.9 549.8 84.9 549.8 85.7 551.8 85.5 553.2 84.6 554.4 84.6 554.4 85.8 555.9 85.8 555.9 86.7 557.4 86.7 557.4 87.7 558.9 87.7 558.9 88.5 560.2 88.5 560.2 89.5 562.0 90.1 563.7 90.6 565.2 90.6 565.2 91.4 567.4 91.8 568.1 91.8 568.1 93.5 569.6 93.5 569.6 94.4 571.0 94.4 571.0 95.4 572.1 95.4 572.1 96.5 573.7 96.5 573.7 97.3 575.0 97.3 575.0 98.5 576.7 97.9 577.8 97.9 577.8 99.2 579.2 99.2 579.2 100.1 579.7 100.1 579.7 102.0 581.1 102.0 581.1 103.0 583.1 103.2 584.1 103.2 584.1 104.5 585.0 104.5 585.0 106.1 587.2 106.1 589.2 106.5 590.6 106.5 590.6 107.4 591.8 107.4 591.8 108.7 593.5 108.7 593.5 109.4 594.9 109.4 594.9 110.3 595.9 110.3 595.9 111.6 596.9 111.6 596.9 112.7 597.6 112.7 597.6 114.4 599.4 114.4 599.4 115.1 601.0 115.1 601.0 115.7 602.6 115.7 602.6 116.4 603.9 116.4 603.9 117.5 605.1 117.5 605.1 118.9 606.7 118.9 606.7 119.5 606.7 119.5 606.7 121.7 608.1 121.7 608.1 122.7 609.2 122.7 609.2 124.0 611.1 124.0 611.1 124.7 612.4 124.7 612.4 125.8 613.7 125.8 613.7 126.8 614.4 126.8 614.4 128.3 614.9 128.3 614.9 130.1 616.3 130.1 616.3 131.1 617.3 131.1 617.3 132.5 618.1 132.5 618.1 134.2 619.4 134.2 619.4 135.2 619.9 135.2 619.9 137.2 620.9 137.2 620.9 138.6 622.8 138.9 623.9 138.9 623.9 140.3 624.1 140.3 624.1 142.5 625.3 142.5 625.3 143.6 625.2 143.6 625.2 145.9 626.4 145.9 626.4 147.1 626.8 147.1 626.8 149.0 627.7 149.0 627.7 150.4 628.3 150.4 628.3 152.2 629.2 152.2 629.2 153.6 630.4 153.6 630.4 154.8 630.5 154.8 630.5 156.9 631.8 156.9 631.8 157.9 631.6 157.9 631.6 160.1 632.9 160.1 632.9 161.0 632.8 161.0 632.8 163.1 632.9 163.1 632.9 165.3 632.9 165.3 632.9 167.7 633.3 167.7 633.3 169.7 634.0 169.7 634.0 171.5 633.6 171.5 633.6 173.6 633.6 173.6 633.6 176.0 634.7 176.0 634.7 177.3 635.2 177.3 635.2 179.2 636.3 179.2 636.3 182.1 637.9 182.1 637.9 185.2 637.6 185.2 637.6 188.1 637.2 188.1 637.2 191.4 637.6 191.4 637.6 194.8 638.6 194.8 638.6 198.3 638.0 203.8 640.5 203.8 639.4 211.3 641.0 211.3 640.6 216.6 643.0 216.6 640.0 223.0 642.7 223.0 643.2 227.7 644.3 227.7 642.0 233.7 644.4 233.7 643.9 242.3 646.7 242.3 645.2 246.3 646.7 246.3 645.5 253.3 648.5 253.3 650.2 261.1 652.0 261.1 648.8 265.6 650.7 265.6 647.1 269.6 650.4 269.6 649.1 273.9 652.4 273.9 650.9 279.9 652.2 279.9 650.2 284.7 651.7 284.7 650.6 289.1 653.8 289.1 651.1 293.5 653.2 293.5 652.9 300.8 654.7 300.8 651.5 304.0 653.4 304.0 652.9 314.4 652.0 323.8 650.7 332.2 648.8 339.7 646.5 346.3 643.8 352.0 640.5 356.7 636.8 360.4 632.7 363.2 628.1 365.1 623.0 366.0 655.4 366.0 655.4 374.1" stroke="#9edae5"/>
<path d="M88.6 44.9 91.2 44.9 93.8 45.0 96.4 45.1 99.0 45.1 101.4 45.1 103.9 45.2 106.3 45.2 108.9 45.3 111.2 45.3 113.6 45.3 116.0 45.4 118.4 45.5 120.9 45.6 123.3 45.7 125.6 45.8 128.0 45.9 130.3 46.0 132.6 46.1 134.9 46.2 137.2 46.3 140.0 46.3 142.3 46.5 144.8 46.4 147.2 46.2 149.8 46.2 152.3 46.2 154.8 46.1 157.0 46.3 159.2 46.5 161.6 46.3 163.7 46.5 166.3 46.6 168.8 46.7 170.9 46.8 173.1 46.7 175.6 46.8 177.8 46.7 180.2 46.7 182.5 46.7 184.5 46.9 187.0 47.1 189.4 47.3 191.7 47.3 194.1 47.5 196.4 47.6 199.1 47.7 201.8 47.8 204.1 48.0 206.2 48.0 208.8 48.1 211.0 48.2 213.3 48.0 215.5 48.1 218.0 48.2 220.4 48.1 222.8 48.2 225.1 48.1 227.2 48.2 229.6 48.3 231.7 48.5 234.0 48.5 236.1 48.6 238.2 48.5 240.6 48.6 242.6 48.3 244.8 48.3 247.1 48.3 249.1 48.6 251.2 48.5 253.6 48.8 255.9 49.1 258.2 49.2 260.4 49.3 262.6 49.5 264.6 49.9 266.6 50.3 268.9 50.1 271.3 50.3 273.7 50.3 276.0 50.3 278.1 50.4 280.4 50.5 282.6 50.3 284.7 50.5 286.8 50.2 288.8 50.5 291.0 50.4 293.3 50.6 295.4 50.9 297.8 51.3 299.8 51.0 302.1 51.2 304.3 51.4 306.4 51.4 308.6 51.6 311.0 51.6 313.2 51.8 315.1 52.1 317.3 52.3 319.5 52.7 321.6 52.9 323.7 53.1 326.1 53.2 328.2 52.9 330.5 53.0 332.5 53.2 334.6 53.6 336.8 53.6 339.1 53.7 341.2 53.6 343.3 54.0 345.3 54.3 347.7 54.3 349.7 54.0 351.5 54.5 353.5 54.9 355.7 54.6 358.0 55.0 359.9 55.3 362.0 55.5 364.3 55.5 366.0 56.0 368.4 56.2 370.1 56.7 371.9 57.1 373.8 56.8 376.0 57.2 378.2 57.2 380.4 57.1 382.2 57.6 384.5 57.8 386.3 58.3 388.5 58.4 390.7 58.6 392.7 58.9 394.7 59.2 396.5 59.2 396.5 59.8 398.6 59.5 400.5 59.8 402.5 60.2 404.7 60.7 406.8 60.9 408.8 60.7 410.6 60.2 412.7 60.3 414.6 60.6 416.1 60.6 416.1 61.6 417.8 62.2 419.7 62.8 422.0 62.9 424.0 62.7 426.1 62.9 428.1 63.2 430.2 63.4 431.8 63.4 431.8 64.2 433.7 64.7 435.3 64.7 435.3 65.3 437.5 65.4 439.7 65.5 441.9 65.7 443.9 66.2 446.2 66.6 447.7 66.6 447.7 67.3 449.5 66.8 451.4 66.6 453.0 66.6 453.0 67.4 454.9 67.8 456.7 68.3 458.9 68.7 460.4 68.7 460.4 69.4 462.5 69.5 464.3 70.1 466.4 69.9 468.1 69.9 468.1 71.0 470.0 71.3 471.5 71.3 471.5 72.1 473.6 72.5 475.6 72.1 477.2 72.1 477.2 73.0 479.2 72.7 481.1 73.1 483.3 72.9 485.4 73.4 487.0 73.4 487.0 74.1 488.9 74.6 490.3 74.6 490.3 75.5 491.9 75.5 491.9 76.1 493.8 76.1 493.8 76.7 495.5 76.2 497.1 76.2 497.1 77.0 498.5 77.0 498.5 77.9 500.6 78.2 502.7 78.4 504.6 78.8 506.7 78.9 508.8 79.1 511.0 79.0 512.3 79.0 512.3 79.9 513.9 79.9 513.9 80.5 515.7 80.5 515.7 81.2 517.7 81.0 519.3 81.0 519.3 81.6 520.9 81.6 520.9 82.3 522.6 81.6 524.5 81.2 525.5 81.2 525.5 82.4 527.7 82.3 529.3 82.3 529.3 83.1 530.2 83.1 530.2 84.4 532.1 84.7 533.7 84.7 533.7 85.4 534.6 85.4 534.6 86.7 537.0 86.2 538.8 86.7 541.0 86.3 542.9 85.9 544.8 85.6 547.0 85.9 548.2 85.9 548.2 87.0 549.3 87.0 549.3 88.4 551.1 89.0 553.0 89.4 554.2 89.4 554.2 90.5 556.3 90.3 557.9 90.3 557.9 91.1 559.6 91.1 559.6 92.0 561.6 91.6 562.9 91.6 562.9 92.9 564.5 92.9 564.5 93.7 566.5 92.7 568.8 92.9 570.5 93.4 572.1 93.4 572.1 94.1 573.5 94.1 573.5 95.2 574.5 95.2 574.5 96.6 576.0 96.6 576.0 97.4 578.2 97.5 579.3 97.5 579.3 98.6 580.9 99.1 582.8 99.1 582.8 99.9 584.1 99.9 584.1 101.0 585.6 101.0 585.6 101.9 586.6 101.9 586.6 103.2 588.0 103.2 588.0 104.3 589.3 104.3 589.3 105.5 590.8 105.5 590.8 106.2 592.6 106.2 592.6 107.0 593.9 107.0 593.9 108.2 595.7 107.7 597.1 107.7 597.1 108.7 598.5 108.7 598.5 109.7 600.8 109.8 602.4 109.8 602.4 110.6 603.3 110.6 603.3 111.9 604.6 111.9 604.6 113.1 606.0 113.1 606.0 114.1 606.1 114.1 606.1 116.2 607.6 116.2 607.6 117.0 609.3 117.0 609.3 117.7 610.7 117.7 610.7 118.7 611.6 118.7 611.6 120.3 613.4 120.9 613.2 120.9 613.2 122.9 614.4 122.9 614.4 124.2 615.4 124.2 615.4 125.6 616.6 125.6 616.6 126.9 618.1 126.9 618.1 127.7 619.3 127.7 619.3 128.9 619.9 128.9 619.9 130.6 621.2 130.6 621.2 131.7 622.6 131.7 622.6 132.7 622.8 132.7 622.8 134.7 624.3 134.7 624.3 135.6 625.9 135.6 625.9 136.2 627.2 136.2 627.2 137.4 627.4 137.4 627.4 139.7 627.9 139.7 627.9 141.7 628.9 141.7 628.9 143.1 629.2 143.1 629.2 145.2 629.5 145.2 629.5 147.4 630.2 147.4 630.2 149.0 631.7 149.0 631.7 149.8 632.1 149.8 632.1 151.7 632.9 151.7 632.9 153.3 633.7 153.3 633.7 154.9 634.4 154.9 634.4 156.5 634.8 156.5 634.8 158.3 635.6 158.3 635.6 159.8 635.4 159.8 635.4 162.0 635.8 162.0 635.8 163.9 636.4 163.9 636.4 165.5 636.4 165.5 636.4 167.7 636.9 167.7 636.9 169.6 637.2 169.6 637.2 171.8 636.7 171.8 636.7 174.0 636.4 174.0 636.4 176.1 636.9 176.1 636.9 177.9 637.2 177.9 637.2 180.0 639.3 180.0 639.3 184.1 640.0 184.1 640.0 187.3 639.6 187.3 639.6 191.1 640.2 191.1 640.2 195.1 640.2 202.0 642.7 202.0 640.5 210.6 642.3 210.6 642.0 218.5 645.0 218.5 642.2 226.4 645.5 226.4 643.9 235.3 647.1 235.3 645.2 241.2 648.1 241.2 648.2 246.9 650.7 246.9 649.6 255.0 652.2 255.0 650.3 260.7 653.4 260.7 649.7 266.1 652.0 266.1 652.7 271.1 654.2 271.1 652.3 277.9 655.0 277.9 652.9 283.0 654.2 283.0 652.6 290.0 655.6 290.0 653.9 297.5 655.6 297.5 654.3 303.8 655.6 303.8 653.2 311.1 655.3 311.1 653.7 318.1 655.6 318.1 654.6 325.3 655.6 325.3 654.2 330.0 655.6 330.0 655.6 335.0 655.4 335.0 655.4 374.1" stroke="#3ed660"/>
<path d="M88.5 44.8 91.1 44.9 93.7 44.9 96.3 45.0 98.8 45.1 101.3 45.1 103.9 45.2 106.3 45.2 108.8 45.2 111.2 45.3 113.6 45.3 115.8 45.2 118.1 45.2 120.6 45.4 122.9 45.4 125.3 45.5 127.6 45.5 129.7 45.5 132.2 45.7 134.4 45.7 136.8 45.9 138.9 45.9 141.4 45.7 144.1 45.8 146.8 45.8 149.0 46.0 151.6 46.0 153.8 46.1 156.0 46.2 158.5 46.2 160.6 46.4 163.1 46.4 165.5 46.3 167.8 46.2 170.0 46.4 172.3 46.4 174.8 46.5 177.1 46.4 179.5 46.5 181.8 46.4 184.2 46.6 186.6 46.7 188.7 46.5 191.0 46.6 193.4 46.8 195.8 46.9 198.2 47.2 200.4 47.3 202.7 47.4 205.3 47.4 207.4 47.5 209.9 47.4 212.4 47.4 214.7 47.2 217.1 47.1 219.4 46.9 221.5 47.1 223.9 47.1 226.1 47.3 228.3 47.2 230.5 47.4 232.9 47.6 235.0 47.8 237.3 47.8 239.7 48.0 241.9 47.9 243.9 48.1 246.3 48.3 248.5 48.3 250.8 48.4 252.9 48.3 255.2 48.5 257.6 48.4 259.8 48.5 262.2 48.4 264.5 48.3 266.6 48.4 269.1 48.5 271.4 48.9 273.7 48.8 276.2 49.0 278.3 49.2 280.7 49.3 283.1 49.5 285.2 49.7 287.4 49.6 289.5 49.9 291.6 49.8 293.7 49.6 295.9 49.5 297.8 49.2 299.9 49.5 302.2 49.8 304.4 50.0 306.7 50.2 309.1 50.2 311.1 50.6 313.3 50.9 315.6 50.7 317.9 50.7 320.2 50.7 322.3 50.9 324.7 51.0 327.0 51.0 329.1 51.2 331.2 51.5 333.3 51.8 335.5 51.8 337.7 51.8 339.5 52.2 341.8 52.3 343.8 52.6 345.9 52.5 348.3 52.4 350.2 52.7 352.4 52.8 354.6 52.9 356.7 53.0 358.6 53.3 361.0 53.4 363.1 53.6 365.2 53.7 367.6 53.8 369.7 54.1 371.8 54.4 374.1 54.5 376.2 54.7 378.4 54.7 380.3 55.0 382.5 55.2 384.5 55.4 386.8 55.5 388.9 55.4 390.9 55.7 393.0 56.1 395.0 56.5 397.2 56.8 399.4 56.9 401.5 57.0 403.7 57.1 405.7 57.5 407.8 57.7 409.9 57.9 412.3 57.8 414.4 57.9 416.3 58.3 418.3 58.0 420.0 58.6 421.9 59.1 423.8 59.5 425.7 59.9 427.6 60.2 429.4 60.6 431.5 60.8 433.7 60.8 435.4 61.3 437.6 61.2 439.4 61.6 441.7 61.8 443.9 61.6 446.1 61.8 448.1 62.0 450.4 62.3 452.2 62.3 452.2 62.9 454.0 62.9 454.0 63.6 456.0 63.9 457.7 64.3 459.7 64.7 461.9 64.8 463.7 64.8 463.7 65.5 465.4 66.0 467.6 65.9 469.8 66.1 471.5 66.1 471.5 66.9 473.5 67.1 475.4 67.6 477.1 67.6 477.1 68.6 479.0 68.9 481.0 69.4 482.9 69.0 485.3 69.3 487.2 69.8 489.2 70.2 491.3 70.5 493.5 70.4 495.4 70.7 497.6 70.8 499.8 71.0 501.4 71.0 501.4 71.7 502.5 71.7 502.5 73.0 504.4 73.0 504.4 73.6 506.3 72.7 508.3 73.0 510.4 73.2 512.6 73.4 514.5 73.8 516.4 74.3 518.6 74.3 520.2 74.3 520.2 75.3 521.8 75.3 521.8 76.1 523.7 76.4 525.7 76.7 527.0 76.7 527.0 77.6 528.8 77.6 528.8 78.2 531.0 78.4 532.9 78.1 535.3 77.9 537.2 78.3 539.4 78.5 541.8 78.4 543.4 78.9 545.4 79.2 547.1 79.7 548.7 79.7 548.7 80.5 550.5 80.1 552.4 80.6 553.3 80.6 553.3 82.1 555.6 82.2 558.0 82.2 560.0 81.9 561.9 82.5 563.8 83.0 565.1 83.0 565.1 84.1 566.6 84.1 566.6 84.9 568.7 85.2 570.4 85.2 570.4 85.8 572.5 86.1 574.1 86.1 574.1 86.8 575.8 87.3 577.4 87.3 577.4 88.1 579.6 88.2 581.3 88.2 581.3 88.8 582.4 88.8 582.4 90.0 584.2 90.5 585.7 90.5 585.7 91.5 587.3 91.5 587.3 92.4 588.5 92.4 588.5 93.4 590.0 93.4 590.0 94.3 591.5 94.3 591.5 95.3 593.1 95.3 593.1 96.1 595.3 96.3 597.5 96.6 599.1 96.6 599.1 97.4 600.7 97.4 600.7 98.2 602.5 98.2 602.5 98.8 604.0 98.8 604.0 99.8 605.8 100.3 607.6 100.8 608.4 100.8 608.4 102.5 609.6 102.5 609.6 103.5 610.9 103.5 610.9 104.5 611.8 104.5 611.8 105.9 613.1 105.9 613.1 106.8 614.3 106.8 614.3 108.2 615.8 108.2 615.8 109.2 616.9 109.2 616.9 110.3 618.1 110.3 618.1 111.3 619.7 111.3 619.7 112.2 620.7 112.2 620.7 113.6 621.7 113.6 621.7 114.7 622.8 114.7 622.8 115.9 624.4 115.9 624.4 116.7 625.9 116.7 625.9 117.8 627.4 117.8 627.4 118.7 628.2 118.7 628.2 120.2 628.9 120.2 628.9 121.9 630.3 121.9 630.3 123.0 631.9 123.0 631.9 123.9 632.0 123.9 632.0 126.2 632.2 126.2 632.2 128.3 633.4 128.3 633.4 129.6 634.3 129.6 634.3 130.8 634.8 130.8 634.8 132.6 635.0 132.6 635.0 134.6 636.2 134.6 636.2 135.9 637.5 135.9 637.5 137.2 637.4 137.2 637.4 139.4 638.5 139.4 638.5 140.8 639.4 140.8 639.4 142.4 640.2 142.4 640.2 144.0 640.1 144.0 640.1 146.2 640.6 146.2 640.6 148.2 641.0 148.2 641.0 150.2 641.9 150.2 641.9 151.7 641.5 151.7 641.5 153.8 641.7 153.8 641.7 155.9 641.9 155.9 641.9 158.1 642.3 158.1 642.3 160.0 642.8 160.0 642.8 161.8 643.4 161.8 643.4 163.4 643.3 163.4 643.3 165.7 643.8 165.7 643.8 167.5 644.5 167.5 644.5 169.1 645.2 169.1 645.2 170.6 645.0 170.6 645.0 173.1 644.8 173.1 644.8 175.1 645.2 175.1 645.2 177.2 645.5 177.2 645.5 179.2 645.9 179.2 645.9 183.3 645.7 183.3 645.7 188.2 646.3 188.2 646.3 192.6 646.5 192.6 646.5 195.2 645.6 199.4 647.3 199.4 647.2 206.6 649.3 206.6 647.5 212.7 649.9 212.7 648.3 219.1 649.4 219.1 649.1 223.3 651.6 223.3 648.9 230.4 651.0 230.4 648.8 234.9 651.8 234.9 649.2 243.1 652.2 243.1 649.2 247.2 650.9 247.2 648.7 254.7 651.1 254.7 648.4 259.7 651.4 259.7 650.2 268.6 651.4 268.6 649.9 276.5 651.3 276.5 648.4 280.7 651.5 280.7 649.6 284.8 652.0 284.8 651.5 292.5 653.1 292.5 650.4 299.7 653.2 299.7 652.7 308.6 654.1 308.6 650.7 314.0 654.0 314.0 650.4 320.0 653.2 320.0 649.3 334.8 652.9 334.8 650.0 350.0 655.4 350.0 655.4 374.1" stroke="#a3d3e8"/>
<path d="M88.6 44.9 91.2 44.9 93.8 45.0 96.4 45.1 98.9 45.1 101.4 45.1 103.9 45.2 106.3 45.2 108.7 45.2 111.2 45.3 113.5 45.3 116.0 45.4 118.5 45.5 120.9 45.7 123.1 45.6 125.4 45.6 127.7 45.6 130.2 45.9 132.5 45.9 134.8 46.1 137.2 46.2 139.6 46.5 141.9 46.6 144.1 46.7 146.8 46.8 149.1 46.5 151.2 46.5 153.6 46.4 155.9 46.2 158.0 46.3 160.3 46.5 162.9 46.7 165.2 46.5 167.5 46.4 169.6 46.6 172.0 46.5 174.3 46.4 176.5 46.7 179.0 46.9 181.2 46.8 183.9 47.2 186.2 47.2 188.3 47.1 190.5 47.0 193.0 47.2 195.2 47.2 197.5 47.4 199.8 47.5 202.3 47.5 204.7 47.7 207.3 47.8 209.5 47.8 211.7 48.1 214.2 48.0 216.6 48.0 219.1 48.1 221.4 47.9 223.8 47.9 226.0 47.7 228.1 47.8 230.2 48.0 232.5 48.0 234.7 48.3 237.1 48.4 239.5 48.7 241.7 48.6 243.8 48.8 245.9 48.8 248.2 48.8 250.5 49.0 252.8 49.2 254.8 49.0 257.0 49.1 259.3 49.3 261.2 49.5 263.7 49.5 265.8 49.7 268.2 49.7 270.7 49.8 272.8 49.9 275.2 50.1 277.4 50.3 279.2 50.6 281.4 50.5 283.6 50.8 285.8 50.7 288.1 50.8 290.2 51.1 292.2 50.8 294.1 51.3 296.4 51.5 298.4 51.7 300.7 51.9 302.8 52.0 304.8 51.7 306.8 52.0 309.2 52.1 311.4 52.2 313.6 52.0 315.8 52.2 317.9 52.4 320.2 52.9 322.3 53.2 324.5 53.5 326.6 53.8 328.6 54.3 330.8 54.3 333.0 54.3 335.2 54.2 337.2 53.9 339.3 54.3 341.7 54.7 343.7 55.0 345.8 54.9 348.0 55.0 350.0 55.3 351.5 55.3 351.5 55.9 353.9 55.9 356.1 56.2 358.0 55.8 360.3 55.7 362.2 56.1 364.6 56.2 366.9 56.2 368.6 56.2 368.6 56.8 370.7 57.1 372.8 57.4 374.9 57.8 377.1 57.9 379.3 57.8 381.3 58.0 383.6 58.1 385.7 58.0 387.6 58.5 389.4 59.0 391.4 59.3 393.5 59.1 395.8 59.0 397.6 59.5 399.4 60.0 401.5 60.2 403.7 60.5 405.6 60.8 407.7 60.6 409.8 60.9 412.1 60.9 414.0 61.3 416.1 61.6 418.2 61.8 420.1 62.2 422.0 62.6 424.3 62.9 426.5 62.8 428.4 63.4 430.2 63.7 432.3 64.1 434.5 64.3 436.7 64.3 438.5 64.8 440.6 65.2 442.8 65.1 444.6 65.6 446.4 65.6 446.4 66.5 448.6 66.5 450.3 67.0 452.1 67.0 452.1 67.7 454.3 68.1 456.0 68.1 456.0 68.8 458.0 68.5 459.3 68.5 459.3 69.4 461.5 69.2 463.6 69.3 465.8 69.6 467.9 70.0 469.2 70.0 469.2 71.0 471.3 71.1 473.2 71.5 474.9 72.1 476.8 72.3 478.1 72.3 478.1 73.5 480.4 74.0 482.3 74.5 484.6 74.4 486.5 75.0 488.6 75.2 490.0 75.2 490.0 76.0 492.2 75.8 494.6 75.6 496.7 75.6 498.6 76.1 500.2 76.1 500.2 76.7 502.3 76.9 504.2 76.9 504.2 77.5 505.7 77.5 505.7 78.5 507.3 78.5 507.3 79.4 508.9 79.4 508.9 80.0 510.1 80.0 510.1 81.2 511.8 80.5 513.6 80.5 513.6 81.1 515.6 80.8 517.5 81.1 519.2 81.1 519.2 82.1 521.1 82.5 523.1 82.1 524.7 82.1 524.7 82.9 526.3 82.9 526.3 83.6 528.5 83.6 530.1 83.6 530.1 84.2 532.2 83.7 533.7 83.7 533.7 84.5 535.0 84.5 535.0 85.5 537.2 85.5 538.6 85.5 538.6 86.7 540.5 87.1 541.3 87.1 541.3 88.7 543.5 88.8 545.0 88.8 545.0 89.6 547.1 89.9 548.9 89.3 551.0 89.2 552.7 88.5 554.8 88.9 555.9 88.9 555.9 90.3 557.5 90.3 557.5 91.3 559.1 91.3 559.1 92.0 560.3 92.0 560.3 93.1 561.0 93.1 561.0 94.6 562.1 94.6 562.1 95.8 564.1 95.6 566.1 95.9 567.2 95.9 567.2 97.0 569.0 97.6 571.2 98.0 573.1 97.6 574.9 97.6 574.9 98.2 576.3 98.2 576.3 99.1 577.7 99.1 577.7 100.2 579.4 100.2 579.4 100.8 580.5 100.8 580.5 101.9 581.9 101.9 581.9 102.8 582.9 102.8 582.9 104.2 583.8 104.2 583.8 105.6 585.2 105.6 585.2 106.7 586.5 106.7 586.5 107.8 588.4 108.2 590.7 108.2 592.5 108.2 592.5 108.8 593.8 108.8 593.8 110.0 595.4 110.0 595.4 110.7 596.6 110.7 596.6 111.9 597.7 111.9 597.7 113.4 599.3 113.4 599.3 114.1 599.8 114.1 599.8 116.1 600.7 116.1 600.7 117.4 601.4 117.4 601.4 118.9 602.9 118.9 602.9 119.8 604.6 119.8 604.6 120.4 606.8 120.5 608.3 120.5 608.3 121.3 609.4 121.3 609.4 122.7 611.0 122.7 611.0 123.4 611.7 123.4 611.7 124.9 612.9 124.9 612.9 126.1 613.4 126.1 613.4 127.9 614.7 127.9 614.7 129.1 616.1 129.1 616.1 129.9 617.0 129.9 617.0 131.5 618.2 131.5 618.2 132.7 618.6 132.7 618.6 134.6 618.5 134.6 618.5 136.7 618.3 136.7 618.3 138.8 619.6 138.8 619.6 139.9 620.6 139.9 620.6 141.2 622.0 141.2 622.0 142.1 623.1 142.1 623.1 143.4 624.8 143.9 626.2 143.9 626.2 144.8 627.3 144.8 627.3 146.1 628.0 146.1 628.0 147.8 628.5 147.8 628.5 149.6 628.9 149.6 628.9 151.5 629.7 151.5 629.7 153.1 630.4 153.1 630.4 154.7 629.6 154.7 629.6 156.4 629.9 156.4 629.9 158.4 631.3 158.4 631.3 159.3 631.9 159.3 631.9 160.9 632.3 160.9 632.3 162.8 632.5 162.8 632.5 164.8 632.8 164.8 632.8 166.9 632.9 166.9 632.9 169.2 632.6 169.2 632.6 171.7 633.6 171.7 633.6 173.1 634.2 173.1 634.2 174.9 634.8 174.9 634.8 176.7 635.0 176.7 635.0 178.8 637.1 178.8 637.1 181.7 636.9 181.7 636.9 185.5 637.7 185.5 637.7 189.9 636.6 189.9 636.6 193.0 637.8 193.0 637.8 196.3 638.1 202.5 639.5 202.5 639.3 208.7 641.7 208.7 639.8 214.1 641.2 214.1 640.0 222.0 642.8 222.0 641.2 230.8 642.6 230.8 641.2 239.5 644.0 239.5 642.6 243.9 644.8 243.9 642.4 249.4 645.6 249.4 643.5 258.1 646.1 258.1 644.2 266.8 646.1 266.8 643.7 273.1 645.9 273.1 645.3 281.1 648.5 281.1 645.0 289.5 647.6 289.5 644.9 298.4 647.9 298.4 647.1 304.5 648.7 304.5 643.8 322.5 649.1 322.5 642.8 337.8 647.6 337.8 644.0 356.0 655.4 356.0 655.4 374.1" stroke="#e05a55"/>
<path d="M88.5 44.8 91.1 44.9 93.7 44.9 96.3 45.0 98.8 45.0 101.2 45.0 103.7 45.0 106.2 45.1 108.7 45.2 111.0 45.2 113.5 45.2 115.7 45.1 118.2 45.3 120.8 45.5 123.1 45.6 125.4 45.6 127.6 45.6 129.7 45.5 132.5 45.5 134.8 45.6 137.4 45.5 139.8 45.7 142.1 45.9 144.9 46.0 147.1 46.1 149.8 46.2 152.3 46.1 154.9 46.2 157.6 46.3 160.1 46.3 162.5 46.3 164.9 46.2 167.4 46.3 169.9 46.4 172.1 46.6 174.5 46.7 176.9 46.7 179.3 46.8 181.8 46.9 184.1 46.9 186.4 47.0 188.7 46.9 191.0 47.1 193.4 47.2 195.6 47.3 197.9 47.3 200.4 47.3 202.7 47.4 205.0 47.1 207.2 47.2 209.8 47.3 212.3 47.3 214.6 47.5 217.1 47.6 219.5 47.6 221.9 47.6 224.4 47.7 226.9 47.8 229.0 48.0 231.4 48.1 233.7 48.1 236.0 48.1 238.3 48.0 240.6 48.1 242.9 48.3 245.2 48.3 247.4 48.3 249.6 48.3 251.6 48.5 254.0 48.4 256.4 48.3 258.7 48.5 261.0 48.7 263.3 48.6 265.6 48.8 267.8 48.6 270.0 48.8 272.4 48.8 274.8 48.9 276.9 49.0 278.8 49.4 280.9 49.6 283.3 49.8 285.6 49.8 287.9 49.9 290.0 49.7 292.2 49.8 294.4 49.7 296.9 49.7 299.1 49.8 301.3 49.9 303.5 50.0 305.9 49.9 308.1 50.0 310.4 49.8 312.6 50.2 315.0 50.3 317.2 50.4 319.1 50.8 321.3 51.0 323.5 50.9 325.8 50.9 328.1 51.0 330.2 51.3 332.3 51.5 334.3 51.7 336.6 51.8 338.9 52.0 341.1 52.0 343.2 51.8 345.4 51.9 347.4 52.2 349.8 52.2 352.2 52.2 354.6 52.3 356.8 52.5 359.2 52.7 361.1 53.0 363.3 53.2 365.6 53.3 367.3 53.9 369.5 54.2 371.3 53.7 373.6 53.7 375.5 54.1 377.7 54.1 379.8 54.3 381.6 53.8 383.9 53.9 385.9 54.1 387.7 54.6 389.8 54.8 391.6 55.3 393.6 55.6 395.8 55.9 398.0 56.0 400.2 56.1 402.3 56.3 404.4 56.0 406.6 56.4 408.6 56.9 410.7 57.0 412.7 57.4 415.0 57.6 417.1 57.8 419.0 58.1 421.4 58.3 423.4 58.4 425.7 58.4 427.8 58.8 430.1 59.0 431.9 58.5 434.0 58.7 435.8 59.2 437.7 59.6 439.3 59.6 439.3 60.3 441.1 60.8 443.2 61.0 445.4 60.9 447.6 60.8 449.7 61.1 451.5 61.6 453.7 61.5 455.7 62.0 457.9 62.0 459.9 61.7 461.7 62.2 463.5 62.2 463.5 62.9 465.7 63.2 467.7 63.2 467.7 63.9 469.6 64.4 471.8 64.5 473.8 64.7 476.0 64.7 478.0 64.7 478.0 65.4 479.9 65.8 482.1 66.1 484.1 65.7 485.6 65.7 485.6 66.4 487.5 67.0 489.5 67.3 491.3 66.9 493.5 66.9 495.5 67.3 497.2 67.8 498.6 67.8 498.6 68.7 500.4 68.2 501.6 68.2 501.6 69.3 503.5 69.9 505.4 70.3 507.6 70.3 509.6 70.7 511.7 71.0 513.7 71.4 515.9 71.5 517.5 71.5 517.5 72.2 519.5 72.6 521.4 72.9 523.7 72.9 525.3 72.9 525.3 73.7 527.0 73.7 527.0 74.3 528.8 74.3 528.8 75.1 530.4 75.1 530.4 75.7 532.4 76.0 533.9 76.0 533.9 77.0 535.6 77.5 537.2 77.5 537.2 78.3 539.2 78.5 540.8 79.1 542.4 79.1 542.4 79.9 544.0 79.9 544.0 80.6 546.2 81.1 547.7 81.1 547.7 82.0 549.7 82.3 551.2 82.3 551.2 83.3 553.2 83.6 555.5 83.7 557.5 83.9 559.0 83.9 559.0 84.9 560.6 84.9 560.6 85.5 562.1 85.5 562.1 86.5 563.4 86.5 563.4 87.4 564.9 87.4 564.9 88.3 566.5 88.3 566.5 89.0 568.0 89.0 568.0 89.9 570.0 90.4 571.6 90.4 571.6 91.0 573.2 91.0 573.2 91.8 574.4 91.8 574.4 92.8 576.1 93.4 577.2 93.4 577.2 94.6 579.2 95.0 580.2 95.0 580.2 96.3 582.3 96.5 583.8 96.5 583.8 97.5 585.4 97.5 585.4 98.2 586.9 98.2 586.9 99.0 588.7 99.0 588.7 99.8 590.3 99.8 590.3 100.6 591.4 100.6 591.4 101.8 592.4 101.8 592.4 103.1 594.1 103.1 594.1 103.7 595.2 103.7 595.2 104.8 596.4 104.8 596.4 106.1 598.0 106.1 598.0 106.8 599.5 106.8 599.5 107.8 600.6 107.8 600.6 109.3 602.3 109.3 602.3 109.9 604.4 109.8 605.8 109.8 605.8 110.8 607.3 110.8 607.3 111.8 608.8 111.8 608.8 112.7 610.3 112.7 610.3 113.6 611.1 113.6 611.1 115.0 612.2 115.0 612.2 116.3 613.4 116.3 613.4 117.4 614.4 117.4 614.4 118.7 615.8 118.7 615.8 119.8 617.1 119.8 617.1 120.9 618.0 120.9 618.0 122.3 619.3 122.3 619.3 123.4 620.1 123.4 620.1 124.9 621.5 124.9 621.5 125.8 622.6 125.8 622.6 127.2 623.7 127.2 623.7 128.6 624.9 128.6 624.9 129.8 625.5 129.8 625.5 131.4 626.7 131.4 626.7 132.8 627.2 132.8 627.2 134.5 628.2 134.5 628.2 135.9 629.1 135.9 629.1 137.4 630.0 137.4 630.0 139.0 630.5 139.0 630.5 141.0 631.1 141.0 631.1 142.9 631.3 142.9 631.3 145.1 632.0 145.1 632.0 146.8 632.9 146.8 632.9 148.2 633.7 148.2 633.7 149.8 634.1 149.8 634.1 151.8 634.4 151.8 634.4 153.8 635.2 153.8 635.2 155.4 635.4 155.4 635.4 157.5 635.9 157.5 635.9 159.2 636.9 159.2 636.9 160.6 637.2 160.6 637.2 162.5 638.0 162.5 638.0 164.0 638.3 164.0 638.3 165.9 639.0 165.9 639.0 167.4 638.9 167.4 638.9 170.0 638.8 170.0 638.8 172.4 638.9 172.4 638.9 174.7 639.3 174.7 639.3 176.7 639.6 176.7 639.6 178.7 640.2 178.7 640.2 181.7 640.3 181.7 640.3 185.4 639.7 185.4 639.7 188.6 640.9 188.6 640.9 191.3 640.5 191.3 640.5 193.8 642.6 193.8 642.6 198.6 641.7 205.3 644.5 205.3 641.5 210.9 644.4 210.9 642.5 217.9 644.6 217.9 643.3 223.2 645.6 223.2 644.6 228.6 647.0 228.6 645.6 236.3 647.7 236.3 646.1 243.5 649.2 243.5 645.9 251.8 648.8 251.8 648.7 258.8 651.1 258.8 649.2 264.9 651.1 264.9 650.2 269.4 651.6 269.4 650.3 274.0 653.0 274.0 649.9 281.3 652.9 281.3 652.0 287.1 654.3 287.1 652.5 294.3 654.0 294.3 651.6 299.3 653.3 299.3 651.4 303.7 653.8 303.7 652.3 308.2 655.0 308.2 652.1 313.2 655.3 313.2 651.4 319.1 654.7 319.1 654.9 324.1 655.6 324.1 654.4 330.0 655.6 330.0 653.0 348.9 655.2 348.9 652.0 362.0 655.4 362.0 655.4 374.1" stroke="#a6d8e5"/>
<path d="M88.5 44.8 91.1 44.9 93.7 44.9 96.3 45.0 98.8 45.0 101.3 45.1 103.8 45.1 106.3 45.2 108.9 45.3 111.5 45.5 113.8 45.5 116.2 45.5 118.4 45.4 120.8 45.5 123.0 45.5 125.4 45.6 127.6 45.6 130.1 45.8 132.5 46.0 134.7 46.0 137.0 46.1 139.3 45.8 141.6 45.9 144.2 45.8 146.7 45.7 149.3 45.7 151.5 45.8 153.7 46.0 155.9 46.2 158.2 45.9 160.5 45.8 163.2 46.0 165.6 46.0 168.0 45.9 170.1 46.1 172.2 46.3 174.6 46.7 176.9 46.7 179.0 46.9 181.1 46.7 183.3 46.6 185.7 46.7 188.1 46.8 190.4 46.9 192.7 47.0 195.0 47.1 197.1 46.9 199.6 46.9 201.9 47.0 204.1 47.1 206.7 47.1 209.2 47.0 211.6 46.9 213.7 47.0 216.2 47.0 218.3 47.1 220.6 47.4 222.9 47.3 225.0 47.4 227.1 47.6 229.4 47.6 231.8 47.6 234.2 47.8 236.3 48.0 238.5 47.9 240.8 47.9 242.9 48.2 245.0 48.1 247.1 48.4 249.2 48.7 251.2 49.0 253.7 48.9 255.9 49.0 258.2 49.2 260.5 49.1 263.0 49.1 265.5 49.2 267.9 49.2 270.3 49.2 272.5 49.5 274.6 49.7 276.6 50.1 278.9 50.2 281.0 50.3 283.4 50.6 285.4 51.1 287.5 51.5 289.9 51.7 292.2 51.8 294.5 52.0 296.7 52.1 299.0 52.3 301.1 52.6 303.1 53.0 304.9 53.5 307.3 53.6 309.4 54.1 311.8 54.1 314.0 54.4 315.9 54.8 318.0 54.9 320.4 55.0 322.3 55.3 324.5 55.3 326.6 55.6 328.5 56.0 330.4 56.5 332.7 56.6 335.0 56.9 337.1 57.3 339.4 57.4 341.5 57.9 343.7 58.1 345.9 58.2 348.1 58.5 349.9 58.5 349.9 59.2 352.3 59.2 354.2 59.5 356.6 59.6 358.7 59.7 360.8 60.0 362.7 60.3 364.9 60.8 366.8 61.2 369.2 61.5 371.4 61.4 373.5 61.8 375.5 62.1 377.5 62.4 379.4 62.4 379.4 63.0 381.6 63.1 383.7 63.6 385.7 64.0 387.9 64.0 389.9 63.6 391.7 63.6 391.7 64.3 393.5 64.9 395.8 64.9 398.1 64.9 400.3 65.1 401.8 65.1 401.8 65.8 403.9 66.0 405.5 66.0 405.5 66.9 407.8 67.0 409.8 67.2 412.1 67.1 414.0 67.1 414.0 67.8 416.1 68.2 418.4 68.4 420.4 68.8 422.1 68.8 422.1 69.4 424.2 69.3 426.1 69.3 426.1 69.9 427.7 69.9 427.7 70.9 429.2 70.9 429.2 71.7 431.3 71.9 432.7 71.9 432.7 72.8 434.9 72.7 436.5 71.9 438.7 71.7 440.2 71.7 440.2 72.3 441.8 72.3 441.8 73.1 443.9 73.3 445.5 73.3 445.5 74.1 447.6 74.2 449.1 74.2 449.1 74.9 451.3 75.1 453.4 75.3 455.1 75.3 455.1 76.1 457.4 76.3 458.9 76.3 458.9 77.2 460.8 77.5 462.7 78.1 464.5 78.5 466.4 78.5 466.4 79.2 468.7 79.5 470.7 79.9 472.8 80.4 474.2 80.4 474.2 81.4 476.0 81.8 478.3 82.3 480.3 82.1 482.6 82.2 484.4 82.2 484.4 83.2 486.4 83.2 486.4 83.9 488.4 83.9 488.4 84.6 489.9 84.6 489.9 85.3 491.7 85.9 494.0 85.9 495.5 85.9 495.5 86.9 497.7 87.0 498.8 87.0 498.8 88.3 500.5 87.6 502.3 87.6 502.3 88.2 503.8 88.2 503.8 89.1 505.9 88.6 507.4 88.6 507.4 89.4 509.4 89.8 510.9 89.8 510.9 90.5 513.1 90.4 515.1 90.8 516.5 90.8 516.5 91.7 517.7 91.7 517.7 93.0 519.7 93.4 521.1 93.4 521.1 94.2 522.8 94.2 522.8 94.8 525.0 94.7 526.7 95.2 528.7 95.5 529.9 95.5 529.9 96.6 531.8 96.6 531.8 97.2 533.4 97.2 533.4 98.3 535.5 97.7 537.6 97.9 539.3 97.9 539.3 98.5 541.5 98.4 542.8 98.4 542.8 99.4 543.2 99.4 543.2 101.3 544.9 101.3 544.9 102.0 547.3 102.0 549.0 102.0 549.0 102.7 551.1 102.8 551.7 102.8 551.7 104.4 553.4 104.4 553.4 105.2 555.1 105.2 555.1 105.8 557.2 105.7 559.2 105.5 560.5 105.5 560.5 106.7 562.3 106.2 563.2 106.2 563.2 107.6 563.7 107.6 563.7 109.4 565.3 109.4 565.3 110.2 566.9 110.2 566.9 111.1 568.6 111.1 568.6 111.9 570.3 112.5 571.2 112.5 571.2 113.9 571.8 113.9 571.8 115.7 573.0 115.7 573.0 116.9 574.6 116.9 574.6 117.7 576.4 118.2 577.0 118.2 577.0 120.1 578.0 120.1 578.0 121.4 579.7 121.4 579.7 122.1 581.3 122.1 581.3 122.9 581.9 122.9 581.9 124.6 582.7 124.6 582.7 126.1 584.8 125.9 586.6 126.5 587.9 126.5 587.9 127.8 589.6 128.3 591.6 128.7 592.0 128.7 592.0 130.6 592.5 130.6 592.5 132.2 593.8 132.2 593.8 133.2 594.7 133.2 594.7 134.7 595.7 134.7 595.7 136.0 596.4 136.0 596.4 137.7 597.5 137.7 597.5 138.9 598.7 138.9 598.7 140.2 598.9 140.2 598.9 142.2 600.5 142.2 600.5 143.0 602.5 143.3 602.6 143.3 602.6 145.6 604.2 145.6 604.2 146.5 605.2 146.5 605.2 147.7 607.1 148.1 607.8 148.1 607.8 149.7 609.1 149.7 609.1 150.9 609.3 150.9 609.3 153.0 609.6 153.0 609.6 155.0 609.4 155.0 609.4 157.1 610.8 157.1 610.8 158.0 612.5 158.0 612.5 158.6 612.3 158.6 612.3 160.6 613.9 160.6 613.9 161.3 614.8 161.3 614.8 162.9 616.6 163.4 616.9 163.4 616.9 165.6 618.5 165.6 618.5 166.5 619.3 166.5 619.3 168.0 619.7 168.0 619.7 170.5 619.6 170.5 619.6 174.1 620.3 174.1 620.3 178.0 623.5 178.0 623.5 182.4 625.5 182.4 625.5 186.0 625.0 186.0 625.0 189.2 627.1 189.2 627.1 192.8 627.2 192.8 627.2 196.0 625.6 203.6 628.9 203.6 627.8 211.2 630.0 211.2 629.5 217.9 632.9 217.9 631.5 226.4 634.3 226.4 632.7 231.2 634.6 231.2 634.0 239.7 636.6 239.7 637.8 247.5 640.0 247.5 637.8 254.1 640.0 254.1 641.6 261.4 643.3 261.4 642.3 269.7 644.1 269.7 647.3 277.6 650.0 277.6 645.3 282.2 646.7 282.2 646.5 286.5 648.2 286.5 645.8 291.4 648.2 291.4 646.0 297.0 649.3 297.0 649.3 301.2 650.4 301.2 648.6 306.2 650.2 306.2 648.2 309.0 649.6 309.0 649.1 318.0 648.2 326.2 646.7 333.6 644.9 340.1 642.5 345.9 639.6 350.8 636.3 354.9 632.5 358.1 628.3 360.6 623.5 362.2 618.3 363.0 655.4 363.0 655.4 374.1" stroke="#4291e1"/>
</g>
<rect x="66.6" y="215.4" width="259.8" height="167.8" rx="3.5" fill="#fff" stroke="#ebebeb" stroke-width="1"/>
<path d="M72.0 225.30h26.2" stroke="#1f77b4" stroke-width="1.7" stroke-linecap="round"/>
<text transform="translate(109.3 230.00) scale(1 1.1)" class="lg">L-1</text>
<path d="M72.0 243.69h26.2" stroke="#aec7e8" stroke-width="1.7" stroke-linecap="round"/>
<text transform="translate(109.3 248.39) scale(1 1.1)" class="lg">L-2</text>
<path d="M72.0 262.08h26.2" stroke="#ff7f0e" stroke-width="1.7" stroke-linecap="round"/>
<text transform="translate(109.3 266.78) scale(1 1.1)" class="lg">L-3</text>
<path d="M72.0 280.47h26.2" stroke="#ffbb78" stroke-width="1.7" stroke-linecap="round"/>
<text transform="translate(109.3 285.17) scale(1 1.1)" class="lg">L-4</text>
<path d="M72.0 298.86h26.2" stroke="#2ca02c" stroke-width="1.7" stroke-linecap="round"/>
<text transform="translate(109.3 303.56) scale(1 1.1)" class="lg">L-5</text>
<path d="M72.0 317.25h26.2" stroke="#98df8a" stroke-width="1.7" stroke-linecap="round"/>
<text transform="translate(109.3 321.95) scale(1 1.1)" class="lg">L-6</text>
<path d="M72.0 335.64h26.2" stroke="#d62728" stroke-width="1.7" stroke-linecap="round"/>
<text transform="translate(109.3 340.34) scale(1 1.1)" class="lg">L-7</text>
<path d="M72.0 354.03h26.2" stroke="#ff9896" stroke-width="1.7" stroke-linecap="round"/>
<text transform="translate(109.3 358.73) scale(1 1.1)" class="lg">L-8</text>
<path d="M72.0 372.42h26.2" stroke="#9467bd" stroke-width="1.7" stroke-linecap="round"/>
<text transform="translate(109.3 377.12) scale(1 1.1)" class="lg">L-9</text>
<path d="M158.9 225.30h26.2" stroke="#c5b0d5" stroke-width="1.7" stroke-linecap="round"/>
<text transform="translate(196.1 230.00) scale(1 1.1)" class="lg">L-10</text>
<path d="M158.9 243.69h26.2" stroke="#8c564b" stroke-width="1.7" stroke-linecap="round"/>
<text transform="translate(196.1 248.39) scale(1 1.1)" class="lg">L-11</text>
<path d="M158.9 262.08h26.2" stroke="#c49c94" stroke-width="1.7" stroke-linecap="round"/>
<text transform="translate(196.1 266.78) scale(1 1.1)" class="lg">L-12</text>
<path d="M158.9 280.47h26.2" stroke="#e377c2" stroke-width="1.7" stroke-linecap="round"/>
<text transform="translate(196.1 285.17) scale(1 1.1)" class="lg">L-13</text>
<path d="M158.9 298.86h26.2" stroke="#f7b6d2" stroke-width="1.7" stroke-linecap="round"/>
<text transform="translate(196.1 303.56) scale(1 1.1)" class="lg">L-14</text>
<path d="M158.9 317.25h26.2" stroke="#7f7f7f" stroke-width="1.7" stroke-linecap="round"/>
<text transform="translate(196.1 321.95) scale(1 1.1)" class="lg">L-15</text>
<path d="M158.9 335.64h26.2" stroke="#c7c7c7" stroke-width="1.7" stroke-linecap="round"/>
<text transform="translate(196.1 340.34) scale(1 1.1)" class="lg">L-16</text>
<path d="M158.9 354.03h26.2" stroke="#bcbd22" stroke-width="1.7" stroke-linecap="round"/>
<text transform="translate(196.1 358.73) scale(1 1.1)" class="lg">L-17</text>
<path d="M158.9 372.42h26.2" stroke="#dbdb8d" stroke-width="1.7" stroke-linecap="round"/>
<text transform="translate(196.1 377.12) scale(1 1.1)" class="lg">L-18</text>
<path d="M253.5 225.30h26.2" stroke="#17becf" stroke-width="1.7" stroke-linecap="round"/>
<text transform="translate(290.1 230.00) scale(1 1.1)" class="lg">L-19</text>
<path d="M253.5 243.69h26.2" stroke="#e6b03c" stroke-width="1.7" stroke-linecap="round"/>
<text transform="translate(290.1 248.39) scale(1 1.1)" class="lg">L-20</text>
<path d="M253.5 262.08h26.2" stroke="#9edae5" stroke-width="1.7" stroke-linecap="round"/>
<text transform="translate(290.1 266.78) scale(1 1.1)" class="lg">L-21</text>
<path d="M253.5 280.47h26.2" stroke="#3ed660" stroke-width="1.7" stroke-linecap="round"/>
<text transform="translate(290.1 285.17) scale(1 1.1)" class="lg">L-22</text>
<path d="M253.5 298.86h26.2" stroke="#a3d3e8" stroke-width="1.7" stroke-linecap="round"/>
<text transform="translate(290.1 303.56) scale(1 1.1)" class="lg">L-23</text>
<path d="M253.5 317.25h26.2" stroke="#e05a55" stroke-width="1.7" stroke-linecap="round"/>
<text transform="translate(290.1 321.95) scale(1 1.1)" class="lg">L-24</text>
<path d="M253.5 335.64h26.2" stroke="#a6d8e5" stroke-width="1.7" stroke-linecap="round"/>
<text transform="translate(290.1 340.34) scale(1 1.1)" class="lg">L-25</text>
<path d="M253.5 354.03h26.2" stroke="#4291e1" stroke-width="1.7" stroke-linecap="round"/>
<text transform="translate(290.1 358.73) scale(1 1.1)" class="lg">L-26</text>
<rect x="60.5" y="28.0" width="623.50" height="362.50" fill="none" stroke="#404040" stroke-width="1.05"/>
<path d="M67.30 390.5v6M60.5 374.10h-6M184.92 390.5v6M60.5 308.16h-6M302.54 390.5v6M60.5 242.22h-6M420.16 390.5v6M60.5 176.28h-6M537.78 390.5v6M60.5 110.34h-6M655.40 390.5v6M60.5 44.40h-6" stroke="#404040" stroke-width="1.05"/>
<path d="M96.70 390.5v3M60.5 357.62h-3M126.11 390.5v3M60.5 341.13h-3M155.52 390.5v3M60.5 324.65h-3M214.32 390.5v3M60.5 291.68h-3M243.73 390.5v3M60.5 275.19h-3M273.14 390.5v3M60.5 258.71h-3M331.95 390.5v3M60.5 225.74h-3M361.35 390.5v3M60.5 209.25h-3M390.76 390.5v3M60.5 192.77h-3M449.57 390.5v3M60.5 159.80h-3M478.97 390.5v3M60.5 143.31h-3M508.38 390.5v3M60.5 126.83h-3M567.19 390.5v3M60.5 93.86h-3M596.59 390.5v3M60.5 77.37h-3M626.00 390.5v3M60.5 60.88h-3" stroke="#b0b0b0" stroke-width="1"/>
<text transform="translate(67.30 410.2) scale(1 1.05)" text-anchor="middle" class="tl">0.0</text>
<text transform="translate(49.9 379.10) scale(1 1.05)" text-anchor="end" class="tl">0.0</text>
<text transform="translate(184.92 410.2) scale(1 1.05)" text-anchor="middle" class="tl">0.2</text>
<text transform="translate(49.9 313.16) scale(1 1.05)" text-anchor="end" class="tl">0.2</text>
<text transform="translate(302.54 410.2) scale(1 1.05)" text-anchor="middle" class="tl">0.4</text>
<text transform="translate(49.9 247.22) scale(1 1.05)" text-anchor="end" class="tl">0.4</text>
<text transform="translate(420.16 410.2) scale(1 1.05)" text-anchor="middle" class="tl">0.6</text>
<text transform="translate(49.9 181.28) scale(1 1.05)" text-anchor="end" class="tl">0.6</text>
<text transform="translate(537.78 410.2) scale(1 1.05)" text-anchor="middle" class="tl">0.8</text>
<text transform="translate(49.9 115.34) scale(1 1.05)" text-anchor="end" class="tl">0.8</text>
<text transform="translate(655.40 410.2) scale(1 1.05)" text-anchor="middle" class="tl">1.0</text>
<text transform="translate(49.9 49.40) scale(1 1.05)" text-anchor="end" class="tl">1.0</text>
<text transform="translate(371.3 436.6) scale(1 1.1)" text-anchor="middle" class="tl">Recall</text>
<text transform="translate(9.9 211.3) rotate(-90) scale(1 1.1)" text-anchor="middle" class="tl">Precision</text>
<text x="371.7" y="13.2" text-anchor="middle" class="title">Precision-Recall Curve</text>
</svg></body></html>
